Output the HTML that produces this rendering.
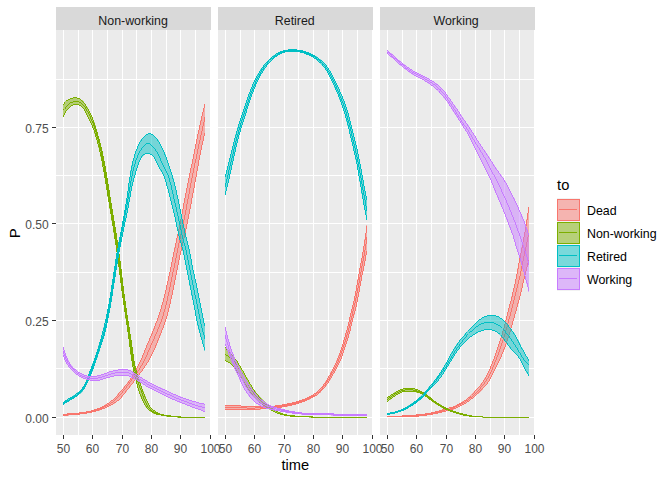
<!DOCTYPE html>
<html><head><meta charset="utf-8"><title>plot</title>
<style>
html,body{margin:0;padding:0;background:#fff;}
body{width:672px;height:480px;overflow:hidden;}
svg{display:block;}
text{font-family:"Liberation Sans",sans-serif;}
.tk{font-size:12px;fill:#4D4D4D;}
.st{font-size:12.4px;fill:#1A1A1A;}
.lg{font-size:12.4px;fill:#000;}
.ti{font-size:14.67px;fill:#000;}
</style></head><body>
<svg width="672" height="480" viewBox="0 0 672 480">
<rect x="0" y="0" width="672" height="480" fill="#FFFFFF"/>
<defs>
<clipPath id="cp0"><rect x="56.0" y="30.0" width="155.0" height="405.0"/></clipPath>
<clipPath id="cc0"><rect x="63" y="30.0" width="142" height="405.0"/></clipPath>
<clipPath id="cp1"><rect x="218.0" y="30.0" width="155.0" height="405.0"/></clipPath>
<clipPath id="cc1"><rect x="225" y="30.0" width="142" height="405.0"/></clipPath>
<clipPath id="cp2"><rect x="380.0" y="30.0" width="155.0" height="405.0"/></clipPath>
<clipPath id="cc2"><rect x="387" y="30.0" width="142" height="405.0"/></clipPath>
</defs>
<rect x="56.0" y="7.0" width="155.0" height="23.0" fill="#D9D9D9"/>
<rect x="56.0" y="30.0" width="155.0" height="405.0" fill="#EBEBEB"/>
<g clip-path="url(#cp0)" shape-rendering="crispEdges">
<rect x="56.0" y="368" width="155.0" height="1" fill="#fff"/>
<rect x="56.0" y="272" width="155.0" height="1" fill="#fff"/>
<rect x="56.0" y="175" width="155.0" height="1" fill="#fff"/>
<rect x="56.0" y="79" width="155.0" height="1" fill="#fff"/>
<rect x="56.0" y="417" width="155.0" height="1" fill="#fff"/>
<rect x="56.0" y="320" width="155.0" height="1" fill="#fff"/>
<rect x="56.0" y="223" width="155.0" height="1" fill="#fff"/>
<rect x="56.0" y="127" width="155.0" height="1" fill="#fff"/>
<rect x="78" y="30.0" width="1" height="405.0" fill="#fff"/>
<rect x="107" y="30.0" width="1" height="405.0" fill="#fff"/>
<rect x="136" y="30.0" width="1" height="405.0" fill="#fff"/>
<rect x="166" y="30.0" width="1" height="405.0" fill="#fff"/>
<rect x="195" y="30.0" width="1" height="405.0" fill="#fff"/>
<rect x="63" y="30.0" width="1" height="405.0" fill="#fff"/>
<rect x="92" y="30.0" width="1" height="405.0" fill="#fff"/>
<rect x="122" y="30.0" width="1" height="405.0" fill="#fff"/>
<rect x="151" y="30.0" width="1" height="405.0" fill="#fff"/>
<rect x="180" y="30.0" width="1" height="405.0" fill="#fff"/>
<rect x="210" y="30.0" width="1" height="405.0" fill="#fff"/>
<g clip-path="url(#cc0)">
<path d="M63.0,413.7 L63.5,413.7 L63.9,413.7 L64.4,413.6 L64.9,413.6 L65.4,413.6 L65.8,413.6 L66.3,413.6 L66.8,413.5 L67.3,413.5 L67.7,413.5 L68.2,413.5 L68.7,413.4 L69.2,413.4 L69.6,413.4 L70.1,413.3 L70.6,413.3 L71.1,413.3 L71.5,413.2 L72.0,413.2 L72.5,413.2 L73.0,413.1 L73.4,413.1 L73.9,413.1 L74.4,413.0 L74.9,413.0 L75.3,412.9 L75.8,412.9 L76.3,412.8 L76.8,412.8 L77.2,412.7 L77.7,412.7 L78.2,412.6 L78.7,412.6 L79.1,412.5 L79.6,412.5 L80.1,412.4 L80.6,412.4 L81.0,412.3 L81.5,412.2 L82.0,412.2 L82.5,412.1 L82.9,412.0 L83.4,412.0 L83.9,411.9 L84.4,411.8 L84.8,411.8 L85.3,411.7 L85.8,411.6 L86.3,411.5 L86.7,411.4 L87.2,411.3 L87.7,411.2 L88.2,411.1 L88.6,411.0 L89.1,410.9 L89.6,410.8 L90.1,410.7 L90.5,410.6 L91.0,410.5 L91.5,410.3 L92.0,410.2 L92.4,410.1 L92.9,409.9 L93.4,409.8 L93.9,409.6 L94.3,409.5 L94.8,409.4 L95.3,409.2 L95.8,409.0 L96.2,408.9 L96.7,408.7 L97.2,408.6 L97.7,408.4 L98.1,408.2 L98.6,408.0 L99.1,407.8 L99.6,407.6 L100.0,407.4 L100.5,407.2 L101.0,406.9 L101.5,406.7 L101.9,406.5 L102.4,406.2 L102.9,406.0 L103.4,405.7 L103.8,405.4 L104.3,405.2 L104.8,404.9 L105.3,404.6 L105.7,404.3 L106.2,404.0 L106.7,403.7 L107.2,403.4 L107.6,403.1 L108.1,402.8 L108.6,402.5 L109.1,402.2 L109.5,401.8 L110.0,401.5 L110.5,401.1 L111.0,400.8 L111.4,400.4 L111.9,400.0 L112.4,399.6 L112.9,399.2 L113.3,398.8 L113.8,398.3 L114.3,397.9 L114.8,397.4 L115.2,396.9 L115.7,396.4 L116.2,395.9 L116.7,395.4 L117.1,394.9 L117.6,394.3 L118.1,393.8 L118.6,393.2 L119.0,392.7 L119.5,392.1 L120.0,391.5 L120.5,391.0 L120.9,390.4 L121.4,389.9 L121.9,389.3 L122.4,388.7 L122.8,388.2 L123.3,387.6 L123.8,387.1 L124.3,386.5 L124.7,385.9 L125.2,385.4 L125.7,384.8 L126.2,384.2 L126.6,383.6 L127.1,382.9 L127.6,382.3 L128.1,381.6 L128.5,381.0 L129.0,380.3 L129.5,379.6 L130.0,378.9 L130.4,378.2 L130.9,377.5 L131.4,376.8 L131.9,376.1 L132.3,375.3 L132.8,374.6 L133.3,373.8 L133.8,373.0 L134.2,372.3 L134.7,371.5 L135.2,370.6 L135.7,369.8 L136.1,368.9 L136.6,368.1 L137.1,367.2 L137.6,366.2 L138.0,365.3 L138.5,364.3 L139.0,363.3 L139.5,362.3 L139.9,361.2 L140.4,360.1 L140.9,359.0 L141.4,357.9 L141.8,356.8 L142.3,355.6 L142.8,354.5 L143.3,353.3 L143.7,352.1 L144.2,350.9 L144.7,349.8 L145.2,348.6 L145.6,347.4 L146.1,346.3 L146.6,345.1 L147.1,344.0 L147.5,342.9 L148.0,341.8 L148.5,340.6 L149.0,339.5 L149.4,338.4 L149.9,337.3 L150.4,336.2 L150.9,335.0 L151.3,333.9 L151.8,332.7 L152.3,331.6 L152.8,330.4 L153.2,329.2 L153.7,328.0 L154.2,326.8 L154.7,325.6 L155.1,324.3 L155.6,323.0 L156.1,321.7 L156.6,320.4 L157.0,319.1 L157.5,317.7 L158.0,316.4 L158.5,315.0 L158.9,313.5 L159.4,312.1 L159.9,310.6 L160.4,309.0 L160.8,307.4 L161.3,305.8 L161.8,304.2 L162.3,302.4 L162.7,300.7 L163.2,298.9 L163.7,297.0 L164.2,295.2 L164.6,293.2 L165.1,291.3 L165.6,289.3 L166.1,287.2 L166.5,285.2 L167.0,283.1 L167.5,280.9 L168.0,278.8 L168.4,276.6 L168.9,274.3 L169.4,272.1 L169.9,269.8 L170.3,267.5 L170.8,265.2 L171.3,262.9 L171.8,260.6 L172.2,258.3 L172.7,256.0 L173.2,253.7 L173.7,251.4 L174.1,249.2 L174.6,246.9 L175.1,244.7 L175.6,242.5 L176.0,240.3 L176.5,238.1 L177.0,235.9 L177.5,233.7 L177.9,231.5 L178.4,229.2 L178.9,227.0 L179.4,224.6 L179.8,222.3 L180.3,219.9 L180.8,217.5 L181.3,215.1 L181.7,212.6 L182.2,210.1 L182.7,207.6 L183.2,205.1 L183.6,202.6 L184.1,200.1 L184.6,197.6 L185.1,195.2 L185.5,192.7 L186.0,190.3 L186.5,187.9 L187.0,185.5 L187.4,183.1 L187.9,180.8 L188.4,178.5 L188.9,176.2 L189.3,173.9 L189.8,171.7 L190.3,169.4 L190.8,167.2 L191.2,164.9 L191.7,162.7 L192.2,160.4 L192.7,158.1 L193.1,155.8 L193.6,153.5 L194.1,151.2 L194.6,148.8 L195.0,146.5 L195.5,144.1 L196.0,141.8 L196.5,139.4 L196.9,137.1 L197.4,134.8 L197.9,132.5 L198.4,130.2 L198.8,128.0 L199.3,125.8 L199.8,123.7 L200.3,121.5 L200.7,119.5 L201.2,117.4 L201.7,115.4 L202.2,113.4 L202.6,111.4 L203.1,109.5 L203.6,107.6 L204.1,105.7 L204.5,103.8 L205.0,101.9 L205.0,134.1 L204.5,136.1 L204.1,138.2 L203.6,140.3 L203.1,142.5 L202.6,144.7 L202.2,146.9 L201.7,149.2 L201.2,151.6 L200.7,154.0 L200.3,156.4 L199.8,158.9 L199.3,161.4 L198.8,164.0 L198.4,166.5 L197.9,169.1 L197.4,171.7 L196.9,174.3 L196.5,176.9 L196.0,179.5 L195.5,182.1 L195.0,184.7 L194.6,187.3 L194.1,189.8 L193.6,192.4 L193.1,194.9 L192.7,197.5 L192.2,200.0 L191.7,202.5 L191.2,205.0 L190.8,207.5 L190.3,210.0 L189.8,212.5 L189.3,214.9 L188.9,217.4 L188.4,219.8 L187.9,222.1 L187.4,224.4 L187.0,226.7 L186.5,229.0 L186.0,231.1 L185.5,233.3 L185.1,235.4 L184.6,237.5 L184.1,239.5 L183.6,241.5 L183.2,243.6 L182.7,245.6 L182.2,247.6 L181.7,249.7 L181.3,251.8 L180.8,254.0 L180.3,256.1 L179.8,258.4 L179.4,260.6 L178.9,262.9 L178.4,265.2 L177.9,267.6 L177.5,270.0 L177.0,272.4 L176.5,274.8 L176.0,277.2 L175.6,279.6 L175.1,282.0 L174.6,284.4 L174.1,286.8 L173.7,289.1 L173.2,291.5 L172.7,293.8 L172.2,296.0 L171.8,298.3 L171.3,300.4 L170.8,302.6 L170.3,304.7 L169.9,306.7 L169.4,308.6 L168.9,310.5 L168.4,312.4 L168.0,314.1 L167.5,315.8 L167.0,317.5 L166.5,319.1 L166.1,320.6 L165.6,322.0 L165.1,323.5 L164.6,324.8 L164.2,326.1 L163.7,327.4 L163.2,328.7 L162.7,329.9 L162.3,331.1 L161.8,332.3 L161.3,333.5 L160.8,334.7 L160.4,335.9 L159.9,337.1 L159.4,338.2 L158.9,339.4 L158.5,340.6 L158.0,341.8 L157.5,342.9 L157.0,344.1 L156.6,345.3 L156.1,346.4 L155.6,347.5 L155.1,348.6 L154.7,349.7 L154.2,350.7 L153.7,351.7 L153.2,352.8 L152.8,353.7 L152.3,354.7 L151.8,355.7 L151.3,356.6 L150.9,357.5 L150.4,358.4 L149.9,359.3 L149.4,360.1 L149.0,361.0 L148.5,361.8 L148.0,362.6 L147.5,363.4 L147.1,364.1 L146.6,364.9 L146.1,365.6 L145.6,366.3 L145.2,367.0 L144.7,367.7 L144.2,368.4 L143.7,369.1 L143.3,369.7 L142.8,370.4 L142.3,371.0 L141.8,371.6 L141.4,372.2 L140.9,372.9 L140.4,373.5 L139.9,374.1 L139.5,374.7 L139.0,375.3 L138.5,376.0 L138.0,376.6 L137.6,377.2 L137.1,377.9 L136.6,378.5 L136.1,379.2 L135.7,379.8 L135.2,380.4 L134.7,381.1 L134.2,381.7 L133.8,382.4 L133.3,383.0 L132.8,383.6 L132.3,384.3 L131.9,384.9 L131.4,385.5 L130.9,386.1 L130.4,386.7 L130.0,387.3 L129.5,387.9 L129.0,388.5 L128.5,389.1 L128.1,389.7 L127.6,390.2 L127.1,390.8 L126.6,391.4 L126.2,392.0 L125.7,392.6 L125.2,393.2 L124.7,393.8 L124.3,394.4 L123.8,395.0 L123.3,395.6 L122.8,396.2 L122.4,396.7 L121.9,397.3 L121.4,397.8 L120.9,398.3 L120.5,398.8 L120.0,399.3 L119.5,399.8 L119.0,400.2 L118.6,400.6 L118.1,401.0 L117.6,401.4 L117.1,401.8 L116.7,402.1 L116.2,402.4 L115.7,402.8 L115.2,403.1 L114.8,403.4 L114.3,403.7 L113.8,404.0 L113.3,404.3 L112.9,404.5 L112.4,404.8 L111.9,405.1 L111.4,405.3 L111.0,405.6 L110.5,405.8 L110.0,406.1 L109.5,406.3 L109.1,406.5 L108.6,406.8 L108.1,407.0 L107.6,407.2 L107.2,407.4 L106.7,407.6 L106.2,407.9 L105.7,408.1 L105.3,408.3 L104.8,408.5 L104.3,408.7 L103.8,408.9 L103.4,409.1 L102.9,409.3 L102.4,409.4 L101.9,409.6 L101.5,409.8 L101.0,410.0 L100.5,410.1 L100.0,410.3 L99.6,410.5 L99.1,410.6 L98.6,410.8 L98.1,410.9 L97.7,411.1 L97.2,411.2 L96.7,411.3 L96.2,411.5 L95.8,411.6 L95.3,411.7 L94.8,411.8 L94.3,412.0 L93.9,412.1 L93.4,412.2 L92.9,412.3 L92.4,412.4 L92.0,412.6 L91.5,412.7 L91.0,412.8 L90.5,412.9 L90.1,413.0 L89.6,413.1 L89.1,413.2 L88.6,413.3 L88.2,413.4 L87.7,413.4 L87.2,413.5 L86.7,413.6 L86.3,413.7 L85.8,413.8 L85.3,413.8 L84.8,413.9 L84.4,414.0 L83.9,414.0 L83.4,414.1 L82.9,414.2 L82.5,414.2 L82.0,414.3 L81.5,414.3 L81.0,414.4 L80.6,414.4 L80.1,414.5 L79.6,414.5 L79.1,414.6 L78.7,414.6 L78.2,414.7 L77.7,414.7 L77.2,414.8 L76.8,414.8 L76.3,414.9 L75.8,414.9 L75.3,414.9 L74.9,415.0 L74.4,415.0 L73.9,415.1 L73.4,415.1 L73.0,415.1 L72.5,415.2 L72.0,415.2 L71.5,415.3 L71.1,415.3 L70.6,415.3 L70.1,415.4 L69.6,415.4 L69.2,415.4 L68.7,415.5 L68.2,415.5 L67.7,415.5 L67.3,415.6 L66.8,415.6 L66.3,415.6 L65.8,415.7 L65.4,415.7 L64.9,415.7 L64.4,415.7 L63.9,415.8 L63.5,415.8 L63.0,415.8Z" fill="#F8766D" fill-opacity="0.5" stroke="none"/>
<path d="M79,412h13v1h-13zM97,408h8v1h-8zM108,404h2v1h-2zM111,404h2v1h-2zM67,413h20v1h-20zM107,403h2v1h-2zM86,411h10v1h-10zM94,409h8v1h-8zM63,414h17v1h-17zM63,415h5v1h-5zM102,406h4v1h-4zM107,406h2v1h-2zM111,400h2v1h-2zM117,400h2v1h-2zM104,405h4v1h-4zM109,405h2v1h-2zM91,410h8v1h-8zM100,407h4v1h-4zM105,407h2v1h-2zM128,382h2v1h-2zM130,379h2v1h-2zM111,402h2v1h-2zM114,402h2v1h-2zM201,116h1v5h-1zM201,131h1v4h-1zM201,145h1v5h-1zM185,193h1v5h-1zM185,210h1v5h-1zM185,229h1v4h-1zM149,338h1v3h-1zM149,348h1v2h-1zM149,358h1v2h-1zM187,183h1v5h-1zM187,199h1v5h-1zM187,219h1v5h-1zM197,134h1v5h-1zM197,149h1v5h-1zM197,166h1v5h-1zM161,305h1v4h-1zM161,319h1v3h-1zM161,330h1v3h-1zM188,178h1v5h-1zM188,194h1v5h-1zM188,214h1v5h-1zM179,224h1v5h-1zM179,239h1v4h-1zM179,255h1v5h-1zM189,173h1v5h-1zM189,188h1v6h-1zM189,209h1v5h-1zM176,238h1v5h-1zM176,253h1v5h-1zM176,270h1v5h-1zM106,404h1v1h-1zM138,364h1v2h-1zM138,370h1v1h-1zM138,375h1v1h-1zM175,243h1v5h-1zM175,258h1v5h-1zM175,275h1v5h-1zM202,112h1v4h-1zM202,126h1v5h-1zM202,141h1v4h-1zM191,164h1v4h-1zM191,178h1v5h-1zM191,198h1v6h-1zM192,159h1v5h-1zM192,173h1v5h-1zM192,193h1v5h-1zM180,219h1v5h-1zM180,234h1v5h-1zM180,251h1v4h-1zM165,290h1v4h-1zM165,305h1v4h-1zM165,319h1v3h-1zM118,393h1v2h-1zM118,396h1v1h-1zM142,355h1v3h-1zM142,363h1v2h-1zM142,369h1v2h-1zM154,326h1v3h-1zM154,336h1v3h-1zM154,348h1v2h-1zM196,139h1v5h-1zM196,154h1v5h-1zM196,171h1v6h-1zM166,285h1v5h-1zM166,301h1v4h-1zM166,316h1v3h-1zM184,198h1v5h-1zM184,215h1v5h-1zM184,233h1v5h-1zM113,399h1v1h-1zM113,401h1v1h-1zM113,403h1v1h-1zM158,315h1v3h-1zM158,327h1v2h-1zM158,338h1v2h-1zM133,374h1v1h-1zM133,377h1v1h-1zM133,381h1v2h-1zM193,154h1v5h-1zM193,168h1v5h-1zM193,188h1v5h-1zM183,203h1v6h-1zM183,220h1v5h-1zM183,238h1v4h-1zM170,267h1v5h-1zM170,282h1v5h-1zM170,299h1v5h-1zM171,262h1v5h-1zM171,277h1v5h-1zM171,295h1v4h-1zM157,318h1v3h-1zM157,329h1v3h-1zM157,340h1v3h-1zM160,309h1v3h-1zM160,322h1v2h-1zM160,333h1v2h-1zM122,389h1v1h-1zM122,391h1v2h-1zM122,395h1v1h-1zM174,248h1v4h-1zM174,263h1v5h-1zM174,280h1v5h-1zM153,329h1v2h-1zM153,339h1v2h-1zM153,350h1v2h-1zM162,302h1v3h-1zM162,316h1v3h-1zM162,328h1v2h-1zM178,229h1v5h-1zM178,243h1v5h-1zM178,260h1v5h-1zM121,390h1v1h-1zM121,393h1v1h-1zM121,396h1v2h-1zM141,358h1v2h-1zM141,365h1v1h-1zM141,371h1v1h-1zM144,350h1v3h-1zM144,359h1v2h-1zM144,366h1v2h-1zM110,401h1v1h-1zM110,403h1v1h-1zM169,272h1v4h-1zM169,287h1v5h-1zM169,304h1v4h-1zM173,252h1v5h-1zM173,268h1v4h-1zM173,285h1v5h-1zM200,121h1v4h-1zM200,135h1v5h-1zM200,150h1v5h-1zM177,234h1v4h-1zM177,248h1v5h-1zM177,265h1v5h-1zM129,380h1v1h-1zM129,383h1v1h-1zM129,386h1v2h-1zM182,209h1v5h-1zM182,225h1v4h-1zM182,242h1v4h-1zM168,276h1v5h-1zM168,292h1v4h-1zM168,308h1v4h-1zM125,385h1v1h-1zM125,388h1v1h-1zM125,391h1v2h-1zM117,395h1v1h-1zM117,397h1v1h-1zM140,360h1v2h-1zM140,366h1v2h-1zM140,372h1v1h-1zM120,391h1v1h-1zM120,394h1v1h-1zM120,398h1v1h-1zM204,104h1v4h-1zM204,117h1v5h-1zM204,133h1v3h-1zM190,168h1v5h-1zM190,183h1v5h-1zM190,204h1v5h-1zM152,331h1v3h-1zM152,341h1v2h-1zM152,352h1v2h-1zM132,375h1v2h-1zM132,378h1v1h-1zM132,383h1v1h-1zM156,321h1v2h-1zM156,332h1v2h-1zM156,343h1v2h-1zM145,348h1v2h-1zM145,357h1v2h-1zM145,365h1v1h-1zM195,144h1v5h-1zM195,159h1v4h-1zM195,177h1v5h-1zM172,257h1v5h-1zM172,272h1v5h-1zM172,290h1v5h-1zM124,386h1v2h-1zM124,389h1v1h-1zM124,393h1v1h-1zM199,125h1v5h-1zM199,140h1v4h-1zM199,155h1v5h-1zM116,396h1v1h-1zM116,398h1v1h-1zM116,401h1v1h-1zM203,108h1v4h-1zM203,122h1v4h-1zM203,136h1v5h-1zM128,381h1v1h-1zM128,384h1v1h-1zM128,388h1v1h-1zM148,341h1v2h-1zM148,350h1v2h-1zM148,360h1v2h-1zM186,188h1v5h-1zM186,204h1v6h-1zM186,224h1v5h-1zM151,334h1v2h-1zM151,343h1v2h-1zM151,354h1v2h-1zM194,149h1v5h-1zM194,163h1v5h-1zM194,182h1v6h-1zM181,214h1v5h-1zM181,229h1v5h-1zM181,246h1v5h-1zM135,370h1v2h-1zM135,374h1v1h-1zM135,378h1v2h-1zM147,343h1v2h-1zM147,352h1v3h-1zM147,362h1v1h-1zM198,130h1v4h-1zM198,144h1v5h-1zM198,160h1v6h-1zM139,362h1v2h-1zM139,368h1v2h-1zM139,373h1v2h-1zM164,294h1v4h-1zM164,309h1v3h-1zM164,322h1v3h-1zM159,312h1v3h-1zM159,324h1v3h-1zM159,335h1v3h-1zM127,383h1v1h-1zM127,385h1v1h-1zM127,389h1v1h-1zM163,298h1v4h-1zM163,312h1v4h-1zM163,325h1v3h-1zM155,323h1v3h-1zM155,334h1v2h-1zM155,345h1v3h-1zM123,388h1v1h-1zM123,390h1v1h-1zM123,394h1v1h-1zM143,353h1v2h-1zM143,361h1v2h-1zM143,368h1v1h-1zM167,281h1v4h-1zM167,296h1v5h-1zM167,312h1v4h-1zM131,377h1v1h-1zM131,380h1v1h-1zM131,384h1v1h-1zM115,397h1v1h-1zM115,399h1v1h-1zM126,384h1v1h-1zM126,386h1v2h-1zM126,390h1v1h-1zM134,372h1v2h-1zM134,375h1v2h-1zM134,380h1v1h-1zM146,345h1v3h-1zM146,355h1v2h-1zM146,363h1v2h-1zM119,392h1v1h-1zM119,395h1v1h-1zM119,399h1v1h-1zM114,398h1v1h-1zM114,400h1v1h-1zM150,336h1v2h-1zM150,345h1v3h-1zM150,356h1v2h-1zM137,366h1v2h-1zM137,371h1v2h-1zM137,376h1v1h-1zM130,378h1v1h-1zM130,381h1v1h-1zM130,385h1v1h-1zM109,402h1v1h-1zM136,368h1v2h-1zM136,373h1v1h-1zM136,377h1v1h-1z" fill="#F8766D"/>

<path d="M63.0,104.2 L63.5,103.6 L63.9,103.0 L64.4,102.4 L64.9,101.8 L65.4,101.3 L65.8,100.9 L66.3,100.5 L66.8,100.1 L67.3,99.8 L67.7,99.5 L68.2,99.2 L68.7,99.0 L69.2,98.8 L69.6,98.6 L70.1,98.4 L70.6,98.2 L71.1,98.1 L71.5,97.9 L72.0,97.7 L72.5,97.6 L73.0,97.5 L73.4,97.4 L73.9,97.3 L74.4,97.2 L74.9,97.2 L75.3,97.2 L75.8,97.2 L76.3,97.3 L76.8,97.4 L77.2,97.5 L77.7,97.7 L78.2,97.8 L78.7,98.0 L79.1,98.2 L79.6,98.5 L80.1,98.7 L80.6,99.0 L81.0,99.3 L81.5,99.6 L82.0,100.0 L82.5,100.4 L82.9,100.8 L83.4,101.3 L83.9,101.8 L84.4,102.4 L84.8,103.0 L85.3,103.7 L85.8,104.4 L86.3,105.2 L86.7,106.0 L87.2,106.9 L87.7,107.7 L88.2,108.6 L88.6,109.6 L89.1,110.5 L89.6,111.4 L90.1,112.4 L90.5,113.3 L91.0,114.3 L91.5,115.2 L92.0,116.2 L92.4,117.2 L92.9,118.2 L93.4,119.4 L93.9,120.6 L94.3,121.9 L94.8,123.3 L95.3,124.8 L95.8,126.3 L96.2,127.8 L96.7,129.3 L97.2,130.8 L97.7,132.5 L98.1,134.1 L98.6,135.9 L99.1,137.7 L99.6,139.5 L100.0,141.3 L100.5,143.1 L101.0,144.9 L101.5,146.8 L101.9,148.7 L102.4,150.7 L102.9,152.9 L103.4,155.1 L103.8,157.4 L104.3,159.7 L104.8,162.2 L105.3,164.7 L105.7,167.3 L106.2,170.0 L106.7,172.7 L107.2,175.5 L107.6,178.4 L108.1,181.4 L108.6,184.4 L109.1,187.4 L109.5,190.5 L110.0,193.6 L110.5,196.6 L111.0,199.6 L111.4,202.6 L111.9,205.6 L112.4,208.5 L112.9,211.4 L113.3,214.2 L113.8,217.1 L114.3,219.9 L114.8,222.8 L115.2,225.7 L115.7,228.6 L116.2,231.5 L116.7,234.5 L117.1,237.5 L117.6,240.5 L118.1,243.7 L118.6,246.9 L119.0,250.2 L119.5,253.6 L120.0,257.1 L120.5,260.8 L120.9,264.6 L121.4,268.4 L121.9,272.3 L122.4,276.3 L122.8,280.3 L123.3,284.2 L123.8,288.1 L124.3,291.9 L124.7,295.5 L125.2,299.0 L125.7,302.4 L126.2,305.7 L126.6,308.9 L127.1,312.0 L127.6,315.1 L128.1,318.1 L128.5,321.1 L129.0,324.0 L129.5,327.0 L130.0,330.1 L130.4,333.2 L130.9,336.3 L131.4,339.6 L131.9,342.9 L132.3,346.3 L132.8,349.6 L133.3,352.9 L133.8,356.1 L134.2,359.0 L134.7,361.7 L135.2,364.2 L135.7,366.4 L136.1,368.5 L136.6,370.5 L137.1,372.3 L137.6,374.0 L138.0,375.7 L138.5,377.3 L139.0,378.8 L139.5,380.3 L139.9,381.7 L140.4,383.1 L140.9,384.5 L141.4,385.8 L141.8,387.1 L142.3,388.3 L142.8,389.6 L143.3,390.8 L143.7,392.0 L144.2,393.2 L144.7,394.4 L145.2,395.6 L145.6,396.7 L146.1,397.9 L146.6,399.0 L147.1,400.0 L147.5,401.1 L148.0,402.1 L148.5,403.1 L149.0,404.1 L149.4,405.0 L149.9,405.9 L150.4,406.6 L150.9,407.3 L151.3,407.8 L151.8,408.3 L152.3,408.8 L152.8,409.2 L153.2,409.5 L153.7,409.9 L154.2,410.2 L154.7,410.5 L155.1,410.8 L155.6,411.1 L156.1,411.4 L156.6,411.6 L157.0,411.9 L157.5,412.2 L158.0,412.5 L158.5,412.7 L158.9,413.0 L159.4,413.2 L159.9,413.4 L160.4,413.6 L160.8,413.8 L161.3,413.9 L161.8,414.1 L162.3,414.2 L162.7,414.3 L163.2,414.4 L163.7,414.5 L164.2,414.6 L164.6,414.7 L165.1,414.7 L165.6,414.8 L166.1,414.9 L166.5,415.0 L167.0,415.0 L167.5,415.1 L168.0,415.2 L168.4,415.2 L168.9,415.3 L169.4,415.3 L169.9,415.4 L170.3,415.5 L170.8,415.5 L171.3,415.6 L171.8,415.6 L172.2,415.7 L172.7,415.7 L173.2,415.8 L173.7,415.8 L174.1,415.9 L174.6,415.9 L175.1,416.0 L175.6,416.0 L176.0,416.1 L176.5,416.1 L177.0,416.2 L177.5,416.2 L177.9,416.2 L178.4,416.3 L178.9,416.3 L179.4,416.4 L179.8,416.4 L180.3,416.5 L180.8,416.5 L181.3,416.5 L181.7,416.6 L182.2,416.6 L182.7,416.7 L183.2,416.7 L183.6,416.7 L184.1,416.7 L184.6,416.8 L185.1,416.8 L185.5,416.8 L186.0,416.9 L186.5,416.9 L187.0,416.9 L187.4,416.9 L187.9,416.9 L188.4,417.0 L188.9,417.0 L189.3,417.0 L189.8,417.0 L190.3,417.0 L190.8,417.0 L191.2,417.0 L191.7,417.0 L192.2,417.0 L192.7,417.0 L193.1,417.0 L193.6,417.0 L194.1,417.0 L194.6,417.0 L195.0,417.0 L195.5,417.0 L196.0,417.0 L196.5,417.0 L196.9,417.0 L197.4,417.0 L197.9,417.0 L198.4,417.0 L198.8,417.0 L199.3,417.0 L199.8,417.0 L200.3,417.0 L200.7,417.0 L201.2,417.0 L201.7,417.0 L202.2,417.0 L202.6,417.0 L203.1,417.0 L203.6,417.0 L204.1,417.0 L204.5,417.0 L205.0,417.0 L205.0,418.0 L204.5,418.0 L204.1,418.0 L203.6,418.0 L203.1,418.0 L202.6,418.0 L202.2,418.0 L201.7,418.0 L201.2,418.0 L200.7,418.0 L200.3,418.0 L199.8,418.0 L199.3,418.0 L198.8,418.0 L198.4,418.0 L197.9,418.0 L197.4,418.0 L196.9,418.0 L196.5,418.0 L196.0,418.0 L195.5,418.0 L195.0,418.0 L194.6,418.0 L194.1,418.0 L193.6,418.0 L193.1,418.0 L192.7,418.0 L192.2,418.0 L191.7,418.0 L191.2,418.0 L190.8,418.0 L190.3,418.0 L189.8,418.0 L189.3,418.0 L188.9,418.0 L188.4,418.0 L187.9,417.9 L187.4,417.9 L187.0,417.9 L186.5,417.9 L186.0,417.9 L185.5,417.8 L185.1,417.8 L184.6,417.8 L184.1,417.8 L183.6,417.7 L183.2,417.7 L182.7,417.7 L182.2,417.7 L181.7,417.7 L181.3,417.6 L180.8,417.6 L180.3,417.6 L179.8,417.6 L179.4,417.6 L178.9,417.5 L178.4,417.5 L177.9,417.5 L177.5,417.5 L177.0,417.4 L176.5,417.4 L176.0,417.4 L175.6,417.3 L175.1,417.3 L174.6,417.3 L174.1,417.2 L173.7,417.2 L173.2,417.2 L172.7,417.1 L172.2,417.1 L171.8,417.0 L171.3,417.0 L170.8,417.0 L170.3,416.9 L169.9,416.9 L169.4,416.8 L168.9,416.8 L168.4,416.7 L168.0,416.7 L167.5,416.6 L167.0,416.5 L166.5,416.5 L166.1,416.4 L165.6,416.3 L165.1,416.2 L164.6,416.2 L164.2,416.1 L163.7,416.0 L163.2,415.9 L162.7,415.8 L162.3,415.8 L161.8,415.7 L161.3,415.6 L160.8,415.5 L160.4,415.4 L159.9,415.4 L159.4,415.3 L158.9,415.2 L158.5,415.1 L158.0,415.1 L157.5,415.0 L157.0,414.9 L156.6,414.8 L156.1,414.6 L155.6,414.5 L155.1,414.3 L154.7,414.1 L154.2,413.9 L153.7,413.7 L153.2,413.4 L152.8,413.1 L152.3,412.8 L151.8,412.5 L151.3,412.2 L150.9,411.9 L150.4,411.5 L149.9,411.2 L149.4,410.8 L149.0,410.4 L148.5,409.9 L148.0,409.4 L147.5,409.0 L147.1,408.4 L146.6,407.9 L146.1,407.3 L145.6,406.7 L145.2,406.1 L144.7,405.4 L144.2,404.6 L143.7,403.8 L143.3,402.9 L142.8,401.9 L142.3,400.9 L141.8,399.9 L141.4,398.7 L140.9,397.6 L140.4,396.3 L139.9,395.0 L139.5,393.6 L139.0,392.3 L138.5,390.8 L138.0,389.3 L137.6,387.8 L137.1,386.2 L136.6,384.6 L136.1,382.9 L135.7,381.1 L135.2,379.3 L134.7,377.4 L134.2,375.4 L133.8,373.3 L133.3,371.1 L132.8,368.8 L132.3,366.3 L131.9,363.6 L131.4,360.6 L130.9,357.4 L130.4,354.0 L130.0,350.4 L129.5,346.7 L129.0,343.0 L128.5,339.3 L128.1,335.8 L127.6,332.4 L127.1,329.1 L126.6,325.9 L126.2,322.8 L125.7,319.7 L125.2,316.7 L124.7,313.6 L124.3,310.5 L123.8,307.3 L123.3,304.0 L122.8,300.7 L122.4,297.3 L121.9,293.7 L121.4,290.1 L120.9,286.4 L120.5,282.6 L120.0,278.8 L119.5,275.0 L119.0,271.2 L118.6,267.4 L118.1,263.7 L117.6,260.1 L117.1,256.6 L116.7,253.2 L116.2,249.8 L115.7,246.6 L115.2,243.5 L114.8,240.4 L114.3,237.3 L113.8,234.3 L113.3,231.4 L112.9,228.5 L112.4,225.6 L111.9,222.7 L111.4,219.9 L111.0,217.1 L110.5,214.2 L110.0,211.4 L109.5,208.6 L109.1,205.7 L108.6,202.9 L108.1,200.0 L107.6,197.1 L107.2,194.2 L106.7,191.3 L106.2,188.4 L105.7,185.5 L105.3,182.6 L104.8,179.8 L104.3,177.0 L103.8,174.3 L103.4,171.6 L102.9,168.9 L102.4,166.3 L101.9,163.8 L101.5,161.3 L101.0,158.9 L100.5,156.5 L100.0,154.2 L99.6,152.0 L99.1,150.0 L98.6,148.0 L98.1,146.1 L97.7,144.4 L97.2,142.7 L96.7,141.0 L96.2,139.4 L95.8,137.8 L95.3,136.1 L94.8,134.5 L94.3,132.9 L93.9,131.4 L93.4,130.0 L92.9,128.7 L92.4,127.5 L92.0,126.3 L91.5,125.2 L91.0,124.1 L90.5,123.0 L90.1,122.0 L89.6,121.0 L89.1,120.1 L88.6,119.2 L88.2,118.3 L87.7,117.4 L87.2,116.6 L86.7,115.7 L86.3,114.8 L85.8,113.8 L85.3,112.8 L84.8,111.9 L84.4,110.9 L83.9,110.0 L83.4,109.1 L82.9,108.4 L82.5,107.8 L82.0,107.3 L81.5,106.8 L81.0,106.4 L80.6,106.1 L80.1,105.9 L79.6,105.6 L79.1,105.5 L78.7,105.3 L78.2,105.2 L77.7,105.1 L77.2,105.0 L76.8,104.9 L76.3,104.9 L75.8,104.8 L75.3,104.8 L74.9,104.9 L74.4,105.0 L73.9,105.1 L73.4,105.3 L73.0,105.5 L72.5,105.7 L72.0,106.0 L71.5,106.3 L71.1,106.6 L70.6,106.9 L70.1,107.3 L69.6,107.7 L69.2,108.1 L68.7,108.5 L68.2,109.0 L67.7,109.6 L67.3,110.2 L66.8,110.9 L66.3,111.6 L65.8,112.3 L65.4,113.2 L64.9,114.1 L64.4,115.1 L63.9,116.1 L63.5,117.1 L63.0,118.2Z" fill="#7CAE00" fill-opacity="0.5" stroke="none"/>
<path d="M110,210h3v1h-3zM120,277h2v1h-2zM127,325h2v1h-2zM103,171h3v1h-3zM129,344h3v1h-3zM111,219h3v1h-3zM121,286h3v1h-3zM105,180h3v1h-3zM130,353h3v1h-3zM85,107h2v1h-2zM94,131h3v1h-3zM106,185h3v1h-3zM114,233h3v1h-3zM107,194h3v1h-3zM167,416h14v1h-14zM114,237h3v1h-3zM97,140h3v1h-3zM133,368h3v1h-3zM122,296h3v1h-3zM178,417h27v1h-27zM151,411h3v1h-3zM100,154h3v1h-3zM124,305h2v1h-2zM73,101h6v1h-6zM109,204h3v1h-3zM117,252h2v1h-2zM126,319h2v1h-2zM110,213h3v1h-3zM118,261h3v1h-3zM120,280h3v1h-3zM100,155h3v1h-3zM127,328h3v1h-3zM102,164h3v1h-3zM137,378h2v1h-2zM95,134h3v1h-3zM119,272h3v1h-3zM104,166h2v1h-2zM111,214h2v1h-2zM129,339h2v1h-2zM120,281h3v1h-3zM130,348h3v1h-3zM104,175h3v1h-3zM121,290h3v1h-3zM161,415h10v1h-10zM106,189h3v1h-3zM108,198h3v1h-3zM114,232h2v1h-2zM68,99h2v1h-2zM140,388h2v1h-2zM98,144h3v1h-3zM99,149h3v1h-3zM131,358h3v1h-3zM123,300h2v1h-2zM101,158h3v1h-3zM93,123h2v1h-2zM133,367h3v1h-3zM66,100h2v1h-2zM124,309h3v1h-3zM116,247h3v1h-3zM93,128h3v1h-3zM110,208h2v1h-2zM120,275h2v1h-2zM126,323h3v1h-3zM111,217h3v1h-3zM89,114h2v1h-2zM90,116h2v1h-2zM95,129h2v1h-2zM128,334h3v1h-3zM110,209h3v1h-3zM120,276h2v1h-2zM156,414h8v1h-8zM103,170h3v1h-3zM73,97h4v1h-4zM129,343h3v1h-3zM121,285h2v1h-2zM105,179h3v1h-3zM130,352h3v1h-3zM106,184h3v1h-3zM141,391h2v1h-2zM107,193h3v1h-3zM113,227h3v1h-3zM122,294h3v1h-3zM70,98h3v1h-3zM77,98h3v1h-3zM114,236h3v1h-3zM123,303h3v1h-3zM98,139h2v1h-2zM122,295h3v1h-3zM71,105h2v1h-2zM79,105h2v1h-2zM100,153h3v1h-3zM132,362h3v1h-3zM117,256h3v1h-3zM149,410h3v1h-3zM153,410h2v1h-2zM123,304h3v1h-3zM135,371h2v1h-2zM109,203h3v1h-3zM96,132h2v1h-2zM152,412h6v1h-6zM126,318h2v1h-2zM119,270h3v1h-3zM110,212h3v1h-3zM120,279h3v1h-3zM104,173h3v1h-3zM126,322h3v1h-3zM154,413h6v1h-6zM119,271h3v1h-3zM128,338h3v1h-3zM130,347h3v1h-3zM136,381h2v1h-2zM104,174h3v1h-3zM95,133h3v1h-3zM97,142h3v1h-3zM112,222h3v1h-3zM121,289h3v1h-3zM113,231h3v1h-3zM123,298h2v1h-2zM107,192h3v1h-3zM92,121h2v1h-2zM132,365h3v1h-3zM115,242h3v1h-3zM99,148h3v1h-3zM131,357h3v1h-3zM116,251h3v1h-3zM123,299h2v1h-2zM101,157h3v1h-3zM94,127h2v1h-2zM118,265h3v1h-3zM109,207h3v1h-3zM119,274h3v1h-3zM103,168h3v1h-3zM125,317h3v1h-3zM104,177h3v1h-3zM103,169h3v1h-3zM129,342h3v1h-3zM135,376h3v1h-3zM129,346h3v1h-3zM96,137h3v1h-3zM105,178h3v1h-3zM113,226h2v1h-2zM130,351h3v1h-3zM122,293h2v1h-2zM106,187h3v1h-3zM114,235h3v1h-3zM123,302h3v1h-3zM131,360h3v1h-3zM96,138h3v1h-3zM116,246h2v1h-2zM132,361h3v1h-3zM117,255h3v1h-3zM133,370h2v1h-2zM112,221h3v1h-3zM119,269h3v1h-3zM102,163h3v1h-3zM113,230h3v1h-3zM125,312h2v1h-2zM120,278h3v1h-3zM104,172h3v1h-3zM137,379h2v1h-2zM126,321h3v1h-3zM109,206h3v1h-3zM136,380h3v1h-3zM91,119h2v1h-2zM129,341h3v1h-3zM139,385h2v1h-2zM97,141h3v1h-3zM70,102h3v1h-3zM79,102h2v1h-2zM121,288h3v1h-3zM105,182h3v1h-3zM131,355h3v1h-3zM116,249h3v1h-3zM107,191h3v1h-3zM132,364h3v1h-3zM122,297h3v1h-3zM100,152h3v1h-3zM115,241h3v1h-3zM131,356h3v1h-3zM116,250h3v1h-3zM73,104h6v1h-6zM111,216h3v1h-3zM118,264h3v1h-3zM112,225h3v1h-3zM108,201h3v1h-3zM103,167h3v1h-3zM134,374h2v1h-2zM125,316h3v1h-3zM143,396h2v1h-2zM127,327h3v1h-3zM136,375h2v1h-2zM128,336h3v1h-3zM129,345h3v1h-3zM97,136h2v1h-2zM130,350h3v1h-3zM115,244h3v1h-3zM122,292h2v1h-2zM106,186h3v1h-3zM131,359h3v1h-3zM99,147h3v1h-3zM107,195h3v1h-3zM116,245h2v1h-2zM117,254h3v1h-3zM112,220h2v1h-2zM146,406h2v1h-2zM102,162h3v1h-3zM133,369h3v1h-3zM113,229h3v1h-3zM124,311h3v1h-3zM92,125h3v1h-3zM126,320h2v1h-2zM118,263h3v1h-3zM109,205h3v1h-3zM127,331h3v1h-3zM129,340h3v1h-3zM115,239h2v1h-2zM121,287h3v1h-3zM124,306h2v1h-2zM105,181h3v1h-3zM131,354h3v1h-3zM116,248h3v1h-3zM125,315h3v1h-3zM107,190h3v1h-3zM132,363h3v1h-3zM122,291h2v1h-2zM115,240h3v1h-3zM111,215h3v1h-3zM117,258h3v1h-3zM112,224h3v1h-3zM108,200h3v1h-3zM119,267h2v1h-2zM134,373h3v1h-3zM102,161h3v1h-3zM137,384h2v1h-2zM128,335h3v1h-3zM98,145h3v1h-3zM114,234h3v1h-3zM123,301h3v1h-3zM130,349h3v1h-3zM115,243h3v1h-3zM124,310h3v1h-3zM141,390h2v1h-2zM98,146h3v1h-3zM93,124h2v1h-2zM118,262h3v1h-3zM101,156h3v1h-3zM135,377h2v1h-2zM112,223h3v1h-3zM127,329h3v1h-3zM102,165h3v1h-3zM113,228h3v1h-3zM95,135h3v1h-3zM127,330h3v1h-3zM106,188h3v1h-3zM114,238h3v1h-3zM134,372h3v1h-3zM125,314h2v1h-2zM108,199h3v1h-3zM99,150h3v1h-3zM101,159h3v1h-3zM117,257h3v1h-3zM126,324h3v1h-3zM111,218h3v1h-3zM118,266h3v1h-3zM101,160h3v1h-3zM128,333h2v1h-2zM94,130h3v1h-3zM105,183h3v1h-3zM118,260h2v1h-2zM128,337h3v1h-3zM88,112h2v1h-2zM108,197h3v1h-3zM124,308h3v1h-3zM121,284h2v1h-2zM128,332h2v1h-2zM138,382h2v1h-2zM99,143h2v1h-2zM134,366h2v1h-2zM92,122h2v1h-2zM110,211h3v1h-3zM118,259h2v1h-2zM127,326h2v1h-2zM108,196h2v1h-2zM124,307h2v1h-2zM94,126h2v1h-2zM119,273h3v1h-3zM120,282h3v1h-3zM104,176h3v1h-3zM121,283h2v1h-2zM101,151h2v1h-2zM119,268h2v1h-2zM142,393h2v1h-2zM117,253h2v1h-2zM125,313h2v1h-2zM109,202h2v1h-2zM148,403h1v2h-1zM148,407h1v1h-1zM148,409h1v1h-1zM146,399h1v2h-1zM146,403h1v2h-1zM146,407h1v1h-1zM65,107h1v2h-1zM65,111h1v2h-1zM88,109h1v2h-1zM88,113h1v1h-1zM88,117h1v2h-1zM81,100h1v1h-1zM81,103h1v1h-1zM81,106h1v1h-1zM141,386h1v2h-1zM141,392h1v1h-1zM141,396h1v3h-1zM143,392h1v1h-1zM143,397h1v2h-1zM143,401h1v2h-1zM142,389h1v1h-1zM142,394h1v2h-1zM142,399h1v2h-1zM63,104h1v1h-1zM63,109h1v1h-1zM63,115h1v2h-1zM149,405h1v2h-1zM149,408h1v1h-1zM137,374h1v1h-1zM137,385h1v3h-1zM82,101h1v1h-1zM82,104h1v1h-1zM82,107h1v1h-1zM135,378h1v2h-1zM138,377h1v1h-1zM138,383h1v1h-1zM138,388h1v3h-1zM90,113h1v1h-1zM90,117h1v2h-1zM90,121h1v2h-1zM144,394h1v2h-1zM144,399h1v2h-1zM144,403h1v2h-1zM86,106h1v1h-1zM86,109h1v2h-1zM86,113h1v2h-1zM136,370h1v1h-1zM136,382h1v2h-1zM67,105h1v1h-1zM67,109h1v1h-1zM140,383h1v2h-1zM140,389h1v1h-1zM140,394h1v2h-1zM66,106h1v1h-1zM66,110h1v1h-1zM84,103h1v1h-1zM84,106h1v1h-1zM84,109h1v2h-1zM80,99h1v1h-1zM89,111h1v1h-1zM89,115h1v1h-1zM89,119h1v2h-1zM95,136h1v1h-1zM91,115h1v1h-1zM91,120h1v1h-1zM91,123h1v2h-1zM93,120h1v1h-1zM93,129h1v1h-1zM134,375h1v1h-1zM145,397h1v2h-1zM145,401h1v2h-1zM145,405h1v1h-1zM147,401h1v2h-1zM147,405h1v1h-1zM147,408h1v1h-1zM64,102h1v2h-1zM64,113h1v2h-1zM87,108h1v1h-1zM87,111h1v1h-1zM87,115h1v2h-1zM151,408h1v1h-1zM139,381h1v1h-1zM139,386h1v2h-1zM139,391h1v3h-1zM69,103h1v1h-1zM69,107h1v1h-1zM155,411h1v1h-1zM83,102h1v1h-1zM83,105h1v1h-1zM83,108h1v1h-1zM92,117h1v2h-1zM92,126h1v2h-1zM133,371h1v1h-1zM85,104h1v2h-1zM85,108h1v1h-1zM85,111h1v2h-1zM68,104h1v1h-1zM68,108h1v1h-1zM94,132h1v1h-1zM102,166h1v1h-1zM70,106h1v1h-1zM99,151h1v1h-1zM96,139h1v1h-1zM152,409h1v1h-1zM150,407h1v1h-1zM150,409h1v1h-1zM97,143h1v1h-1zM132,366h1v1h-1z" fill="#7CAE00"/>

<path d="M63.0,401.8 L63.5,401.5 L63.9,401.2 L64.4,400.9 L64.9,400.6 L65.4,400.3 L65.8,400.0 L66.3,399.8 L66.8,399.5 L67.3,399.2 L67.7,398.9 L68.2,398.6 L68.7,398.3 L69.2,398.0 L69.6,397.7 L70.1,397.5 L70.6,397.2 L71.1,396.9 L71.5,396.6 L72.0,396.3 L72.5,396.0 L73.0,395.8 L73.4,395.5 L73.9,395.1 L74.4,394.8 L74.9,394.5 L75.3,394.2 L75.8,393.8 L76.3,393.5 L76.8,393.1 L77.2,392.7 L77.7,392.3 L78.2,392.0 L78.7,391.5 L79.1,391.1 L79.6,390.7 L80.1,390.2 L80.6,389.7 L81.0,389.2 L81.5,388.6 L82.0,388.0 L82.5,387.4 L82.9,386.7 L83.4,385.9 L83.9,385.1 L84.4,384.3 L84.8,383.3 L85.3,382.2 L85.8,381.1 L86.3,379.9 L86.7,378.6 L87.2,377.4 L87.7,376.1 L88.2,374.8 L88.6,373.6 L89.1,372.4 L89.6,371.2 L90.1,369.9 L90.5,368.7 L91.0,367.5 L91.5,366.2 L92.0,364.9 L92.4,363.6 L92.9,362.3 L93.4,360.9 L93.9,359.6 L94.3,358.2 L94.8,356.8 L95.3,355.4 L95.8,354.0 L96.2,352.5 L96.7,351.1 L97.2,349.6 L97.7,348.1 L98.1,346.6 L98.6,345.1 L99.1,343.6 L99.6,342.0 L100.0,340.4 L100.5,338.8 L101.0,337.1 L101.5,335.4 L101.9,333.6 L102.4,331.8 L102.9,329.9 L103.4,328.0 L103.8,326.1 L104.3,324.1 L104.8,322.0 L105.3,319.9 L105.7,317.8 L106.2,315.6 L106.7,313.3 L107.2,310.9 L107.6,308.5 L108.1,305.9 L108.6,303.3 L109.1,300.6 L109.5,297.8 L110.0,294.9 L110.5,291.9 L111.0,288.9 L111.4,285.8 L111.9,282.7 L112.4,279.6 L112.9,276.4 L113.3,273.3 L113.8,270.2 L114.3,267.1 L114.8,264.0 L115.2,261.0 L115.7,258.1 L116.2,255.2 L116.7,252.4 L117.1,249.7 L117.6,247.0 L118.1,244.4 L118.6,241.8 L119.0,239.3 L119.5,236.8 L120.0,234.4 L120.5,231.9 L120.9,229.5 L121.4,227.1 L121.9,224.6 L122.4,222.1 L122.8,219.6 L123.3,217.0 L123.8,214.4 L124.3,211.7 L124.7,209.0 L125.2,206.1 L125.7,203.2 L126.2,200.1 L126.6,196.8 L127.1,193.5 L127.6,190.1 L128.1,186.6 L128.5,183.2 L129.0,179.8 L129.5,176.6 L130.0,173.6 L130.4,170.8 L130.9,168.3 L131.4,166.0 L131.9,163.9 L132.3,161.9 L132.8,160.1 L133.3,158.4 L133.8,156.8 L134.2,155.2 L134.7,153.7 L135.2,152.3 L135.7,150.9 L136.1,149.5 L136.6,148.3 L137.1,147.1 L137.6,146.0 L138.0,144.9 L138.5,143.9 L139.0,143.0 L139.5,142.1 L139.9,141.3 L140.4,140.5 L140.9,139.8 L141.4,139.2 L141.8,138.6 L142.3,138.0 L142.8,137.5 L143.3,137.0 L143.7,136.5 L144.2,136.0 L144.7,135.6 L145.2,135.2 L145.6,134.8 L146.1,134.4 L146.6,134.1 L147.1,133.8 L147.5,133.6 L148.0,133.5 L148.5,133.3 L149.0,133.3 L149.4,133.3 L149.9,133.3 L150.4,133.4 L150.9,133.6 L151.3,133.7 L151.8,133.9 L152.3,134.2 L152.8,134.5 L153.2,134.7 L153.7,135.1 L154.2,135.4 L154.7,135.8 L155.1,136.2 L155.6,136.6 L156.1,137.1 L156.6,137.7 L157.0,138.3 L157.5,139.0 L158.0,139.7 L158.5,140.4 L158.9,141.2 L159.4,142.0 L159.9,142.9 L160.4,143.7 L160.8,144.6 L161.3,145.5 L161.8,146.4 L162.3,147.3 L162.7,148.2 L163.2,149.2 L163.7,150.2 L164.2,151.3 L164.6,152.4 L165.1,153.5 L165.6,154.6 L166.1,155.8 L166.5,157.1 L167.0,158.4 L167.5,159.7 L168.0,161.1 L168.4,162.6 L168.9,164.1 L169.4,165.7 L169.9,167.2 L170.3,168.8 L170.8,170.3 L171.3,171.7 L171.8,173.1 L172.2,174.6 L172.7,176.0 L173.2,177.5 L173.7,179.1 L174.1,180.8 L174.6,182.6 L175.1,184.4 L175.6,186.4 L176.0,188.3 L176.5,190.4 L177.0,192.5 L177.5,194.6 L177.9,196.7 L178.4,198.9 L178.9,201.1 L179.4,203.3 L179.8,205.6 L180.3,207.9 L180.8,210.2 L181.3,212.5 L181.7,214.9 L182.2,217.3 L182.7,219.7 L183.2,222.0 L183.6,224.3 L184.1,226.5 L184.6,228.7 L185.1,230.8 L185.5,232.9 L186.0,234.9 L186.5,236.8 L187.0,238.8 L187.4,240.7 L187.9,242.6 L188.4,244.5 L188.9,246.5 L189.3,248.6 L189.8,250.8 L190.3,253.1 L190.8,255.4 L191.2,257.9 L191.7,260.4 L192.2,262.9 L192.7,265.4 L193.1,267.9 L193.6,270.2 L194.1,272.5 L194.6,274.7 L195.0,276.8 L195.5,279.0 L196.0,281.1 L196.5,283.2 L196.9,285.4 L197.4,287.6 L197.9,289.8 L198.4,292.1 L198.8,294.4 L199.3,296.7 L199.8,299.0 L200.3,301.4 L200.7,303.8 L201.2,306.1 L201.7,308.6 L202.2,311.0 L202.6,313.4 L203.1,315.9 L203.6,318.3 L204.1,320.8 L204.5,323.3 L205.0,325.8 L205.0,352.0 L204.5,350.5 L204.1,348.9 L203.6,347.3 L203.1,345.7 L202.6,344.1 L202.2,342.5 L201.7,340.9 L201.2,339.2 L200.7,337.6 L200.3,335.9 L199.8,334.3 L199.3,332.6 L198.8,330.9 L198.4,329.1 L197.9,327.2 L197.4,325.2 L196.9,323.1 L196.5,320.8 L196.0,318.5 L195.5,316.0 L195.0,313.5 L194.6,310.9 L194.1,308.4 L193.6,305.9 L193.1,303.4 L192.7,301.0 L192.2,298.6 L191.7,296.3 L191.2,294.0 L190.8,291.7 L190.3,289.3 L189.8,287.0 L189.3,284.6 L188.9,282.2 L188.4,279.8 L187.9,277.3 L187.4,274.9 L187.0,272.4 L186.5,269.9 L186.0,267.5 L185.5,265.0 L185.1,262.6 L184.6,260.1 L184.1,257.8 L183.6,255.5 L183.2,253.3 L182.7,251.3 L182.2,249.4 L181.7,247.6 L181.3,245.9 L180.8,244.2 L180.3,242.6 L179.8,241.0 L179.4,239.4 L178.9,237.6 L178.4,235.6 L177.9,233.5 L177.5,231.3 L177.0,229.0 L176.5,226.7 L176.0,224.4 L175.6,222.1 L175.1,219.9 L174.6,217.8 L174.1,215.8 L173.7,213.8 L173.2,211.8 L172.7,209.9 L172.2,208.0 L171.8,206.1 L171.3,204.2 L170.8,202.3 L170.3,200.4 L169.9,198.5 L169.4,196.6 L168.9,194.8 L168.4,192.9 L168.0,191.1 L167.5,189.4 L167.0,187.6 L166.5,185.9 L166.1,184.3 L165.6,182.7 L165.1,181.1 L164.6,179.6 L164.2,178.2 L163.7,176.9 L163.2,175.7 L162.7,174.6 L162.3,173.6 L161.8,172.7 L161.3,171.9 L160.8,171.1 L160.4,170.3 L159.9,169.5 L159.4,168.7 L158.9,167.9 L158.5,167.0 L158.0,166.2 L157.5,165.3 L157.0,164.4 L156.6,163.4 L156.1,162.4 L155.6,161.4 L155.1,160.4 L154.7,159.4 L154.2,158.5 L153.7,157.7 L153.2,157.0 L152.8,156.4 L152.3,156.0 L151.8,155.5 L151.3,155.2 L150.9,154.9 L150.4,154.6 L149.9,154.3 L149.4,154.1 L149.0,153.9 L148.5,153.8 L148.0,153.7 L147.5,153.7 L147.1,153.7 L146.6,153.8 L146.1,153.9 L145.6,154.1 L145.2,154.3 L144.7,154.6 L144.2,155.0 L143.7,155.4 L143.3,155.8 L142.8,156.3 L142.3,156.9 L141.8,157.5 L141.4,158.3 L140.9,159.2 L140.4,160.2 L139.9,161.3 L139.5,162.5 L139.0,163.7 L138.5,165.1 L138.0,166.5 L137.6,168.0 L137.1,169.5 L136.6,171.0 L136.1,172.5 L135.7,174.1 L135.2,175.7 L134.7,177.2 L134.2,178.9 L133.8,180.6 L133.3,182.5 L132.8,184.5 L132.3,186.7 L131.9,189.1 L131.4,191.7 L130.9,194.4 L130.4,197.1 L130.0,199.8 L129.5,202.5 L129.0,205.1 L128.5,207.6 L128.1,210.0 L127.6,212.4 L127.1,214.8 L126.6,217.1 L126.2,219.4 L125.7,221.6 L125.2,223.9 L124.7,226.1 L124.3,228.3 L123.8,230.6 L123.3,232.8 L122.8,235.1 L122.4,237.4 L121.9,239.8 L121.4,242.1 L120.9,244.5 L120.5,247.0 L120.0,249.5 L119.5,252.1 L119.0,254.8 L118.6,257.5 L118.1,260.3 L117.6,263.2 L117.1,266.1 L116.7,269.1 L116.2,272.2 L115.7,275.2 L115.2,278.3 L114.8,281.4 L114.3,284.4 L113.8,287.5 L113.3,290.5 L112.9,293.5 L112.4,296.5 L111.9,299.4 L111.4,302.2 L111.0,305.0 L110.5,307.7 L110.0,310.3 L109.5,312.9 L109.1,315.4 L108.6,317.9 L108.1,320.3 L107.6,322.7 L107.2,325.0 L106.7,327.2 L106.2,329.3 L105.7,331.3 L105.3,333.2 L104.8,335.0 L104.3,336.7 L103.8,338.3 L103.4,339.8 L102.9,341.2 L102.4,342.7 L101.9,344.1 L101.5,345.5 L101.0,346.9 L100.5,348.4 L100.0,349.8 L99.6,351.3 L99.1,352.7 L98.6,354.1 L98.1,355.6 L97.7,357.0 L97.2,358.4 L96.7,359.8 L96.2,361.2 L95.8,362.6 L95.3,363.9 L94.8,365.3 L94.3,366.6 L93.9,368.0 L93.4,369.3 L92.9,370.5 L92.4,371.8 L92.0,373.0 L91.5,374.1 L91.0,375.3 L90.5,376.4 L90.1,377.4 L89.6,378.5 L89.1,379.5 L88.6,380.6 L88.2,381.6 L87.7,382.6 L87.2,383.6 L86.7,384.7 L86.3,385.6 L85.8,386.6 L85.3,387.5 L84.8,388.3 L84.4,389.1 L83.9,389.8 L83.4,390.4 L82.9,391.0 L82.5,391.6 L82.0,392.1 L81.5,392.6 L81.0,393.1 L80.6,393.5 L80.1,394.0 L79.6,394.4 L79.1,394.8 L78.7,395.1 L78.2,395.5 L77.7,395.9 L77.2,396.2 L76.8,396.5 L76.3,396.9 L75.8,397.2 L75.3,397.5 L74.9,397.8 L74.4,398.1 L73.9,398.4 L73.4,398.7 L73.0,399.0 L72.5,399.3 L72.0,399.6 L71.5,399.8 L71.1,400.1 L70.6,400.4 L70.1,400.7 L69.6,400.9 L69.2,401.2 L68.7,401.5 L68.2,401.8 L67.7,402.1 L67.3,402.4 L66.8,402.7 L66.3,402.9 L65.8,403.2 L65.4,403.5 L64.9,403.8 L64.4,404.1 L63.9,404.4 L63.5,404.7 L63.0,405.0Z" fill="#00BFC4" fill-opacity="0.5" stroke="none"/>
<path d="M117,252h2v1h-2zM113,273h3v1h-3zM123,219h3v1h-3zM85,382h3v1h-3zM98,346h3v1h-3zM100,339h3v1h-3zM109,301h3v1h-3zM128,190h2v1h-2zM114,267h3v1h-3zM104,327h3v1h-3zM111,289h2v1h-2zM118,243h3v1h-3zM106,317h3v1h-3zM127,197h3v1h-3zM106,315h3v1h-3zM103,328h3v1h-3zM110,296h2v1h-2zM143,154h2v1h-2zM150,154h2v1h-2zM81,389h3v1h-3zM109,298h3v1h-3zM125,208h3v1h-3zM112,284h2v1h-2zM87,377h3v1h-3zM111,286h3v1h-3zM70,397h5v1h-5zM109,302h2v1h-2zM126,202h3v1h-3zM105,320h3v1h-3zM87,378h3v1h-3zM125,206h2v1h-2zM129,191h2v1h-2zM114,268h3v1h-3zM91,366h3v1h-3zM112,280h3v1h-3zM115,261h3v1h-3zM90,370h3v1h-3zM103,330h3v1h-3zM107,310h3v1h-3zM122,224h3v1h-3zM123,220h3v1h-3zM118,242h3v1h-3zM94,358h3v1h-3zM106,318h2v1h-2zM84,385h2v1h-2zM112,281h3v1h-3zM94,359h3v1h-3zM100,340h3v1h-3zM125,209h3v1h-3zM126,201h2v1h-2zM129,181h2v1h-2zM98,347h3v1h-3zM79,391h3v1h-3zM116,256h3v1h-3zM103,335h2v1h-2zM116,258h2v1h-2zM108,305h3v1h-3zM146,134h2v1h-2zM151,134h2v1h-2zM113,276h3v1h-3zM96,354h2v1h-2zM122,221h2v1h-2zM115,264h2v1h-2zM64,401h5v1h-5zM106,314h3v1h-3zM99,342h3v1h-3zM124,214h3v1h-3zM115,265h2v1h-2zM69,399h3v1h-3zM127,194h2v1h-2zM117,251h3v1h-3zM102,334h3v1h-3zM117,249h3v1h-3zM92,365h3v1h-3zM119,239h3v1h-3zM109,303h2v1h-2zM109,299h3v1h-3zM127,193h2v1h-2zM105,322h3v1h-3zM124,211h2v1h-2zM111,287h3v1h-3zM146,143h4v1h-4zM86,380h3v1h-3zM84,384h3v1h-3zM110,293h3v1h-3zM115,263h3v1h-3zM130,176h2v1h-2zM89,372h3v1h-3zM128,187h2v1h-2zM103,329h3v1h-3zM94,360h2v1h-2zM89,373h3v1h-3zM125,205h2v1h-2zM120,234h3v1h-3zM127,204h2v1h-2zM82,387h3v1h-3zM93,361h3v1h-3zM97,349h3v1h-3zM86,379h3v1h-3zM113,275h3v1h-3zM99,343h3v1h-3zM111,288h3v1h-3zM119,237h3v1h-3zM96,353h3v1h-3zM120,233h3v1h-3zM76,393h4v1h-4zM107,309h3v1h-3zM100,341h3v1h-3zM118,246h3v1h-3zM115,259h3v1h-3zM91,368h3v1h-3zM101,338h3v1h-3zM121,229h3v1h-3zM107,312h3v1h-3zM95,356h3v1h-3zM121,227h3v1h-3zM109,300h3v1h-3zM114,270h2v1h-2zM112,283h2v1h-2zM98,348h2v1h-2zM115,260h3v1h-3zM128,189h2v1h-2zM116,253h3v1h-3zM126,199h2v1h-2zM129,192h2v1h-2zM113,278h2v1h-2zM101,336h3v1h-3zM119,241h3v1h-3zM118,244h3v1h-3zM116,254h3v1h-3zM114,266h3v1h-3zM104,324h3v1h-3zM101,337h3v1h-3zM124,212h2v1h-2zM83,386h3v1h-3zM74,395h4v1h-4zM110,295h3v1h-3zM113,272h3v1h-3zM88,374h3v1h-3zM104,331h2v1h-2zM88,375h3v1h-3zM105,321h3v1h-3zM116,257h3v1h-3zM105,319h3v1h-3zM102,332h3v1h-3zM91,367h3v1h-3zM125,207h2v1h-2zM111,290h2v1h-2zM95,355h3v1h-3zM108,306h3v1h-3zM126,200h2v1h-2zM123,218h3v1h-3zM110,294h3v1h-3zM129,182h2v1h-2zM112,282h3v1h-3zM93,362h3v1h-3zM111,285h3v1h-3zM130,186h2v1h-2zM97,350h3v1h-3zM121,230h3v1h-3zM148,133h3v1h-3zM118,245h3v1h-3zM108,307h3v1h-3zM97,351h2v1h-2zM113,277h2v1h-2zM117,248h3v1h-3zM99,345h2v1h-2zM127,196h2v1h-2zM122,225h3v1h-3zM124,213h3v1h-3zM110,297h2v1h-2zM68,398h6v1h-6zM80,390h3v1h-3zM116,255h3v1h-3zM119,238h3v1h-3zM110,292h3v1h-3zM114,269h3v1h-3zM108,304h3v1h-3zM117,250h3v1h-3zM111,291h2v1h-2zM124,210h2v1h-2zM123,216h2v1h-2zM122,223h3v1h-3zM126,203h3v1h-3zM104,326h3v1h-3zM63,403h2v1h-2zM123,217h2v1h-2zM121,228h3v1h-3zM128,198h2v1h-2zM107,311h3v1h-3zM120,235h3v1h-3zM82,388h3v1h-3zM86,381h2v1h-2zM127,195h2v1h-2zM90,369h3v1h-3zM145,153h5v1h-5zM115,262h3v1h-3zM72,396h5v1h-5zM113,274h3v1h-3zM88,376h2v1h-2zM102,333h3v1h-3zM85,383h2v1h-2zM108,308h2v1h-2zM89,371h3v1h-3zM104,325h3v1h-3zM106,316h3v1h-3zM92,364h3v1h-3zM128,188h2v1h-2zM96,352h3v1h-3zM118,247h2v1h-2zM112,279h3v1h-3zM65,400h5v1h-5zM78,392h3v1h-3zM119,240h3v1h-3zM122,222h3v1h-3zM120,232h3v1h-3zM77,394h2v1h-2zM63,402h4v1h-4zM107,313h2v1h-2zM95,357h2v1h-2zM114,271h2v1h-2zM99,344h3v1h-3zM93,363h2v1h-2zM183,224h1v4h-1zM183,239h1v4h-1zM183,250h1v5h-1zM203,318h1v5h-1zM203,332h1v3h-1zM203,344h1v3h-1zM159,142h1v2h-1zM159,156h1v2h-1zM159,167h1v2h-1zM176,190h1v5h-1zM176,207h1v5h-1zM176,222h1v5h-1zM136,149h1v2h-1zM136,158h1v2h-1zM136,168h1v3h-1zM167,160h1v3h-1zM167,173h1v2h-1zM167,186h1v3h-1zM170,169h1v3h-1zM170,182h1v3h-1zM170,197h1v4h-1zM179,204h1v5h-1zM179,221h1v4h-1zM179,236h1v4h-1zM196,283h1v5h-1zM196,299h1v5h-1zM196,316h1v5h-1zM180,209h1v5h-1zM180,225h1v5h-1zM180,240h1v3h-1zM193,270h1v4h-1zM193,285h1v5h-1zM193,300h1v5h-1zM189,249h1v5h-1zM189,265h1v5h-1zM189,280h1v5h-1zM172,175h1v4h-1zM172,190h1v4h-1zM172,205h1v4h-1zM197,288h1v5h-1zM197,304h1v5h-1zM197,321h1v4h-1zM173,179h1v3h-1zM173,194h1v5h-1zM173,209h1v4h-1zM199,298h1v5h-1zM199,314h1v5h-1zM199,329h1v4h-1zM155,137h1v1h-1zM155,149h1v2h-1zM155,159h1v2h-1zM166,157h1v3h-1zM166,171h1v2h-1zM166,182h1v4h-1zM192,265h1v5h-1zM192,280h1v5h-1zM192,295h1v5h-1zM158,141h1v1h-1zM158,154h1v2h-1zM158,165h1v2h-1zM135,151h1v3h-1zM135,160h1v4h-1zM135,171h1v4h-1zM75,394h1v1h-1zM187,241h1v4h-1zM187,255h1v5h-1zM187,270h1v5h-1zM122,226h1v1h-1zM122,236h1v1h-1zM140,141h1v1h-1zM140,150h1v1h-1zM140,158h1v2h-1zM126,198h1v1h-1zM126,215h1v3h-1zM186,237h1v4h-1zM186,250h1v5h-1zM186,265h1v5h-1zM169,166h1v3h-1zM169,178h1v4h-1zM169,193h1v4h-1zM132,161h1v5h-1zM132,171h1v5h-1zM132,182h1v4h-1zM165,155h1v2h-1zM165,169h1v2h-1zM165,179h1v3h-1zM131,166h1v5h-1zM131,177h1v4h-1zM131,187h1v4h-1zM190,254h1v5h-1zM190,270h1v5h-1zM190,285h1v5h-1zM175,186h1v4h-1zM175,203h1v4h-1zM175,217h1v5h-1zM200,303h1v5h-1zM200,319h1v5h-1zM200,333h1v4h-1zM202,313h1v5h-1zM202,328h1v4h-1zM202,340h1v4h-1zM185,233h1v4h-1zM185,246h1v4h-1zM185,260h1v5h-1zM168,163h1v3h-1zM168,175h1v3h-1zM168,189h1v4h-1zM151,145h1v1h-1zM182,219h1v5h-1zM182,235h1v4h-1zM182,247h1v3h-1zM143,137h1v1h-1zM143,146h1v1h-1zM130,171h1v5h-1zM130,183h1v3h-1zM130,193h1v4h-1zM178,199h1v5h-1zM178,216h1v5h-1zM178,231h1v5h-1zM195,279h1v4h-1zM195,295h1v4h-1zM195,310h1v6h-1zM198,293h1v5h-1zM198,309h1v5h-1zM198,325h1v4h-1zM134,154h1v4h-1zM134,164h1v3h-1zM134,175h1v3h-1zM162,148h1v2h-1zM162,163h1v2h-1zM162,172h1v2h-1zM139,142h1v2h-1zM139,151h1v2h-1zM139,160h1v2h-1zM188,245h1v4h-1zM188,260h1v5h-1zM188,275h1v5h-1zM191,259h1v6h-1zM191,275h1v5h-1zM191,290h1v5h-1zM164,152h1v3h-1zM164,167h1v2h-1zM164,176h1v3h-1zM125,204h1v1h-1zM125,221h1v1h-1zM150,144h1v1h-1zM161,146h1v2h-1zM161,161h1v2h-1zM161,170h1v2h-1zM171,172h1v3h-1zM171,185h1v5h-1zM171,201h1v4h-1zM184,228h1v5h-1zM184,243h1v3h-1zM184,255h1v5h-1zM181,214h1v5h-1zM181,230h1v5h-1zM181,243h1v4h-1zM201,308h1v5h-1zM201,324h1v4h-1zM201,337h1v3h-1zM177,195h1v4h-1zM177,212h1v4h-1zM177,227h1v4h-1zM194,274h1v5h-1zM194,290h1v5h-1zM194,305h1v5h-1zM153,135h1v1h-1zM153,147h1v1h-1zM153,156h1v1h-1zM154,136h1v1h-1zM154,148h1v1h-1zM154,157h1v2h-1zM129,177h1v4h-1zM129,199h1v3h-1zM133,158h1v3h-1zM133,167h1v4h-1zM133,178h1v4h-1zM157,139h1v2h-1zM157,152h1v2h-1zM157,163h1v2h-1zM160,144h1v2h-1zM160,158h1v3h-1zM160,169h1v1h-1zM102,331h1v1h-1zM120,236h1v1h-1zM138,144h1v2h-1zM138,153h1v2h-1zM138,162h1v3h-1zM204,323h1v3h-1zM204,335h1v4h-1zM204,347h1v3h-1zM163,150h1v2h-1zM163,165h1v2h-1zM163,174h1v2h-1zM141,139h1v2h-1zM141,148h1v2h-1zM141,156h1v2h-1zM145,135h1v1h-1zM145,144h1v1h-1zM106,323h1v1h-1zM156,138h1v1h-1zM156,151h1v1h-1zM156,161h1v2h-1zM137,146h1v3h-1zM137,155h1v3h-1zM137,165h1v3h-1zM174,182h1v4h-1zM174,199h1v4h-1zM174,213h1v4h-1zM124,215h1v1h-1zM124,226h1v1h-1zM127,191h1v2h-1zM127,210h1v3h-1zM128,183h1v4h-1zM128,205h1v3h-1zM142,138h1v1h-1zM142,147h1v1h-1zM142,155h1v1h-1zM152,146h1v1h-1zM152,155h1v1h-1zM123,231h1v1h-1zM144,136h1v1h-1zM144,145h1v1h-1zM63,404h1v1h-1zM104,323h1v1h-1zM121,231h1v1h-1zM67,399h1v1h-1zM101,335h1v1h-1z" fill="#00BFC4"/>

<path d="M63.0,345.0 L63.5,346.7 L63.9,348.3 L64.4,349.9 L64.9,351.4 L65.4,352.8 L65.8,354.1 L66.3,355.4 L66.8,356.6 L67.3,357.8 L67.7,358.9 L68.2,359.9 L68.7,360.8 L69.2,361.7 L69.6,362.6 L70.1,363.3 L70.6,364.1 L71.1,364.8 L71.5,365.4 L72.0,366.0 L72.5,366.5 L73.0,367.0 L73.4,367.5 L73.9,368.0 L74.4,368.4 L74.9,368.8 L75.3,369.2 L75.8,369.6 L76.3,370.0 L76.8,370.3 L77.2,370.7 L77.7,371.0 L78.2,371.4 L78.7,371.7 L79.1,372.0 L79.6,372.3 L80.1,372.6 L80.6,372.8 L81.0,373.1 L81.5,373.4 L82.0,373.6 L82.5,373.8 L82.9,374.1 L83.4,374.3 L83.9,374.5 L84.4,374.7 L84.8,374.9 L85.3,375.1 L85.8,375.2 L86.3,375.4 L86.7,375.5 L87.2,375.6 L87.7,375.6 L88.2,375.7 L88.6,375.7 L89.1,375.8 L89.6,375.8 L90.1,375.9 L90.5,375.9 L91.0,375.9 L91.5,375.9 L92.0,376.0 L92.4,376.0 L92.9,376.0 L93.4,376.0 L93.9,376.0 L94.3,375.9 L94.8,375.9 L95.3,375.9 L95.8,375.8 L96.2,375.7 L96.7,375.6 L97.2,375.6 L97.7,375.5 L98.1,375.4 L98.6,375.3 L99.1,375.1 L99.6,375.0 L100.0,374.9 L100.5,374.8 L101.0,374.6 L101.5,374.5 L101.9,374.3 L102.4,374.1 L102.9,374.0 L103.4,373.8 L103.8,373.6 L104.3,373.4 L104.8,373.2 L105.3,373.0 L105.7,372.9 L106.2,372.7 L106.7,372.5 L107.2,372.3 L107.6,372.1 L108.1,372.0 L108.6,371.8 L109.1,371.6 L109.5,371.5 L110.0,371.3 L110.5,371.1 L111.0,371.0 L111.4,370.8 L111.9,370.7 L112.4,370.6 L112.9,370.5 L113.3,370.3 L113.8,370.2 L114.3,370.1 L114.8,370.0 L115.2,369.9 L115.7,369.8 L116.2,369.7 L116.7,369.6 L117.1,369.6 L117.6,369.5 L118.1,369.5 L118.6,369.4 L119.0,369.4 L119.5,369.3 L120.0,369.3 L120.5,369.3 L120.9,369.3 L121.4,369.2 L121.9,369.2 L122.4,369.2 L122.8,369.2 L123.3,369.2 L123.8,369.1 L124.3,369.1 L124.7,369.1 L125.2,369.1 L125.7,369.1 L126.2,369.2 L126.6,369.2 L127.1,369.3 L127.6,369.4 L128.1,369.5 L128.5,369.6 L129.0,369.8 L129.5,370.0 L130.0,370.2 L130.4,370.4 L130.9,370.6 L131.4,370.8 L131.9,371.1 L132.3,371.3 L132.8,371.6 L133.3,371.9 L133.8,372.2 L134.2,372.6 L134.7,372.9 L135.2,373.2 L135.7,373.5 L136.1,373.8 L136.6,374.1 L137.1,374.4 L137.6,374.7 L138.0,375.0 L138.5,375.4 L139.0,375.7 L139.5,376.0 L139.9,376.3 L140.4,376.6 L140.9,376.9 L141.4,377.2 L141.8,377.5 L142.3,377.8 L142.8,378.1 L143.3,378.4 L143.7,378.7 L144.2,379.0 L144.7,379.3 L145.2,379.6 L145.6,379.9 L146.1,380.2 L146.6,380.4 L147.1,380.7 L147.5,381.0 L148.0,381.2 L148.5,381.5 L149.0,381.8 L149.4,382.0 L149.9,382.3 L150.4,382.5 L150.9,382.8 L151.3,383.0 L151.8,383.3 L152.3,383.5 L152.8,383.8 L153.2,384.0 L153.7,384.2 L154.2,384.5 L154.7,384.7 L155.1,384.9 L155.6,385.2 L156.1,385.4 L156.6,385.6 L157.0,385.8 L157.5,386.1 L158.0,386.3 L158.5,386.5 L158.9,386.8 L159.4,387.0 L159.9,387.2 L160.4,387.4 L160.8,387.7 L161.3,387.9 L161.8,388.1 L162.3,388.3 L162.7,388.6 L163.2,388.8 L163.7,389.0 L164.2,389.2 L164.6,389.5 L165.1,389.7 L165.6,389.9 L166.1,390.1 L166.5,390.4 L167.0,390.6 L167.5,390.8 L168.0,391.0 L168.4,391.2 L168.9,391.5 L169.4,391.7 L169.9,391.9 L170.3,392.1 L170.8,392.3 L171.3,392.5 L171.8,392.7 L172.2,393.0 L172.7,393.2 L173.2,393.4 L173.7,393.6 L174.1,393.8 L174.6,394.0 L175.1,394.2 L175.6,394.5 L176.0,394.7 L176.5,394.9 L177.0,395.1 L177.5,395.3 L177.9,395.5 L178.4,395.7 L178.9,395.9 L179.4,396.1 L179.8,396.3 L180.3,396.4 L180.8,396.6 L181.3,396.8 L181.7,397.0 L182.2,397.1 L182.7,397.3 L183.2,397.5 L183.6,397.6 L184.1,397.8 L184.6,398.0 L185.1,398.1 L185.5,398.3 L186.0,398.5 L186.5,398.6 L187.0,398.8 L187.4,399.0 L187.9,399.1 L188.4,399.3 L188.9,399.4 L189.3,399.6 L189.8,399.7 L190.3,399.9 L190.8,400.0 L191.2,400.2 L191.7,400.3 L192.2,400.5 L192.7,400.6 L193.1,400.8 L193.6,400.9 L194.1,401.0 L194.6,401.2 L195.0,401.3 L195.5,401.5 L196.0,401.6 L196.5,401.7 L196.9,401.9 L197.4,402.0 L197.9,402.1 L198.4,402.2 L198.8,402.3 L199.3,402.5 L199.8,402.6 L200.3,402.7 L200.7,402.8 L201.2,402.9 L201.7,403.0 L202.2,403.1 L202.6,403.2 L203.1,403.3 L203.6,403.4 L204.1,403.5 L204.5,403.6 L205.0,403.7 L205.0,412.1 L204.5,411.9 L204.1,411.8 L203.6,411.6 L203.1,411.5 L202.6,411.3 L202.2,411.1 L201.7,411.0 L201.2,410.8 L200.7,410.6 L200.3,410.4 L199.8,410.3 L199.3,410.1 L198.8,409.9 L198.4,409.8 L197.9,409.6 L197.4,409.4 L196.9,409.2 L196.5,409.1 L196.0,408.9 L195.5,408.7 L195.0,408.5 L194.6,408.4 L194.1,408.2 L193.6,408.0 L193.1,407.8 L192.7,407.6 L192.2,407.5 L191.7,407.3 L191.2,407.1 L190.8,406.9 L190.3,406.7 L189.8,406.6 L189.3,406.4 L188.9,406.2 L188.4,406.0 L187.9,405.8 L187.4,405.7 L187.0,405.5 L186.5,405.3 L186.0,405.1 L185.5,404.9 L185.1,404.7 L184.6,404.5 L184.1,404.4 L183.6,404.2 L183.2,404.0 L182.7,403.8 L182.2,403.6 L181.7,403.4 L181.3,403.2 L180.8,403.0 L180.3,402.8 L179.8,402.7 L179.4,402.5 L178.9,402.3 L178.4,402.1 L177.9,401.9 L177.5,401.7 L177.0,401.5 L176.5,401.3 L176.0,401.1 L175.6,400.9 L175.1,400.7 L174.6,400.5 L174.1,400.3 L173.7,400.1 L173.2,399.9 L172.7,399.7 L172.2,399.5 L171.8,399.2 L171.3,399.0 L170.8,398.8 L170.3,398.6 L169.9,398.4 L169.4,398.1 L168.9,397.9 L168.4,397.7 L168.0,397.4 L167.5,397.2 L167.0,397.0 L166.5,396.7 L166.1,396.5 L165.6,396.3 L165.1,396.0 L164.6,395.8 L164.2,395.6 L163.7,395.3 L163.2,395.1 L162.7,394.9 L162.3,394.6 L161.8,394.4 L161.3,394.2 L160.8,393.9 L160.4,393.7 L159.9,393.5 L159.4,393.2 L158.9,393.0 L158.5,392.8 L158.0,392.5 L157.5,392.3 L157.0,392.1 L156.6,391.9 L156.1,391.6 L155.6,391.4 L155.1,391.2 L154.7,390.9 L154.2,390.7 L153.7,390.5 L153.2,390.2 L152.8,390.0 L152.3,389.8 L151.8,389.5 L151.3,389.3 L150.9,389.0 L150.4,388.8 L149.9,388.5 L149.4,388.3 L149.0,388.0 L148.5,387.8 L148.0,387.5 L147.5,387.2 L147.1,386.9 L146.6,386.6 L146.1,386.4 L145.6,386.1 L145.2,385.8 L144.7,385.4 L144.2,385.1 L143.7,384.8 L143.3,384.5 L142.8,384.2 L142.3,383.9 L141.8,383.6 L141.4,383.2 L140.9,382.9 L140.4,382.6 L139.9,382.3 L139.5,382.0 L139.0,381.7 L138.5,381.5 L138.0,381.2 L137.6,380.9 L137.1,380.6 L136.6,380.4 L136.1,380.1 L135.7,379.8 L135.2,379.6 L134.7,379.3 L134.2,379.1 L133.8,378.8 L133.3,378.6 L132.8,378.4 L132.3,378.1 L131.9,377.9 L131.4,377.7 L130.9,377.5 L130.4,377.2 L130.0,377.0 L129.5,376.8 L129.0,376.5 L128.5,376.3 L128.1,376.1 L127.6,376.0 L127.1,375.8 L126.6,375.7 L126.2,375.7 L125.7,375.6 L125.2,375.6 L124.7,375.6 L124.3,375.6 L123.8,375.6 L123.3,375.6 L122.8,375.6 L122.4,375.6 L121.9,375.6 L121.4,375.6 L120.9,375.6 L120.5,375.6 L120.0,375.6 L119.5,375.6 L119.0,375.6 L118.6,375.6 L118.1,375.7 L117.6,375.7 L117.1,375.7 L116.7,375.8 L116.2,375.9 L115.7,376.0 L115.2,376.1 L114.8,376.2 L114.3,376.4 L113.8,376.5 L113.3,376.6 L112.9,376.7 L112.4,376.9 L111.9,377.0 L111.4,377.1 L111.0,377.2 L110.5,377.3 L110.0,377.4 L109.5,377.6 L109.1,377.7 L108.6,377.8 L108.1,377.9 L107.6,378.0 L107.2,378.2 L106.7,378.3 L106.2,378.5 L105.7,378.6 L105.3,378.8 L104.8,378.9 L104.3,379.1 L103.8,379.3 L103.4,379.5 L102.9,379.7 L102.4,379.9 L101.9,380.0 L101.5,380.2 L101.0,380.3 L100.5,380.4 L100.0,380.5 L99.6,380.6 L99.1,380.7 L98.6,380.7 L98.1,380.8 L97.7,380.8 L97.2,380.8 L96.7,380.9 L96.2,380.9 L95.8,380.9 L95.3,380.9 L94.8,381.0 L94.3,381.0 L93.9,381.0 L93.4,381.0 L92.9,381.0 L92.4,380.9 L92.0,380.9 L91.5,380.8 L91.0,380.8 L90.5,380.7 L90.1,380.6 L89.6,380.5 L89.1,380.4 L88.6,380.3 L88.2,380.2 L87.7,380.1 L87.2,380.0 L86.7,379.8 L86.3,379.7 L85.8,379.6 L85.3,379.4 L84.8,379.2 L84.4,379.0 L83.9,378.8 L83.4,378.6 L82.9,378.4 L82.5,378.2 L82.0,378.0 L81.5,377.7 L81.0,377.5 L80.6,377.3 L80.1,377.0 L79.6,376.7 L79.1,376.5 L78.7,376.2 L78.2,375.9 L77.7,375.6 L77.2,375.3 L76.8,374.9 L76.3,374.6 L75.8,374.3 L75.3,373.9 L74.9,373.5 L74.4,373.2 L73.9,372.8 L73.4,372.3 L73.0,371.9 L72.5,371.5 L72.0,371.0 L71.5,370.5 L71.1,370.0 L70.6,369.4 L70.1,368.9 L69.6,368.3 L69.2,367.7 L68.7,367.1 L68.2,366.4 L67.7,365.7 L67.3,365.0 L66.8,364.2 L66.3,363.4 L65.8,362.6 L65.4,361.6 L64.9,360.7 L64.4,359.6 L63.9,358.5 L63.5,357.3 L63.0,356.2Z" fill="#C77CFF" fill-opacity="0.5" stroke="none"/>
<path d="M81,377h2v1h-2zM85,377h4v1h-4zM98,377h4v1h-4zM106,377h4v1h-4zM131,377h2v1h-2zM136,377h2v1h-2zM140,377h2v1h-2zM109,371h4v1h-4zM77,373h2v1h-2zM80,373h2v1h-2zM104,373h3v1h-3zM111,373h4v1h-4zM129,373h2v1h-2zM71,367h2v1h-2zM170,398h2v1h-2zM176,398h3v1h-3zM183,398h3v1h-3zM86,379h4v1h-4zM100,379h3v1h-3zM135,379h2v1h-2zM139,379h2v1h-2zM143,379h2v1h-2zM79,376h2v1h-2zM82,376h3v1h-3zM87,376h10v1h-10zM102,376h3v1h-3zM110,376h4v1h-4zM129,376h2v1h-2zM80,375h2v1h-2zM84,375h3v1h-3zM97,375h4v1h-4zM105,375h3v1h-3zM114,375h15v1h-15zM133,375h2v1h-2zM137,375h2v1h-2zM162,394h2v1h-2zM167,394h3v1h-3zM173,394h3v1h-3zM73,369h3v1h-3zM118,369h10v1h-10zM66,359h2v1h-2zM83,378h3v1h-3zM89,378h9v1h-9zM103,378h3v1h-3zM133,378h2v1h-2zM78,372h2v1h-2zM107,372h2v1h-2zM115,372h14v1h-14zM132,372h2v1h-2zM182,403h3v1h-3zM189,403h3v1h-3zM199,403h5v1h-5zM90,380h10v1h-10zM137,380h2v1h-2zM141,380h2v1h-2zM145,380h2v1h-2zM76,374h2v1h-2zM82,374h2v1h-2zM101,374h3v1h-3zM108,374h3v1h-3zM131,374h2v1h-2zM135,374h2v1h-2zM172,399h3v1h-3zM179,399h2v1h-2zM186,399h3v1h-3zM195,408h3v1h-3zM190,406h2v1h-2zM198,406h4v1h-4zM185,404h2v1h-2zM192,404h3v1h-3zM146,386h2v1h-2zM151,386h2v1h-2zM156,386h2v1h-2zM140,382h2v1h-2zM144,382h2v1h-2zM148,382h2v1h-2zM156,391h2v1h-2zM161,391h2v1h-2zM167,391h2v1h-2zM192,407h3v1h-3zM202,407h3v1h-3zM66,362h2v1h-2zM177,401h3v1h-3zM184,401h3v1h-3zM192,401h4v1h-4zM64,358h2v1h-2zM68,363h2v1h-2zM72,368h2v1h-2zM150,388h2v1h-2zM155,388h2v1h-2zM160,388h2v1h-2zM69,364h2v1h-2zM187,405h3v1h-3zM195,405h3v1h-3zM164,395h2v1h-2zM170,395h2v1h-2zM176,395h2v1h-2zM152,389h2v1h-2zM157,389h2v1h-2zM162,389h3v1h-3zM201,410h2v1h-2zM65,360h3v1h-3zM68,365h3v1h-3zM175,400h2v1h-2zM181,400h3v1h-3zM189,400h3v1h-3zM158,392h2v1h-2zM163,392h2v1h-2zM169,392h2v1h-2zM203,411h2v1h-2zM168,397h2v1h-2zM174,397h2v1h-2zM180,397h3v1h-3zM160,393h2v1h-2zM165,393h2v1h-2zM171,393h2v1h-2zM148,387h2v1h-2zM153,387h2v1h-2zM158,387h2v1h-2zM150,383h2v1h-2zM180,402h2v1h-2zM187,402h2v1h-2zM196,402h3v1h-3zM154,390h2v1h-2zM159,390h2v1h-2zM165,390h2v1h-2zM143,384h2v1h-2zM147,384h2v1h-2zM152,384h2v1h-2zM63,355h3v1h-3zM198,409h3v1h-3zM166,396h2v1h-2zM172,396h2v1h-2zM178,396h2v1h-2zM64,357h3v1h-3zM113,370h5v1h-5zM128,370h3v1h-3zM63,351h2v1h-2zM67,361h2v1h-2zM70,366h2v1h-2zM64,354h2v1h-2zM149,385h2v1h-2zM154,385h2v1h-2zM65,356h2v1h-2zM63,352h2v1h-2zM67,358h1v1h-1zM67,364h1v1h-1zM147,381h1v1h-1zM77,371h1v1h-1zM69,362h1v1h-1zM69,367h1v1h-1zM135,376h1v1h-1zM75,371h1v1h-1zM75,373h1v1h-1zM138,378h1v1h-1zM63,347h1v3h-1zM63,353h1v1h-1zM63,356h1v1h-1zM74,370h1v1h-1zM74,372h1v1h-1zM76,370h1v1h-1zM76,372h1v1h-1zM79,374h1v1h-1zM139,376h1v1h-1zM139,381h1v1h-1zM142,378h1v1h-1zM142,383h1v1h-1zM70,368h1v1h-1zM78,375h1v1h-1zM65,353h1v1h-1zM65,361h1v1h-1zM131,371h1v1h-1zM71,369h1v1h-1zM72,370h1v1h-1zM145,385h1v1h-1zM204,404h1v1h-1zM134,373h1v1h-1zM143,381h1v1h-1zM66,363h1v1h-1zM68,366h1v1h-1zM64,350h1v1h-1zM64,359h1v1h-1zM73,371h1v1h-1zM146,383h1v1h-1z" fill="#C77CFF"/>

</g>
</g>
<text class="st" x="133.10" y="24.6" text-anchor="middle">Non-working</text>
<rect x="63" y="435.0" width="1" height="4" fill="#333"/>
<text class="tk" x="63.50" y="453.2" text-anchor="middle">50</text>
<rect x="92" y="435.0" width="1" height="4" fill="#333"/>
<text class="tk" x="92.50" y="453.2" text-anchor="middle">60</text>
<rect x="122" y="435.0" width="1" height="4" fill="#333"/>
<text class="tk" x="122.50" y="453.2" text-anchor="middle">70</text>
<rect x="151" y="435.0" width="1" height="4" fill="#333"/>
<text class="tk" x="151.50" y="453.2" text-anchor="middle">80</text>
<rect x="180" y="435.0" width="1" height="4" fill="#333"/>
<text class="tk" x="180.50" y="453.2" text-anchor="middle">90</text>
<rect x="210" y="435.0" width="1" height="4" fill="#333"/>
<text class="tk" x="210.50" y="453.2" text-anchor="middle">100</text>
<rect x="218.0" y="7.0" width="155.0" height="23.0" fill="#D9D9D9"/>
<rect x="218.0" y="30.0" width="155.0" height="405.0" fill="#EBEBEB"/>
<g clip-path="url(#cp1)" shape-rendering="crispEdges">
<rect x="218.0" y="368" width="155.0" height="1" fill="#fff"/>
<rect x="218.0" y="272" width="155.0" height="1" fill="#fff"/>
<rect x="218.0" y="175" width="155.0" height="1" fill="#fff"/>
<rect x="218.0" y="79" width="155.0" height="1" fill="#fff"/>
<rect x="218.0" y="417" width="155.0" height="1" fill="#fff"/>
<rect x="218.0" y="320" width="155.0" height="1" fill="#fff"/>
<rect x="218.0" y="223" width="155.0" height="1" fill="#fff"/>
<rect x="218.0" y="127" width="155.0" height="1" fill="#fff"/>
<rect x="240" y="30.0" width="1" height="405.0" fill="#fff"/>
<rect x="269" y="30.0" width="1" height="405.0" fill="#fff"/>
<rect x="298" y="30.0" width="1" height="405.0" fill="#fff"/>
<rect x="328" y="30.0" width="1" height="405.0" fill="#fff"/>
<rect x="357" y="30.0" width="1" height="405.0" fill="#fff"/>
<rect x="225" y="30.0" width="1" height="405.0" fill="#fff"/>
<rect x="254" y="30.0" width="1" height="405.0" fill="#fff"/>
<rect x="284" y="30.0" width="1" height="405.0" fill="#fff"/>
<rect x="313" y="30.0" width="1" height="405.0" fill="#fff"/>
<rect x="342" y="30.0" width="1" height="405.0" fill="#fff"/>
<rect x="372" y="30.0" width="1" height="405.0" fill="#fff"/>
<g clip-path="url(#cc1)">
<path d="M225.0,405.0 L225.5,405.0 L225.9,405.0 L226.4,405.0 L226.9,405.0 L227.4,405.1 L227.8,405.1 L228.3,405.1 L228.8,405.1 L229.3,405.1 L229.7,405.1 L230.2,405.1 L230.7,405.2 L231.2,405.2 L231.6,405.2 L232.1,405.2 L232.6,405.2 L233.1,405.2 L233.5,405.2 L234.0,405.3 L234.5,405.3 L235.0,405.3 L235.4,405.3 L235.9,405.3 L236.4,405.3 L236.9,405.4 L237.3,405.4 L237.8,405.4 L238.3,405.4 L238.8,405.4 L239.2,405.4 L239.7,405.5 L240.2,405.5 L240.7,405.5 L241.1,405.5 L241.6,405.6 L242.1,405.6 L242.6,405.6 L243.0,405.6 L243.5,405.7 L244.0,405.7 L244.5,405.7 L244.9,405.7 L245.4,405.8 L245.9,405.8 L246.4,405.8 L246.8,405.8 L247.3,405.9 L247.8,405.9 L248.3,405.9 L248.7,405.9 L249.2,406.0 L249.7,406.0 L250.2,406.0 L250.6,406.0 L251.1,406.0 L251.6,406.0 L252.1,406.1 L252.5,406.1 L253.0,406.1 L253.5,406.1 L254.0,406.1 L254.4,406.1 L254.9,406.1 L255.4,406.1 L255.9,406.0 L256.3,406.0 L256.8,406.0 L257.3,406.0 L257.8,406.0 L258.2,405.9 L258.7,405.9 L259.2,405.9 L259.7,405.9 L260.1,405.8 L260.6,405.8 L261.1,405.8 L261.6,405.8 L262.0,405.8 L262.5,405.7 L263.0,405.7 L263.5,405.7 L263.9,405.7 L264.4,405.7 L264.9,405.6 L265.4,405.6 L265.8,405.6 L266.3,405.6 L266.8,405.6 L267.3,405.6 L267.7,405.6 L268.2,405.6 L268.7,405.6 L269.2,405.6 L269.6,405.6 L270.1,405.6 L270.6,405.6 L271.1,405.7 L271.5,405.7 L272.0,405.7 L272.5,405.7 L273.0,405.7 L273.4,405.6 L273.9,405.6 L274.4,405.6 L274.9,405.5 L275.3,405.5 L275.8,405.4 L276.3,405.3 L276.8,405.3 L277.2,405.2 L277.7,405.1 L278.2,405.0 L278.7,405.0 L279.1,404.9 L279.6,404.8 L280.1,404.7 L280.6,404.7 L281.0,404.6 L281.5,404.5 L282.0,404.4 L282.5,404.4 L282.9,404.3 L283.4,404.2 L283.9,404.1 L284.4,404.1 L284.8,404.0 L285.3,403.9 L285.8,403.8 L286.3,403.7 L286.7,403.6 L287.2,403.5 L287.7,403.4 L288.2,403.4 L288.6,403.3 L289.1,403.2 L289.6,403.1 L290.1,402.9 L290.5,402.8 L291.0,402.7 L291.5,402.6 L292.0,402.5 L292.4,402.4 L292.9,402.3 L293.4,402.1 L293.9,402.0 L294.3,401.9 L294.8,401.7 L295.3,401.6 L295.8,401.5 L296.2,401.3 L296.7,401.2 L297.2,401.1 L297.7,400.9 L298.1,400.8 L298.6,400.6 L299.1,400.5 L299.6,400.4 L300.0,400.2 L300.5,400.1 L301.0,399.9 L301.5,399.7 L301.9,399.6 L302.4,399.4 L302.9,399.2 L303.4,399.0 L303.8,398.9 L304.3,398.7 L304.8,398.5 L305.3,398.3 L305.7,398.1 L306.2,397.8 L306.7,397.6 L307.2,397.4 L307.6,397.2 L308.1,396.9 L308.6,396.7 L309.1,396.4 L309.5,396.2 L310.0,395.9 L310.5,395.7 L311.0,395.4 L311.4,395.1 L311.9,394.9 L312.4,394.6 L312.9,394.3 L313.3,394.0 L313.8,393.7 L314.3,393.4 L314.8,393.1 L315.2,392.8 L315.7,392.5 L316.2,392.1 L316.7,391.8 L317.1,391.4 L317.6,391.0 L318.1,390.5 L318.6,390.1 L319.0,389.6 L319.5,389.1 L320.0,388.6 L320.5,388.1 L320.9,387.5 L321.4,387.0 L321.9,386.4 L322.4,385.8 L322.8,385.2 L323.3,384.6 L323.8,383.9 L324.3,383.3 L324.7,382.6 L325.2,381.9 L325.7,381.1 L326.2,380.4 L326.6,379.6 L327.1,378.8 L327.6,378.0 L328.1,377.1 L328.5,376.3 L329.0,375.4 L329.5,374.5 L330.0,373.6 L330.4,372.7 L330.9,371.8 L331.4,370.9 L331.9,370.0 L332.3,369.1 L332.8,368.2 L333.3,367.3 L333.8,366.4 L334.2,365.4 L334.7,364.4 L335.2,363.4 L335.7,362.4 L336.1,361.3 L336.6,360.2 L337.1,359.1 L337.6,357.9 L338.0,356.7 L338.5,355.5 L339.0,354.2 L339.5,352.9 L339.9,351.5 L340.4,350.2 L340.9,348.7 L341.4,347.3 L341.8,345.7 L342.3,344.2 L342.8,342.6 L343.3,341.0 L343.7,339.3 L344.2,337.7 L344.7,336.1 L345.2,334.5 L345.6,332.8 L346.1,331.2 L346.6,329.5 L347.1,327.7 L347.5,325.9 L348.0,324.0 L348.5,321.9 L349.0,319.8 L349.4,317.6 L349.9,315.5 L350.4,313.4 L350.9,311.3 L351.3,309.4 L351.8,307.6 L352.3,305.7 L352.8,303.9 L353.2,301.9 L353.7,299.8 L354.2,297.6 L354.7,295.2 L355.1,292.7 L355.6,290.2 L356.1,287.5 L356.6,284.8 L357.0,282.1 L357.5,279.4 L358.0,276.7 L358.5,274.0 L358.9,271.3 L359.4,268.7 L359.9,266.1 L360.4,263.6 L360.8,261.1 L361.3,258.6 L361.8,256.1 L362.3,253.5 L362.7,250.8 L363.2,247.9 L363.7,245.0 L364.2,241.9 L364.6,238.7 L365.1,235.4 L365.6,232.0 L366.1,228.6 L366.5,225.2 L367.0,222.0 L367.0,251.9 L366.5,254.9 L366.1,257.6 L365.6,260.2 L365.1,262.7 L364.6,265.2 L364.2,267.5 L363.7,269.8 L363.2,272.0 L362.7,274.3 L362.3,276.7 L361.8,279.1 L361.3,281.6 L360.8,284.1 L360.4,286.8 L359.9,289.4 L359.4,292.0 L358.9,294.6 L358.5,297.1 L358.0,299.6 L357.5,301.9 L357.0,304.1 L356.6,306.3 L356.1,308.4 L355.6,310.3 L355.1,312.1 L354.7,313.9 L354.2,315.6 L353.7,317.3 L353.2,319.1 L352.8,321.0 L352.3,322.9 L351.8,325.0 L351.3,327.1 L350.9,329.1 L350.4,331.1 L349.9,333.0 L349.4,334.8 L349.0,336.4 L348.5,337.9 L348.0,339.4 L347.5,340.9 L347.1,342.4 L346.6,343.9 L346.1,345.4 L345.6,346.9 L345.2,348.4 L344.7,349.9 L344.2,351.4 L343.7,352.8 L343.3,354.2 L342.8,355.5 L342.3,356.7 L341.8,357.9 L341.4,359.1 L340.9,360.2 L340.4,361.3 L339.9,362.4 L339.5,363.4 L339.0,364.4 L338.5,365.4 L338.0,366.3 L337.6,367.2 L337.1,368.1 L336.6,369.0 L336.1,369.9 L335.7,370.7 L335.2,371.5 L334.7,372.4 L334.2,373.2 L333.8,374.0 L333.3,374.8 L332.8,375.6 L332.3,376.5 L331.9,377.3 L331.4,378.1 L330.9,378.9 L330.4,379.7 L330.0,380.5 L329.5,381.2 L329.0,382.0 L328.5,382.7 L328.1,383.4 L327.6,384.0 L327.1,384.7 L326.6,385.4 L326.2,386.0 L325.7,386.6 L325.2,387.2 L324.7,387.8 L324.3,388.4 L323.8,388.9 L323.3,389.5 L322.8,390.0 L322.4,390.6 L321.9,391.1 L321.4,391.5 L320.9,392.0 L320.5,392.5 L320.0,392.9 L319.5,393.4 L319.0,393.8 L318.6,394.1 L318.1,394.5 L317.6,394.9 L317.1,395.2 L316.7,395.5 L316.2,395.8 L315.7,396.1 L315.2,396.4 L314.8,396.7 L314.3,397.0 L313.8,397.2 L313.3,397.5 L312.9,397.8 L312.4,398.0 L311.9,398.3 L311.4,398.5 L311.0,398.8 L310.5,399.0 L310.0,399.3 L309.5,399.5 L309.1,399.8 L308.6,400.0 L308.1,400.2 L307.6,400.4 L307.2,400.7 L306.7,400.9 L306.2,401.1 L305.7,401.3 L305.3,401.5 L304.8,401.6 L304.3,401.8 L303.8,402.0 L303.4,402.2 L302.9,402.3 L302.4,402.5 L301.9,402.6 L301.5,402.8 L301.0,403.0 L300.5,403.1 L300.0,403.2 L299.6,403.4 L299.1,403.5 L298.6,403.7 L298.1,403.8 L297.7,404.0 L297.2,404.1 L296.7,404.2 L296.2,404.4 L295.8,404.5 L295.3,404.6 L294.8,404.8 L294.3,404.9 L293.9,405.0 L293.4,405.2 L292.9,405.3 L292.4,405.4 L292.0,405.5 L291.5,405.6 L291.0,405.7 L290.5,405.9 L290.1,406.0 L289.6,406.1 L289.1,406.2 L288.6,406.3 L288.2,406.4 L287.7,406.5 L287.2,406.5 L286.7,406.6 L286.3,406.7 L285.8,406.8 L285.3,406.9 L284.8,407.0 L284.4,407.1 L283.9,407.1 L283.4,407.2 L282.9,407.3 L282.5,407.4 L282.0,407.4 L281.5,407.5 L281.0,407.6 L280.6,407.7 L280.1,407.8 L279.6,407.8 L279.1,407.9 L278.7,408.0 L278.2,408.1 L277.7,408.2 L277.2,408.2 L276.8,408.3 L276.3,408.4 L275.8,408.4 L275.3,408.5 L274.9,408.6 L274.4,408.6 L273.9,408.7 L273.4,408.7 L273.0,408.7 L272.5,408.8 L272.0,408.8 L271.5,408.8 L271.1,408.8 L270.6,408.8 L270.1,408.9 L269.6,408.9 L269.2,408.9 L268.7,408.9 L268.2,408.9 L267.7,408.9 L267.3,409.0 L266.8,409.0 L266.3,409.0 L265.8,409.0 L265.4,409.1 L264.9,409.1 L264.4,409.1 L263.9,409.2 L263.5,409.2 L263.0,409.3 L262.5,409.3 L262.0,409.4 L261.6,409.4 L261.1,409.4 L260.6,409.5 L260.1,409.5 L259.7,409.6 L259.2,409.6 L258.7,409.7 L258.2,409.7 L257.8,409.8 L257.3,409.8 L256.8,409.8 L256.3,409.9 L255.9,409.9 L255.4,410.0 L254.9,410.0 L254.4,410.0 L254.0,410.0 L253.5,410.1 L253.0,410.1 L252.5,410.1 L252.1,410.1 L251.6,410.1 L251.1,410.1 L250.6,410.1 L250.2,410.1 L249.7,410.1 L249.2,410.1 L248.7,410.1 L248.3,410.1 L247.8,410.1 L247.3,410.1 L246.8,410.1 L246.4,410.1 L245.9,410.1 L245.4,410.1 L244.9,410.1 L244.5,410.1 L244.0,410.1 L243.5,410.1 L243.0,410.1 L242.6,410.1 L242.1,410.1 L241.6,410.1 L241.1,410.1 L240.7,410.1 L240.2,410.1 L239.7,410.1 L239.2,410.1 L238.8,410.1 L238.3,410.1 L237.8,410.1 L237.3,410.0 L236.9,410.0 L236.4,410.0 L235.9,410.0 L235.4,410.0 L235.0,410.0 L234.5,410.0 L234.0,410.0 L233.5,410.0 L233.1,410.0 L232.6,410.0 L232.1,410.0 L231.6,410.0 L231.2,410.0 L230.7,410.0 L230.2,410.0 L229.7,410.0 L229.3,410.0 L228.8,410.0 L228.3,410.0 L227.8,410.0 L227.4,410.0 L226.9,410.0 L226.4,410.0 L225.9,410.0 L225.5,410.0 L225.0,410.0Z" fill="#F8766D" fill-opacity="0.5" stroke="none"/>
<path d="M360,275h2v1h-2zM357,284h2v1h-2zM325,384h2v1h-2zM347,328h2v1h-2zM360,267h2v1h-2zM335,367h2v1h-2zM360,276h2v1h-2zM352,307h2v1h-2zM365,237h2v1h-2zM287,403h12v1h-12zM326,381h3v1h-3zM241,406h46v1h-46zM339,355h2v1h-2zM364,255h2v1h-2zM365,238h2v1h-2zM299,400h8v1h-8zM225,407h22v1h-22zM255,407h27v1h-27zM247,408h8v1h-8zM260,408h15v1h-15zM309,396h6v1h-6zM296,401h9v1h-9zM350,323h2v1h-2zM322,388h2v1h-2zM361,262h2v1h-2zM350,316h2v1h-2zM314,393h3v1h-3zM225,409h35v1h-35zM348,325h2v1h-2zM361,271h2v1h-2zM305,398h6v1h-6zM330,373h2v1h-2zM225,405h16v1h-16zM275,405h17v1h-17zM358,286h2v1h-2zM282,404h14v1h-14zM355,295h2v1h-2zM326,380h2v1h-2zM353,304h2v1h-2zM346,332h2v1h-2zM337,363h2v1h-2zM357,283h2v1h-2zM364,244h2v1h-2zM351,311h2v1h-2zM360,266h2v1h-2zM334,366h2v1h-2zM292,402h10v1h-10zM354,299h2v1h-2zM364,245h2v1h-2zM343,343h2v1h-2zM352,308h2v1h-2zM339,354h2v1h-2zM340,352h2v1h-2zM358,278h2v1h-2zM358,287h2v1h-2zM321,387h2v1h-2zM356,290h2v1h-2zM311,395h6v1h-6zM349,327h2v1h-2zM348,324h2v1h-2zM307,397h6v1h-6zM355,294h2v1h-2zM359,273h2v1h-2zM359,282h2v1h-2zM336,365h2v1h-2zM351,319h2v1h-2zM354,298h2v1h-2zM333,368h2v1h-2zM342,346h2v1h-2zM358,277h2v1h-2zM322,386h2v1h-2zM334,369h2v1h-2zM349,326h2v1h-2zM338,357h2v1h-2zM350,322h2v1h-2zM316,392h4v1h-4zM329,375h2v1h-2zM341,349h2v1h-2zM355,293h2v1h-2zM355,302h2v1h-2zM330,376h2v1h-2zM359,272h2v1h-2zM342,350h2v1h-2zM359,281h2v1h-2zM346,338h2v1h-2zM325,382h2v1h-2zM362,256h2v1h-2zM327,379h3v1h-3zM341,353h2v1h-2zM342,345h2v1h-2zM345,341h2v1h-2zM321,389h2v1h-2zM302,399h7v1h-7zM349,321h2v1h-2zM363,251h2v1h-2zM337,360h2v1h-2zM319,391h2v1h-2zM340,356h2v1h-2zM341,348h2v1h-2zM357,292h2v1h-2zM333,371h2v1h-2zM345,336h2v1h-2zM349,320h2v1h-2zM340,351h2v1h-2zM329,378h2v1h-2zM354,300h2v1h-2zM332,370h2v1h-2zM358,279h2v1h-2zM344,344h2v1h-2zM363,250h2v1h-2zM323,385h3v1h-3zM337,359h2v1h-2zM353,303h2v1h-2zM343,347h2v1h-2zM328,377h2v1h-2zM330,374h3v1h-3zM344,339h2v1h-2zM336,362h2v1h-2zM352,315h2v1h-2zM324,383h2v1h-2zM362,257h2v1h-2zM348,331h2v1h-2zM361,261h2v1h-2zM331,372h2v1h-2zM320,390h2v1h-2zM345,335h2v1h-2zM352,314h2v1h-2zM343,342h2v1h-2zM356,289h2v1h-2zM365,239h2v1h-2zM338,361h2v1h-2zM351,318h2v1h-2zM335,364h2v1h-2zM356,288h2v1h-2zM356,297h2v1h-2zM347,334h2v1h-2zM347,329h2v1h-2zM351,312h2v1h-2zM351,309h1v2h-1zM351,317h1v1h-1zM351,324h1v2h-1zM360,263h1v3h-1zM360,274h1v1h-1zM360,283h1v3h-1zM323,384h1v1h-1zM346,330h1v2h-1zM346,337h1v1h-1zM346,342h1v2h-1zM358,274h1v3h-1zM358,285h1v1h-1zM358,293h1v4h-1zM361,258h1v3h-1zM361,268h1v3h-1zM361,277h1v4h-1zM366,226h1v7h-1zM366,240h1v4h-1zM366,251h1v4h-1zM364,240h1v4h-1zM364,252h1v3h-1zM364,261h1v5h-1zM333,367h1v1h-1zM333,373h1v1h-1zM365,233h1v4h-1zM365,246h1v4h-1zM365,256h1v5h-1zM363,246h1v4h-1zM363,258h1v3h-1zM363,266h1v5h-1zM350,313h1v3h-1zM350,328h1v3h-1zM355,291h1v2h-1zM355,301h1v1h-1zM355,307h1v4h-1zM337,358h1v1h-1zM337,366h1v1h-1zM342,344h1v1h-1zM342,354h1v2h-1zM349,317h1v3h-1zM349,332h1v2h-1zM313,394h1v1h-1zM318,390h1v1h-1zM318,393h1v1h-1zM336,361h1v1h-1zM336,368h1v1h-1zM359,268h1v4h-1zM359,280h1v1h-1zM359,288h1v4h-1zM325,386h1v1h-1zM327,378h1v1h-1zM327,383h1v1h-1zM345,333h1v2h-1zM345,340h1v1h-1zM345,345h1v2h-1zM357,280h1v3h-1zM357,291h1v1h-1zM357,298h1v4h-1zM354,296h1v2h-1zM354,305h1v2h-1zM354,311h1v3h-1zM317,391h1v1h-1zM317,394h1v1h-1zM348,322h1v2h-1zM348,330h1v1h-1zM348,335h1v3h-1zM331,371h1v1h-1zM331,377h1v1h-1zM324,387h1v1h-1zM341,347h1v1h-1zM341,357h1v2h-1zM344,337h1v2h-1zM344,348h1v2h-1zM332,369h1v1h-1zM332,375h1v1h-1zM347,326h1v2h-1zM347,333h1v1h-1zM347,339h1v2h-1zM362,252h1v4h-1zM362,263h1v3h-1zM362,272h1v3h-1zM356,285h1v3h-1zM356,296h1v1h-1zM356,303h1v4h-1zM343,340h1v2h-1zM343,351h1v2h-1zM340,350h1v1h-1zM340,359h1v2h-1zM353,301h1v2h-1zM353,309h1v2h-1zM353,316h1v2h-1zM328,376h1v1h-1zM328,382h1v1h-1zM338,356h1v1h-1zM338,364h1v1h-1zM352,305h1v2h-1zM352,313h1v1h-1zM352,320h1v2h-1zM334,365h1v1h-1zM334,372h1v1h-1zM335,363h1v1h-1zM335,370h1v1h-1zM329,380h1v1h-1zM320,388h1v1h-1zM339,353h1v1h-1zM339,358h1v1h-1zM339,362h1v1h-1zM319,389h1v1h-1zM315,394h1v1h-1z" fill="#F8766D"/>

<path d="M225.0,346.7 L225.5,347.2 L225.9,347.7 L226.4,348.2 L226.9,348.7 L227.4,349.2 L227.8,349.7 L228.3,350.2 L228.8,350.7 L229.3,351.3 L229.7,351.8 L230.2,352.3 L230.7,352.9 L231.2,353.4 L231.6,354.0 L232.1,354.5 L232.6,355.1 L233.1,355.6 L233.5,356.2 L234.0,356.7 L234.5,357.3 L235.0,357.8 L235.4,358.4 L235.9,359.0 L236.4,359.6 L236.9,360.3 L237.3,360.9 L237.8,361.7 L238.3,362.4 L238.8,363.2 L239.2,364.1 L239.7,364.9 L240.2,365.7 L240.7,366.5 L241.1,367.3 L241.6,368.1 L242.1,368.9 L242.6,369.7 L243.0,370.5 L243.5,371.4 L244.0,372.2 L244.5,373.0 L244.9,373.8 L245.4,374.7 L245.9,375.5 L246.4,376.4 L246.8,377.2 L247.3,378.1 L247.8,379.0 L248.3,379.8 L248.7,380.7 L249.2,381.5 L249.7,382.3 L250.2,383.1 L250.6,383.9 L251.1,384.7 L251.6,385.5 L252.1,386.2 L252.5,387.0 L253.0,387.7 L253.5,388.5 L254.0,389.2 L254.4,389.9 L254.9,390.6 L255.4,391.2 L255.9,391.9 L256.3,392.5 L256.8,393.1 L257.3,393.7 L257.8,394.3 L258.2,394.9 L258.7,395.4 L259.2,396.0 L259.7,396.5 L260.1,397.0 L260.6,397.5 L261.1,398.0 L261.6,398.5 L262.0,399.0 L262.5,399.5 L263.0,400.0 L263.5,400.5 L263.9,400.9 L264.4,401.4 L264.9,401.9 L265.4,402.3 L265.8,402.8 L266.3,403.2 L266.8,403.7 L267.3,404.1 L267.7,404.5 L268.2,404.9 L268.7,405.3 L269.2,405.8 L269.6,406.2 L270.1,406.6 L270.6,406.9 L271.1,407.3 L271.5,407.7 L272.0,408.0 L272.5,408.4 L273.0,408.7 L273.4,409.0 L273.9,409.3 L274.4,409.6 L274.9,409.8 L275.3,410.1 L275.8,410.4 L276.3,410.6 L276.8,410.8 L277.2,411.1 L277.7,411.3 L278.2,411.5 L278.7,411.7 L279.1,411.9 L279.6,412.1 L280.1,412.3 L280.6,412.5 L281.0,412.7 L281.5,412.9 L282.0,413.0 L282.5,413.2 L282.9,413.3 L283.4,413.5 L283.9,413.7 L284.4,413.8 L284.8,413.9 L285.3,414.1 L285.8,414.2 L286.3,414.3 L286.7,414.4 L287.2,414.6 L287.7,414.7 L288.2,414.8 L288.6,414.9 L289.1,415.0 L289.6,415.1 L290.1,415.2 L290.5,415.3 L291.0,415.4 L291.5,415.5 L292.0,415.5 L292.4,415.6 L292.9,415.7 L293.4,415.8 L293.9,415.8 L294.3,415.9 L294.8,415.9 L295.3,416.0 L295.8,416.0 L296.2,416.0 L296.7,416.1 L297.2,416.1 L297.7,416.1 L298.1,416.2 L298.6,416.2 L299.1,416.2 L299.6,416.2 L300.0,416.2 L300.5,416.3 L301.0,416.3 L301.5,416.3 L301.9,416.3 L302.4,416.3 L302.9,416.3 L303.4,416.3 L303.8,416.4 L304.3,416.4 L304.8,416.4 L305.3,416.4 L305.7,416.4 L306.2,416.4 L306.7,416.4 L307.2,416.4 L307.6,416.4 L308.1,416.4 L308.6,416.5 L309.1,416.5 L309.5,416.5 L310.0,416.5 L310.5,416.5 L311.0,416.5 L311.4,416.5 L311.9,416.5 L312.4,416.5 L312.9,416.5 L313.3,416.6 L313.8,416.6 L314.3,416.6 L314.8,416.6 L315.2,416.6 L315.7,416.6 L316.2,416.7 L316.7,416.7 L317.1,416.7 L317.6,416.8 L318.1,416.8 L318.6,416.8 L319.0,416.9 L319.5,416.9 L320.0,416.9 L320.5,416.9 L320.9,417.0 L321.4,417.0 L321.9,417.0 L322.4,417.0 L322.8,417.0 L323.3,417.0 L323.8,417.0 L324.3,417.0 L324.7,417.0 L325.2,417.0 L325.7,417.0 L326.2,417.0 L326.6,417.0 L327.1,417.0 L327.6,417.0 L328.1,417.0 L328.5,417.0 L329.0,417.0 L329.5,417.0 L330.0,417.0 L330.4,417.0 L330.9,417.0 L331.4,417.0 L331.9,417.0 L332.3,417.0 L332.8,417.0 L333.3,417.0 L333.8,417.0 L334.2,417.0 L334.7,417.0 L335.2,417.0 L335.7,417.0 L336.1,417.0 L336.6,417.0 L337.1,417.0 L337.6,417.0 L338.0,417.0 L338.5,417.0 L339.0,417.0 L339.5,417.0 L339.9,417.0 L340.4,417.0 L340.9,417.0 L341.4,417.0 L341.8,417.0 L342.3,417.0 L342.8,417.0 L343.3,417.0 L343.7,417.0 L344.2,417.0 L344.7,417.0 L345.2,417.0 L345.6,417.0 L346.1,417.0 L346.6,417.0 L347.1,417.0 L347.5,417.0 L348.0,417.0 L348.5,417.0 L349.0,417.0 L349.4,417.0 L349.9,417.0 L350.4,417.0 L350.9,417.0 L351.3,417.0 L351.8,417.0 L352.3,417.0 L352.8,417.0 L353.2,417.0 L353.7,417.0 L354.2,417.0 L354.7,417.0 L355.1,417.0 L355.6,417.0 L356.1,417.0 L356.6,417.0 L357.0,417.0 L357.5,417.0 L358.0,417.0 L358.5,417.0 L358.9,417.0 L359.4,417.0 L359.9,417.0 L360.4,417.0 L360.8,417.0 L361.3,417.0 L361.8,417.0 L362.3,417.0 L362.7,417.0 L363.2,417.0 L363.7,417.0 L364.2,417.0 L364.6,417.0 L365.1,417.0 L365.6,417.0 L366.1,417.0 L366.5,417.0 L367.0,417.0 L367.0,418.0 L366.5,418.0 L366.1,418.0 L365.6,418.0 L365.1,418.0 L364.6,418.0 L364.2,418.0 L363.7,418.0 L363.2,418.0 L362.7,418.0 L362.3,418.0 L361.8,418.0 L361.3,418.0 L360.8,418.0 L360.4,418.0 L359.9,418.0 L359.4,418.0 L358.9,418.0 L358.5,418.0 L358.0,418.0 L357.5,418.0 L357.0,418.0 L356.6,418.0 L356.1,418.0 L355.6,418.0 L355.1,418.0 L354.7,418.0 L354.2,418.0 L353.7,418.0 L353.2,418.0 L352.8,418.0 L352.3,418.0 L351.8,418.0 L351.3,418.0 L350.9,418.0 L350.4,418.0 L349.9,418.0 L349.4,418.0 L349.0,418.0 L348.5,418.0 L348.0,418.0 L347.5,418.0 L347.1,418.0 L346.6,418.0 L346.1,418.0 L345.6,418.0 L345.2,418.0 L344.7,418.0 L344.2,418.0 L343.7,418.0 L343.3,418.0 L342.8,418.0 L342.3,418.0 L341.8,418.0 L341.4,418.0 L340.9,418.0 L340.4,418.0 L339.9,418.0 L339.5,418.0 L339.0,418.0 L338.5,418.0 L338.0,418.0 L337.6,418.0 L337.1,418.0 L336.6,418.0 L336.1,418.0 L335.7,418.0 L335.2,418.0 L334.7,418.0 L334.2,418.0 L333.8,418.0 L333.3,418.0 L332.8,418.0 L332.3,418.0 L331.9,418.0 L331.4,418.0 L330.9,418.0 L330.4,418.0 L330.0,418.0 L329.5,418.0 L329.0,418.0 L328.5,418.0 L328.1,418.0 L327.6,418.0 L327.1,418.0 L326.6,418.0 L326.2,418.0 L325.7,418.0 L325.2,418.0 L324.7,418.0 L324.3,418.0 L323.8,418.0 L323.3,418.0 L322.8,418.0 L322.4,418.0 L321.9,418.0 L321.4,418.0 L320.9,418.0 L320.5,417.9 L320.0,417.9 L319.5,417.9 L319.0,417.9 L318.6,417.8 L318.1,417.8 L317.6,417.8 L317.1,417.7 L316.7,417.7 L316.2,417.7 L315.7,417.6 L315.2,417.6 L314.8,417.6 L314.3,417.6 L313.8,417.6 L313.3,417.5 L312.9,417.5 L312.4,417.5 L311.9,417.5 L311.4,417.5 L311.0,417.5 L310.5,417.5 L310.0,417.5 L309.5,417.5 L309.1,417.4 L308.6,417.4 L308.1,417.4 L307.6,417.4 L307.2,417.4 L306.7,417.4 L306.2,417.4 L305.7,417.4 L305.3,417.4 L304.8,417.4 L304.3,417.4 L303.8,417.4 L303.4,417.3 L302.9,417.3 L302.4,417.3 L301.9,417.3 L301.5,417.3 L301.0,417.3 L300.5,417.3 L300.0,417.3 L299.6,417.3 L299.1,417.2 L298.6,417.2 L298.1,417.2 L297.7,417.2 L297.2,417.2 L296.7,417.2 L296.2,417.2 L295.8,417.1 L295.3,417.1 L294.8,417.1 L294.3,417.1 L293.9,417.0 L293.4,417.0 L292.9,416.9 L292.4,416.9 L292.0,416.8 L291.5,416.8 L291.0,416.7 L290.5,416.6 L290.1,416.6 L289.6,416.5 L289.1,416.4 L288.6,416.3 L288.2,416.3 L287.7,416.2 L287.2,416.1 L286.7,416.0 L286.3,415.9 L285.8,415.8 L285.3,415.7 L284.8,415.6 L284.4,415.5 L283.9,415.4 L283.4,415.3 L282.9,415.2 L282.5,415.1 L282.0,415.0 L281.5,414.8 L281.0,414.7 L280.6,414.6 L280.1,414.4 L279.6,414.3 L279.1,414.1 L278.7,414.0 L278.2,413.8 L277.7,413.6 L277.2,413.5 L276.8,413.3 L276.3,413.1 L275.8,412.9 L275.3,412.7 L274.9,412.5 L274.4,412.3 L273.9,412.1 L273.4,411.8 L273.0,411.6 L272.5,411.3 L272.0,411.0 L271.5,410.8 L271.1,410.5 L270.6,410.2 L270.1,409.9 L269.6,409.6 L269.2,409.3 L268.7,409.0 L268.2,408.7 L267.7,408.4 L267.3,408.1 L266.8,407.8 L266.3,407.5 L265.8,407.2 L265.4,406.9 L264.9,406.6 L264.4,406.3 L263.9,406.0 L263.5,405.6 L263.0,405.3 L262.5,405.0 L262.0,404.6 L261.6,404.3 L261.1,403.9 L260.6,403.6 L260.1,403.2 L259.7,402.8 L259.2,402.5 L258.7,402.1 L258.2,401.7 L257.8,401.3 L257.3,400.9 L256.8,400.5 L256.3,400.0 L255.9,399.6 L255.4,399.1 L254.9,398.6 L254.4,398.1 L254.0,397.6 L253.5,397.1 L253.0,396.5 L252.5,395.9 L252.1,395.3 L251.6,394.7 L251.1,394.0 L250.6,393.3 L250.2,392.7 L249.7,392.0 L249.2,391.3 L248.7,390.6 L248.3,389.9 L247.8,389.1 L247.3,388.4 L246.8,387.7 L246.4,386.9 L245.9,386.2 L245.4,385.4 L244.9,384.6 L244.5,383.9 L244.0,383.1 L243.5,382.3 L243.0,381.6 L242.6,380.8 L242.1,380.1 L241.6,379.3 L241.1,378.6 L240.7,377.8 L240.2,377.1 L239.7,376.4 L239.2,375.6 L238.8,374.9 L238.3,374.2 L237.8,373.4 L237.3,372.7 L236.9,372.0 L236.4,371.3 L235.9,370.5 L235.4,369.8 L235.0,369.1 L234.5,368.5 L234.0,367.8 L233.5,367.2 L233.1,366.6 L232.6,366.0 L232.1,365.5 L231.6,365.0 L231.2,364.6 L230.7,364.2 L230.2,363.8 L229.7,363.5 L229.3,363.1 L228.8,362.9 L228.3,362.6 L227.8,362.3 L227.4,362.1 L226.9,361.8 L226.4,361.6 L225.9,361.4 L225.5,361.3 L225.0,361.1Z" fill="#7CAE00" fill-opacity="0.5" stroke="none"/>
<path d="M272,409h2v1h-2zM311,417h56v1h-56zM284,415h11v1h-11zM263,405h2v1h-2zM290,416h23v1h-23zM267,406h3v1h-3zM259,402h2v1h-2zM228,362h2v1h-2zM266,407h2v1h-2zM269,407h2v1h-2zM226,355h2v1h-2zM277,413h6v1h-6zM263,403h3v1h-3zM273,411h2v1h-2zM276,411h2v1h-2zM280,414h7v1h-7zM268,408h2v1h-2zM271,408h2v1h-2zM271,410h2v1h-2zM274,410h2v1h-2zM226,361h2v1h-2zM275,412h2v1h-2zM278,412h2v1h-2zM265,404h3v1h-3zM230,358h2v1h-2zM270,409h1v1h-1zM247,379h1v1h-1zM247,382h1v2h-1zM247,387h1v2h-1zM266,405h1v1h-1zM250,384h1v1h-1zM250,388h1v1h-1zM250,392h1v1h-1zM258,395h1v2h-1zM258,398h1v1h-1zM258,401h1v1h-1zM260,398h1v1h-1zM260,400h1v1h-1zM246,377h1v2h-1zM246,381h1v1h-1zM246,385h1v2h-1zM233,356h1v1h-1zM233,360h1v1h-1zM233,366h1v1h-1zM235,359h1v1h-1zM235,362h1v2h-1zM235,368h1v2h-1zM254,390h1v2h-1zM254,394h1v1h-1zM254,397h1v1h-1zM244,373h1v2h-1zM244,377h1v2h-1zM244,382h1v2h-1zM236,360h1v1h-1zM236,364h1v1h-1zM236,370h1v1h-1zM265,406h1v1h-1zM251,385h1v2h-1zM251,389h1v2h-1zM251,393h1v1h-1zM238,363h1v2h-1zM238,367h1v2h-1zM238,373h1v1h-1zM240,366h1v2h-1zM240,370h1v2h-1zM240,376h1v1h-1zM241,368h1v2h-1zM241,372h1v1h-1zM241,377h1v2h-1zM249,382h1v2h-1zM249,386h1v2h-1zM249,390h1v2h-1zM237,361h1v2h-1zM237,365h1v2h-1zM237,371h1v2h-1zM243,371h1v2h-1zM243,375h1v2h-1zM243,381h1v1h-1zM234,357h1v2h-1zM234,361h1v1h-1zM234,367h1v1h-1zM225,347h1v1h-1zM225,354h1v1h-1zM225,360h1v1h-1zM242,370h1v1h-1zM242,373h1v2h-1zM242,379h1v2h-1zM256,393h1v1h-1zM256,396h1v1h-1zM256,399h1v1h-1zM262,400h1v1h-1zM262,402h1v1h-1zM262,404h1v1h-1zM232,355h1v1h-1zM232,359h1v1h-1zM232,365h1v1h-1zM257,394h1v1h-1zM257,397h1v1h-1zM257,400h1v1h-1zM245,375h1v2h-1zM245,379h1v2h-1zM245,384h1v1h-1zM264,402h1v1h-1zM248,380h1v2h-1zM248,384h1v2h-1zM248,389h1v1h-1zM226,348h1v2h-1zM252,387h1v2h-1zM252,391h1v1h-1zM252,394h1v2h-1zM239,365h1v1h-1zM239,369h1v1h-1zM239,374h1v2h-1zM231,354h1v1h-1zM231,364h1v1h-1zM261,399h1v1h-1zM261,401h1v1h-1zM261,403h1v1h-1zM255,392h1v1h-1zM255,395h1v1h-1zM255,398h1v1h-1zM263,401h1v1h-1zM259,397h1v1h-1zM259,399h1v1h-1zM230,353h1v1h-1zM230,363h1v1h-1zM253,389h1v1h-1zM253,392h1v2h-1zM253,396h1v1h-1zM228,351h1v1h-1zM228,356h1v1h-1zM229,352h1v1h-1zM229,357h1v1h-1zM227,350h1v1h-1zM268,405h1v1h-1z" fill="#7CAE00"/>

<path d="M225.0,176.2 L225.5,174.3 L225.9,172.4 L226.4,170.5 L226.9,168.6 L227.4,166.7 L227.8,164.7 L228.3,162.8 L228.8,160.8 L229.3,158.9 L229.7,157.0 L230.2,155.1 L230.7,153.2 L231.2,151.3 L231.6,149.4 L232.1,147.5 L232.6,145.6 L233.1,143.8 L233.5,141.9 L234.0,140.1 L234.5,138.3 L235.0,136.5 L235.4,134.8 L235.9,133.1 L236.4,131.4 L236.9,129.8 L237.3,128.1 L237.8,126.6 L238.3,125.0 L238.8,123.5 L239.2,122.1 L239.7,120.6 L240.2,119.2 L240.7,117.8 L241.1,116.3 L241.6,114.9 L242.1,113.5 L242.6,112.0 L243.0,110.6 L243.5,109.2 L244.0,107.7 L244.5,106.3 L244.9,104.8 L245.4,103.4 L245.9,101.9 L246.4,100.5 L246.8,99.1 L247.3,97.7 L247.8,96.4 L248.3,95.0 L248.7,93.7 L249.2,92.5 L249.7,91.2 L250.2,90.0 L250.6,88.8 L251.1,87.6 L251.6,86.5 L252.1,85.4 L252.5,84.3 L253.0,83.3 L253.5,82.2 L254.0,81.3 L254.4,80.3 L254.9,79.3 L255.4,78.4 L255.9,77.5 L256.3,76.6 L256.8,75.7 L257.3,74.8 L257.8,74.0 L258.2,73.2 L258.7,72.4 L259.2,71.6 L259.7,70.8 L260.1,70.1 L260.6,69.3 L261.1,68.6 L261.6,67.9 L262.0,67.2 L262.5,66.6 L263.0,65.9 L263.5,65.3 L263.9,64.7 L264.4,64.1 L264.9,63.6 L265.4,63.0 L265.8,62.5 L266.3,61.9 L266.8,61.4 L267.3,60.9 L267.7,60.4 L268.2,59.9 L268.7,59.5 L269.2,59.0 L269.6,58.6 L270.1,58.2 L270.6,57.7 L271.1,57.3 L271.5,56.9 L272.0,56.5 L272.5,56.2 L273.0,55.8 L273.4,55.5 L273.9,55.1 L274.4,54.8 L274.9,54.4 L275.3,54.1 L275.8,53.8 L276.3,53.5 L276.8,53.2 L277.2,53.0 L277.7,52.7 L278.2,52.4 L278.7,52.2 L279.1,52.0 L279.6,51.7 L280.1,51.5 L280.6,51.3 L281.0,51.1 L281.5,50.9 L282.0,50.7 L282.5,50.6 L282.9,50.4 L283.4,50.3 L283.9,50.1 L284.4,50.0 L284.8,49.9 L285.3,49.8 L285.8,49.7 L286.3,49.7 L286.7,49.6 L287.2,49.5 L287.7,49.5 L288.2,49.4 L288.6,49.4 L289.1,49.4 L289.6,49.3 L290.1,49.3 L290.5,49.3 L291.0,49.3 L291.5,49.3 L292.0,49.3 L292.4,49.3 L292.9,49.3 L293.4,49.3 L293.9,49.3 L294.3,49.3 L294.8,49.3 L295.3,49.3 L295.8,49.4 L296.2,49.4 L296.7,49.4 L297.2,49.5 L297.7,49.5 L298.1,49.6 L298.6,49.6 L299.1,49.7 L299.6,49.8 L300.0,49.9 L300.5,50.0 L301.0,50.1 L301.5,50.2 L301.9,50.3 L302.4,50.4 L302.9,50.5 L303.4,50.7 L303.8,50.8 L304.3,51.0 L304.8,51.2 L305.3,51.3 L305.7,51.5 L306.2,51.6 L306.7,51.8 L307.2,52.0 L307.6,52.1 L308.1,52.3 L308.6,52.5 L309.1,52.7 L309.5,52.9 L310.0,53.0 L310.5,53.2 L311.0,53.4 L311.4,53.6 L311.9,53.9 L312.4,54.1 L312.9,54.3 L313.3,54.6 L313.8,54.8 L314.3,55.1 L314.8,55.4 L315.2,55.7 L315.7,56.0 L316.2,56.3 L316.7,56.6 L317.1,56.9 L317.6,57.3 L318.1,57.6 L318.6,58.0 L319.0,58.3 L319.5,58.7 L320.0,59.1 L320.5,59.4 L320.9,59.8 L321.4,60.2 L321.9,60.6 L322.4,61.0 L322.8,61.4 L323.3,61.9 L323.8,62.3 L324.3,62.8 L324.7,63.3 L325.2,63.8 L325.7,64.3 L326.2,64.9 L326.6,65.5 L327.1,66.1 L327.6,66.7 L328.1,67.4 L328.5,68.1 L329.0,68.8 L329.5,69.5 L330.0,70.3 L330.4,71.1 L330.9,71.9 L331.4,72.7 L331.9,73.6 L332.3,74.5 L332.8,75.3 L333.3,76.2 L333.8,77.1 L334.2,78.1 L334.7,79.0 L335.2,80.0 L335.7,80.9 L336.1,81.9 L336.6,82.9 L337.1,83.9 L337.6,84.9 L338.0,86.0 L338.5,87.0 L339.0,88.1 L339.5,89.1 L339.9,90.2 L340.4,91.3 L340.9,92.4 L341.4,93.6 L341.8,94.7 L342.3,95.8 L342.8,97.0 L343.3,98.1 L343.7,99.3 L344.2,100.5 L344.7,101.8 L345.2,103.0 L345.6,104.4 L346.1,105.7 L346.6,107.1 L347.1,108.6 L347.5,110.1 L348.0,111.7 L348.5,113.3 L349.0,115.0 L349.4,116.7 L349.9,118.5 L350.4,120.3 L350.9,122.2 L351.3,124.1 L351.8,126.1 L352.3,128.1 L352.8,130.0 L353.2,132.0 L353.7,134.0 L354.2,136.0 L354.7,137.9 L355.1,139.8 L355.6,141.7 L356.1,143.6 L356.6,145.5 L357.0,147.4 L357.5,149.4 L358.0,151.4 L358.5,153.6 L358.9,155.8 L359.4,158.1 L359.9,160.6 L360.4,163.0 L360.8,165.5 L361.3,168.1 L361.8,170.7 L362.3,173.4 L362.7,176.1 L363.2,178.7 L363.7,181.4 L364.2,184.0 L364.6,186.6 L365.1,189.2 L365.6,191.7 L366.1,194.2 L366.5,196.6 L367.0,199.1 L367.0,222.4 L366.5,220.1 L366.1,217.8 L365.6,215.4 L365.1,213.0 L364.6,210.6 L364.2,208.1 L363.7,205.6 L363.2,203.1 L362.7,200.5 L362.3,197.9 L361.8,195.1 L361.3,192.4 L360.8,189.5 L360.4,186.7 L359.9,183.8 L359.4,181.0 L358.9,178.2 L358.5,175.4 L358.0,172.6 L357.5,169.9 L357.0,167.3 L356.6,164.8 L356.1,162.4 L355.6,160.1 L355.1,157.8 L354.7,155.7 L354.2,153.6 L353.7,151.6 L353.2,149.6 L352.8,147.6 L352.3,145.7 L351.8,143.7 L351.3,141.7 L350.9,139.6 L350.4,137.6 L349.9,135.6 L349.4,133.5 L349.0,131.5 L348.5,129.5 L348.0,127.5 L347.5,125.6 L347.1,123.7 L346.6,121.8 L346.1,120.0 L345.6,118.2 L345.2,116.5 L344.7,114.9 L344.2,113.3 L343.7,111.7 L343.3,110.2 L342.8,108.7 L342.3,107.3 L341.8,105.9 L341.4,104.6 L340.9,103.3 L340.4,102.0 L339.9,100.7 L339.5,99.5 L339.0,98.3 L338.5,97.1 L338.0,95.9 L337.6,94.7 L337.1,93.5 L336.6,92.4 L336.1,91.2 L335.7,90.1 L335.2,89.0 L334.7,87.9 L334.2,86.9 L333.8,85.8 L333.3,84.7 L332.8,83.7 L332.3,82.7 L331.9,81.7 L331.4,80.6 L330.9,79.7 L330.4,78.7 L330.0,77.7 L329.5,76.8 L329.0,75.8 L328.5,74.9 L328.1,74.0 L327.6,73.2 L327.1,72.3 L326.6,71.5 L326.2,70.7 L325.7,70.0 L325.2,69.3 L324.7,68.6 L324.3,67.9 L323.8,67.3 L323.3,66.7 L322.8,66.1 L322.4,65.6 L321.9,65.0 L321.4,64.5 L320.9,64.0 L320.5,63.6 L320.0,63.1 L319.5,62.7 L319.0,62.3 L318.6,61.9 L318.1,61.5 L317.6,61.1 L317.1,60.7 L316.7,60.3 L316.2,59.9 L315.7,59.6 L315.2,59.2 L314.8,58.9 L314.3,58.6 L313.8,58.2 L313.3,57.9 L312.9,57.6 L312.4,57.3 L311.9,57.1 L311.4,56.8 L311.0,56.5 L310.5,56.3 L310.0,56.1 L309.5,55.8 L309.1,55.6 L308.6,55.4 L308.1,55.2 L307.6,55.0 L307.2,54.8 L306.7,54.6 L306.2,54.4 L305.7,54.3 L305.3,54.1 L304.8,53.9 L304.3,53.7 L303.8,53.6 L303.4,53.4 L302.9,53.3 L302.4,53.1 L301.9,53.0 L301.5,52.8 L301.0,52.7 L300.5,52.6 L300.0,52.5 L299.6,52.4 L299.1,52.3 L298.6,52.2 L298.1,52.1 L297.7,52.1 L297.2,52.0 L296.7,52.0 L296.2,51.9 L295.8,51.9 L295.3,51.9 L294.8,51.8 L294.3,51.8 L293.9,51.8 L293.4,51.8 L292.9,51.8 L292.4,51.8 L292.0,51.8 L291.5,51.8 L291.0,51.8 L290.5,51.8 L290.1,51.8 L289.6,51.9 L289.1,51.9 L288.6,51.9 L288.2,52.0 L287.7,52.0 L287.2,52.1 L286.7,52.2 L286.3,52.2 L285.8,52.3 L285.3,52.4 L284.8,52.5 L284.4,52.7 L283.9,52.8 L283.4,53.0 L282.9,53.1 L282.5,53.3 L282.0,53.5 L281.5,53.7 L281.0,53.9 L280.6,54.2 L280.1,54.4 L279.6,54.7 L279.1,55.0 L278.7,55.2 L278.2,55.5 L277.7,55.9 L277.2,56.2 L276.8,56.5 L276.3,56.9 L275.8,57.2 L275.3,57.6 L274.9,58.0 L274.4,58.3 L273.9,58.7 L273.4,59.2 L273.0,59.6 L272.5,60.0 L272.0,60.5 L271.5,60.9 L271.1,61.4 L270.6,61.9 L270.1,62.4 L269.6,62.9 L269.2,63.4 L268.7,64.0 L268.2,64.5 L267.7,65.1 L267.3,65.7 L266.8,66.3 L266.3,67.0 L265.8,67.6 L265.4,68.3 L264.9,68.9 L264.4,69.7 L263.9,70.4 L263.5,71.1 L263.0,71.9 L262.5,72.7 L262.0,73.5 L261.6,74.3 L261.1,75.2 L260.6,76.1 L260.1,77.0 L259.7,77.9 L259.2,78.8 L258.7,79.8 L258.2,80.8 L257.8,81.8 L257.3,82.8 L256.8,83.8 L256.3,84.9 L255.9,86.0 L255.4,87.1 L254.9,88.2 L254.4,89.4 L254.0,90.6 L253.5,91.9 L253.0,93.1 L252.5,94.4 L252.1,95.8 L251.6,97.1 L251.1,98.5 L250.6,99.9 L250.2,101.3 L249.7,102.7 L249.2,104.2 L248.7,105.6 L248.3,107.1 L247.8,108.6 L247.3,110.1 L246.8,111.6 L246.4,113.1 L245.9,114.6 L245.4,116.1 L244.9,117.6 L244.5,119.1 L244.0,120.5 L243.5,122.0 L243.0,123.5 L242.6,125.0 L242.1,126.6 L241.6,128.1 L241.1,129.7 L240.7,131.3 L240.2,133.0 L239.7,134.7 L239.2,136.4 L238.8,138.2 L238.3,140.1 L237.8,142.0 L237.3,143.9 L236.9,145.9 L236.4,147.9 L235.9,150.0 L235.4,152.1 L235.0,154.2 L234.5,156.4 L234.0,158.5 L233.5,160.7 L233.1,162.8 L232.6,164.9 L232.1,167.0 L231.6,169.2 L231.2,171.3 L230.7,173.4 L230.2,175.5 L229.7,177.6 L229.3,179.7 L228.8,181.8 L228.3,183.8 L227.8,185.8 L227.4,187.8 L226.9,189.8 L226.4,191.7 L225.9,193.6 L225.5,195.5 L225.0,197.3Z" fill="#00BFC4" fill-opacity="0.5" stroke="none"/>
<path d="M237,130h2v1h-2zM349,130h2v1h-2zM359,167h2v1h-2zM359,176h2v1h-2zM241,122h2v1h-2zM347,122h2v1h-2zM231,161h2v1h-2zM356,161h2v1h-2zM252,90h2v1h-2zM336,90h2v1h-2zM346,118h2v1h-2zM255,83h2v1h-2zM333,83h2v1h-2zM238,127h2v1h-2zM350,127h2v1h-2zM277,54h3v1h-3zM306,54h7v1h-7zM283,50h20v1h-20zM319,60h3v1h-3zM357,166h2v1h-2zM265,65h2v1h-2zM259,75h2v1h-2zM329,75h2v1h-2zM257,78h2v1h-2zM332,78h2v1h-2zM233,145h2v1h-2zM237,136h2v1h-2zM352,136h2v1h-2zM364,195h2v1h-2zM280,51h26v1h-26zM263,66h2v1h-2zM325,66h2v1h-2zM353,146h2v1h-2zM272,56h5v1h-5zM311,56h5v1h-5zM359,168h2v1h-2zM246,107h2v1h-2zM254,84h2v1h-2zM335,84h2v1h-2zM238,133h2v1h-2zM267,61h2v1h-2zM278,52h7v1h-7zM300,52h9v1h-9zM251,88h2v1h-2zM335,88h2v1h-2zM358,170h2v1h-2zM240,125h2v1h-2zM348,125h2v1h-2zM347,121h2v1h-2zM358,162h2v1h-2zM276,53h6v1h-6zM304,53h7v1h-7zM266,64h2v1h-2zM322,64h2v1h-2zM358,171h2v1h-2zM241,117h2v1h-2zM234,147h2v1h-2zM353,147h2v1h-2zM232,156h2v1h-2zM355,156h2v1h-2zM244,113h2v1h-2zM250,94h2v1h-2zM338,94h2v1h-2zM246,106h2v1h-2zM344,106h2v1h-2zM233,152h2v1h-2zM354,152h2v1h-2zM240,126h2v1h-2zM348,126h2v1h-2zM351,131h2v1h-2zM269,59h2v1h-2zM316,59h4v1h-4zM245,105h2v1h-2zM342,105h2v1h-2zM255,82h2v1h-2zM334,82h2v1h-2zM245,110h2v1h-2zM232,149h2v1h-2zM263,68h2v1h-2zM325,68h2v1h-2zM273,57h2v1h-2zM315,57h3v1h-3zM234,141h2v1h-2zM239,128h2v1h-2zM350,128h2v1h-2zM360,182h2v1h-2zM240,120h2v1h-2zM348,120h2v1h-2zM230,165h2v1h-2zM357,165h2v1h-2zM254,85h2v1h-2zM334,85h2v1h-2zM243,116h2v1h-2zM347,116h2v1h-2zM261,71h2v1h-2zM327,71h2v1h-2zM233,153h2v1h-2zM356,153h2v1h-2zM258,76h2v1h-2zM331,76h2v1h-2zM356,160h2v1h-2zM252,89h2v1h-2zM288,49h9v1h-9zM249,98h2v1h-2zM341,98h2v1h-2zM274,55h4v1h-4zM309,55h6v1h-6zM365,210h2v1h-2zM270,58h4v1h-4zM314,58h3v1h-3zM235,144h2v1h-2zM354,144h2v1h-2zM237,135h2v1h-2zM350,135h2v1h-2zM362,185h2v1h-2zM242,114h2v1h-2zM345,114h2v1h-2zM358,172h2v1h-2zM362,194h2v1h-2zM355,155h2v1h-2zM360,181h2v1h-2zM239,123h2v1h-2zM349,123h2v1h-2zM359,177h2v1h-2zM363,190h2v1h-2zM252,86h2v1h-2zM336,86h2v1h-2zM238,132h2v1h-2zM351,132h2v1h-2zM345,115h2v1h-2zM253,87h2v1h-2zM335,87h2v1h-2zM243,111h2v1h-2zM344,111h2v1h-2zM236,139h2v1h-2zM351,139h2v1h-2zM234,148h2v1h-2zM355,148h2v1h-2zM266,62h2v1h-2zM319,62h3v1h-3zM361,179h2v1h-2zM256,80h2v1h-2zM333,80h2v1h-2zM354,151h2v1h-2zM362,184h2v1h-2zM362,193h2v1h-2zM245,109h2v1h-2zM345,109h2v1h-2zM262,67h2v1h-2zM324,67h2v1h-2zM361,189h2v1h-2zM254,81h2v1h-2zM332,81h2v1h-2zM261,69h3v1h-3zM327,69h2v1h-2zM357,164h2v1h-2zM360,173h2v1h-2zM239,129h2v1h-2zM349,129h2v1h-2zM258,74h3v1h-3zM330,74h2v1h-2zM267,63h2v1h-2zM247,104h2v1h-2zM357,158h2v1h-2zM251,92h2v1h-2zM337,92h2v1h-2zM349,124h2v1h-2zM351,138h2v1h-2zM346,112h2v1h-2zM246,102h2v1h-2zM341,102h2v1h-2zM250,91h2v1h-2zM338,91h2v1h-2zM228,174h2v1h-2zM360,174h2v1h-2zM360,183h2v1h-2zM242,119h2v1h-2zM346,119h2v1h-2zM250,95h2v1h-2zM338,95h2v1h-2zM236,134h2v1h-2zM350,134h2v1h-2zM361,187h2v1h-2zM361,178h2v1h-2zM259,72h2v1h-2zM329,72h2v1h-2zM248,100h2v1h-2zM340,100h2v1h-2zM358,163h2v1h-2zM356,159h2v1h-2zM364,205h2v1h-2zM232,157h2v1h-2zM357,157h2v1h-2zM352,142h2v1h-2zM247,99h2v1h-2zM340,99h2v1h-2zM248,101h2v1h-2zM249,93h2v1h-2zM339,93h2v1h-2zM244,108h2v1h-2zM343,108h2v1h-2zM256,77h2v1h-2zM330,77h2v1h-2zM248,96h2v1h-2zM236,140h2v1h-2zM353,140h2v1h-2zM260,70h2v1h-2zM326,70h2v1h-2zM249,97h2v1h-2zM339,97h2v1h-2zM235,137h2v1h-2zM363,199h2v1h-2zM235,143h2v1h-2zM352,143h2v1h-2zM255,79h2v1h-2zM331,79h2v1h-2zM260,73h2v1h-2zM328,73h2v1h-2zM361,188h2v1h-2zM247,103h2v1h-2zM343,103h2v1h-2zM240,118h1v2h-1zM240,124h1v1h-1zM240,130h1v2h-1zM339,89h1v2h-1zM339,98h1v1h-1zM244,106h1v2h-1zM244,112h1v1h-1zM244,117h1v2h-1zM231,150h1v4h-1zM231,158h1v3h-1zM231,166h1v4h-1zM324,63h1v1h-1zM324,65h1v1h-1zM257,75h1v1h-1zM257,81h1v1h-1zM352,129h1v2h-1zM352,137h1v1h-1zM352,144h1v2h-1zM235,135h1v2h-1zM235,142h1v1h-1zM235,149h1v3h-1zM362,175h1v3h-1zM362,186h1v1h-1zM362,195h1v4h-1zM227,166h1v4h-1zM227,175h1v4h-1zM227,183h1v4h-1zM346,107h1v2h-1zM346,113h1v1h-1zM346,120h1v1h-1zM230,154h1v4h-1zM230,162h1v3h-1zM230,170h1v4h-1zM243,109h1v2h-1zM243,115h1v1h-1zM243,120h1v2h-1zM264,64h1v1h-1zM347,110h1v2h-1zM347,117h1v1h-1zM347,123h1v2h-1zM356,145h1v3h-1zM356,154h1v1h-1zM356,162h1v2h-1zM359,159h1v3h-1zM359,169h1v1h-1zM359,178h1v3h-1zM350,121h1v2h-1zM350,136h1v2h-1zM366,196h1v4h-1zM366,206h1v4h-1zM366,215h1v5h-1zM272,59h1v1h-1zM332,75h1v1h-1zM332,82h1v1h-1zM345,104h1v2h-1zM345,110h1v1h-1zM345,116h1v2h-1zM353,133h1v3h-1zM353,141h1v1h-1zM353,148h1v3h-1zM363,180h1v4h-1zM363,191h1v2h-1zM363,200h1v5h-1zM252,84h1v2h-1zM252,93h1v1h-1zM226,170h1v4h-1zM226,179h1v4h-1zM226,187h1v4h-1zM229,158h1v4h-1zM229,166h1v4h-1zM229,175h1v4h-1zM255,78h1v1h-1zM255,86h1v1h-1zM234,138h1v3h-1zM234,146h1v1h-1zM234,154h1v2h-1zM365,191h1v4h-1zM365,200h1v5h-1zM365,211h1v4h-1zM331,73h1v1h-1zM331,80h1v1h-1zM225,174h1v3h-1zM225,183h1v4h-1zM225,191h1v4h-1zM355,141h1v3h-1zM355,149h1v2h-1zM355,157h1v2h-1zM338,87h1v2h-1zM338,96h1v1h-1zM348,113h1v3h-1zM348,127h1v2h-1zM334,79h1v1h-1zM334,86h1v1h-1zM271,57h1v1h-1zM271,60h1v1h-1zM275,54h1v1h-1zM242,112h1v2h-1zM242,118h1v1h-1zM242,123h1v2h-1zM246,100h1v2h-1zM246,111h1v2h-1zM320,61h1v1h-1zM358,154h1v3h-1zM358,173h1v3h-1zM233,142h1v3h-1zM233,150h1v2h-1zM233,158h1v3h-1zM323,62h1v1h-1zM323,66h1v1h-1zM238,124h1v3h-1zM238,131h1v1h-1zM238,137h1v2h-1zM241,115h1v2h-1zM241,121h1v1h-1zM241,127h1v1h-1zM361,169h1v4h-1zM361,180h1v1h-1zM361,190h1v3h-1zM364,186h1v4h-1zM364,196h1v3h-1zM364,206h1v4h-1zM333,77h1v1h-1zM333,84h1v1h-1zM344,101h1v2h-1zM344,107h1v1h-1zM344,112h1v2h-1zM228,162h1v4h-1zM228,170h1v4h-1zM228,179h1v4h-1zM254,80h1v1h-1zM254,88h1v1h-1zM327,67h1v1h-1zM327,72h1v1h-1zM245,103h1v2h-1zM245,114h1v2h-1zM236,131h1v3h-1zM236,138h1v1h-1zM236,145h1v2h-1zM351,125h1v2h-1zM351,133h1v1h-1zM351,140h1v2h-1zM250,89h1v2h-1zM250,99h1v1h-1zM237,128h1v2h-1zM237,141h1v2h-1zM253,82h1v2h-1zM253,91h1v1h-1zM266,66h1v1h-1zM269,62h1v1h-1zM232,146h1v3h-1zM232,154h1v2h-1zM232,162h1v3h-1zM322,61h1v1h-1zM322,63h1v1h-1zM322,65h1v1h-1zM330,71h1v1h-1zM330,78h1v1h-1zM360,164h1v3h-1zM360,175h1v1h-1zM360,184h1v3h-1zM354,137h1v3h-1zM354,145h1v1h-1zM354,153h1v2h-1zM337,85h1v1h-1zM337,89h1v1h-1zM337,93h1v1h-1zM357,149h1v4h-1zM357,167h1v3h-1zM343,99h1v2h-1zM343,104h1v1h-1zM343,109h1v2h-1zM249,92h1v1h-1zM249,102h1v1h-1zM318,58h1v1h-1zM318,61h1v1h-1zM329,70h1v1h-1zM329,76h1v1h-1zM248,94h1v2h-1zM248,105h1v1h-1zM336,83h1v1h-1zM336,91h1v1h-1zM268,60h1v1h-1zM325,64h1v1h-1zM325,69h1v1h-1zM317,60h1v1h-1zM239,121h1v2h-1zM239,134h1v1h-1zM328,68h1v1h-1zM328,74h1v1h-1zM256,76h1v1h-1zM349,117h1v3h-1zM349,131h1v3h-1zM335,81h1v1h-1zM335,89h1v1h-1zM247,97h1v2h-1zM247,108h1v1h-1zM251,87h1v1h-1zM251,96h1v1h-1zM342,96h1v2h-1zM342,101h1v1h-1zM342,106h1v2h-1zM263,65h1v1h-1zM263,70h1v1h-1zM259,71h1v1h-1zM259,77h1v1h-1zM313,57h1v1h-1zM262,72h1v1h-1zM258,73h1v1h-1zM258,79h1v1h-1zM341,94h1v2h-1zM341,103h1v2h-1zM326,65h1v1h-1zM265,63h1v1h-1zM265,67h1v1h-1zM270,61h1v1h-1zM340,92h1v1h-1zM340,96h1v1h-1zM340,101h1v1h-1zM261,68h1v1h-1z" fill="#00BFC4"/>

<path d="M225.0,324.5 L225.5,326.6 L225.9,328.7 L226.4,330.8 L226.9,332.7 L227.4,334.6 L227.8,336.5 L228.3,338.2 L228.8,339.9 L229.3,341.5 L229.7,343.1 L230.2,344.6 L230.7,346.1 L231.2,347.6 L231.6,349.0 L232.1,350.4 L232.6,351.8 L233.1,353.1 L233.5,354.5 L234.0,355.8 L234.5,357.0 L235.0,358.2 L235.4,359.4 L235.9,360.5 L236.4,361.5 L236.9,362.5 L237.3,363.5 L237.8,364.4 L238.3,365.4 L238.8,366.3 L239.2,367.3 L239.7,368.2 L240.2,369.2 L240.7,370.1 L241.1,371.0 L241.6,371.9 L242.1,372.8 L242.6,373.6 L243.0,374.5 L243.5,375.3 L244.0,376.2 L244.5,377.0 L244.9,377.8 L245.4,378.6 L245.9,379.4 L246.4,380.2 L246.8,381.0 L247.3,381.8 L247.8,382.5 L248.3,383.3 L248.7,384.0 L249.2,384.8 L249.7,385.5 L250.2,386.2 L250.6,386.9 L251.1,387.6 L251.6,388.3 L252.1,388.9 L252.5,389.6 L253.0,390.2 L253.5,390.9 L254.0,391.5 L254.4,392.1 L254.9,392.7 L255.4,393.3 L255.9,393.8 L256.3,394.3 L256.8,394.9 L257.3,395.4 L257.8,395.9 L258.2,396.3 L258.7,396.8 L259.2,397.3 L259.7,397.7 L260.1,398.2 L260.6,398.6 L261.1,399.0 L261.6,399.4 L262.0,399.8 L262.5,400.2 L263.0,400.6 L263.5,400.9 L263.9,401.3 L264.4,401.7 L264.9,402.0 L265.4,402.4 L265.8,402.7 L266.3,403.0 L266.8,403.3 L267.3,403.6 L267.7,403.8 L268.2,404.1 L268.7,404.3 L269.2,404.6 L269.6,404.8 L270.1,405.0 L270.6,405.2 L271.1,405.4 L271.5,405.6 L272.0,405.8 L272.5,405.9 L273.0,406.1 L273.4,406.3 L273.9,406.5 L274.4,406.6 L274.9,406.8 L275.3,406.9 L275.8,407.1 L276.3,407.2 L276.8,407.4 L277.2,407.5 L277.7,407.7 L278.2,407.8 L278.7,408.0 L279.1,408.1 L279.6,408.2 L280.1,408.4 L280.6,408.5 L281.0,408.6 L281.5,408.7 L282.0,408.9 L282.5,409.0 L282.9,409.1 L283.4,409.2 L283.9,409.3 L284.4,409.4 L284.8,409.5 L285.3,409.7 L285.8,409.8 L286.3,409.9 L286.7,410.0 L287.2,410.1 L287.7,410.2 L288.2,410.3 L288.6,410.4 L289.1,410.5 L289.6,410.6 L290.1,410.7 L290.5,410.8 L291.0,410.8 L291.5,410.9 L292.0,411.0 L292.4,411.1 L292.9,411.2 L293.4,411.3 L293.9,411.3 L294.3,411.4 L294.8,411.5 L295.3,411.6 L295.8,411.6 L296.2,411.7 L296.7,411.8 L297.2,411.8 L297.7,411.9 L298.1,412.0 L298.6,412.0 L299.1,412.1 L299.6,412.2 L300.0,412.2 L300.5,412.3 L301.0,412.3 L301.5,412.4 L301.9,412.5 L302.4,412.5 L302.9,412.6 L303.4,412.6 L303.8,412.7 L304.3,412.7 L304.8,412.7 L305.3,412.8 L305.7,412.8 L306.2,412.8 L306.7,412.9 L307.2,412.9 L307.6,412.9 L308.1,412.9 L308.6,412.9 L309.1,412.9 L309.5,413.0 L310.0,413.0 L310.5,413.0 L311.0,413.0 L311.4,413.0 L311.9,413.0 L312.4,413.0 L312.9,413.0 L313.3,413.0 L313.8,413.1 L314.3,413.1 L314.8,413.1 L315.2,413.1 L315.7,413.1 L316.2,413.1 L316.7,413.1 L317.1,413.1 L317.6,413.1 L318.1,413.1 L318.6,413.1 L319.0,413.1 L319.5,413.1 L320.0,413.2 L320.5,413.2 L320.9,413.2 L321.4,413.2 L321.9,413.2 L322.4,413.2 L322.8,413.2 L323.3,413.2 L323.8,413.2 L324.3,413.2 L324.7,413.2 L325.2,413.2 L325.7,413.2 L326.2,413.3 L326.6,413.3 L327.1,413.3 L327.6,413.3 L328.1,413.3 L328.5,413.3 L329.0,413.3 L329.5,413.3 L330.0,413.3 L330.4,413.3 L330.9,413.3 L331.4,413.4 L331.9,413.4 L332.3,413.4 L332.8,413.4 L333.3,413.5 L333.8,413.5 L334.2,413.6 L334.7,413.7 L335.2,413.7 L335.7,413.8 L336.1,413.9 L336.6,413.9 L337.1,414.0 L337.6,414.0 L338.0,414.0 L338.5,414.0 L339.0,414.0 L339.5,414.0 L339.9,414.0 L340.4,414.0 L340.9,414.0 L341.4,414.0 L341.8,414.0 L342.3,414.0 L342.8,414.0 L343.3,414.0 L343.7,414.0 L344.2,414.0 L344.7,414.0 L345.2,414.0 L345.6,414.0 L346.1,414.0 L346.6,414.0 L347.1,414.0 L347.5,414.0 L348.0,414.0 L348.5,414.0 L349.0,414.0 L349.4,414.0 L349.9,414.0 L350.4,414.0 L350.9,414.0 L351.3,414.0 L351.8,414.0 L352.3,414.0 L352.8,414.0 L353.2,414.0 L353.7,414.0 L354.2,414.0 L354.7,414.0 L355.1,414.0 L355.6,414.0 L356.1,414.0 L356.6,414.0 L357.0,414.0 L357.5,414.0 L358.0,414.0 L358.5,414.0 L358.9,414.0 L359.4,414.0 L359.9,414.0 L360.4,414.0 L360.8,414.0 L361.3,414.0 L361.8,414.0 L362.3,414.0 L362.7,414.0 L363.2,414.0 L363.7,414.0 L364.2,414.0 L364.6,414.0 L365.1,414.0 L365.6,414.0 L366.1,414.0 L366.5,414.0 L367.0,414.0 L367.0,416.0 L366.5,416.0 L366.1,416.0 L365.6,416.0 L365.1,416.0 L364.6,416.0 L364.2,416.0 L363.7,416.0 L363.2,416.0 L362.7,416.0 L362.3,416.0 L361.8,416.0 L361.3,416.0 L360.8,416.0 L360.4,416.0 L359.9,416.0 L359.4,416.0 L358.9,416.0 L358.5,416.0 L358.0,416.0 L357.5,416.0 L357.0,416.0 L356.6,416.0 L356.1,416.0 L355.6,416.0 L355.1,416.0 L354.7,416.0 L354.2,416.0 L353.7,416.0 L353.2,416.0 L352.8,416.0 L352.3,416.0 L351.8,416.0 L351.3,416.0 L350.9,416.0 L350.4,416.0 L349.9,416.0 L349.4,416.0 L349.0,416.0 L348.5,416.0 L348.0,416.0 L347.5,416.0 L347.1,416.0 L346.6,416.0 L346.1,416.0 L345.6,416.0 L345.2,416.0 L344.7,416.0 L344.2,416.0 L343.7,416.0 L343.3,416.0 L342.8,416.0 L342.3,416.0 L341.8,416.0 L341.4,416.0 L340.9,416.0 L340.4,416.0 L339.9,416.0 L339.5,416.0 L339.0,416.0 L338.5,416.0 L338.0,416.0 L337.6,416.0 L337.1,416.0 L336.6,415.9 L336.1,415.9 L335.7,415.9 L335.2,415.8 L334.7,415.7 L334.2,415.7 L333.8,415.6 L333.3,415.6 L332.8,415.5 L332.3,415.5 L331.9,415.5 L331.4,415.5 L330.9,415.4 L330.4,415.4 L330.0,415.4 L329.5,415.4 L329.0,415.4 L328.5,415.4 L328.1,415.4 L327.6,415.4 L327.1,415.4 L326.6,415.4 L326.2,415.4 L325.7,415.4 L325.2,415.3 L324.7,415.3 L324.3,415.3 L323.8,415.3 L323.3,415.3 L322.8,415.3 L322.4,415.3 L321.9,415.3 L321.4,415.3 L320.9,415.3 L320.5,415.3 L320.0,415.2 L319.5,415.2 L319.0,415.2 L318.6,415.2 L318.1,415.2 L317.6,415.2 L317.1,415.2 L316.7,415.2 L316.2,415.2 L315.7,415.2 L315.2,415.1 L314.8,415.1 L314.3,415.1 L313.8,415.1 L313.3,415.1 L312.9,415.1 L312.4,415.1 L311.9,415.1 L311.4,415.0 L311.0,415.0 L310.5,415.0 L310.0,415.0 L309.5,415.0 L309.1,415.0 L308.6,414.9 L308.1,414.9 L307.6,414.9 L307.2,414.9 L306.7,414.9 L306.2,414.8 L305.7,414.8 L305.3,414.8 L304.8,414.7 L304.3,414.7 L303.8,414.7 L303.4,414.6 L302.9,414.6 L302.4,414.6 L301.9,414.5 L301.5,414.5 L301.0,414.4 L300.5,414.4 L300.0,414.4 L299.6,414.3 L299.1,414.3 L298.6,414.2 L298.1,414.2 L297.7,414.1 L297.2,414.1 L296.7,414.0 L296.2,414.0 L295.8,413.9 L295.3,413.9 L294.8,413.8 L294.3,413.8 L293.9,413.7 L293.4,413.7 L292.9,413.6 L292.4,413.5 L292.0,413.5 L291.5,413.4 L291.0,413.3 L290.5,413.3 L290.1,413.2 L289.6,413.1 L289.1,413.1 L288.6,413.0 L288.2,412.9 L287.7,412.8 L287.2,412.8 L286.7,412.7 L286.3,412.6 L285.8,412.5 L285.3,412.5 L284.8,412.4 L284.4,412.3 L283.9,412.2 L283.4,412.2 L282.9,412.1 L282.5,412.0 L282.0,411.9 L281.5,411.8 L281.0,411.8 L280.6,411.7 L280.1,411.6 L279.6,411.5 L279.1,411.4 L278.7,411.3 L278.2,411.2 L277.7,411.1 L277.2,411.0 L276.8,410.9 L276.3,410.9 L275.8,410.8 L275.3,410.7 L274.9,410.6 L274.4,410.5 L273.9,410.4 L273.4,410.3 L273.0,410.2 L272.5,410.1 L272.0,410.0 L271.5,409.9 L271.1,409.8 L270.6,409.7 L270.1,409.6 L269.6,409.5 L269.2,409.4 L268.7,409.2 L268.2,409.1 L267.7,409.0 L267.3,408.9 L266.8,408.7 L266.3,408.6 L265.8,408.4 L265.4,408.3 L264.9,408.1 L264.4,407.9 L263.9,407.7 L263.5,407.5 L263.0,407.3 L262.5,407.1 L262.0,406.9 L261.6,406.6 L261.1,406.4 L260.6,406.2 L260.1,405.9 L259.7,405.6 L259.2,405.4 L258.7,405.1 L258.2,404.8 L257.8,404.5 L257.3,404.2 L256.8,403.9 L256.3,403.6 L255.9,403.2 L255.4,402.9 L254.9,402.5 L254.4,402.1 L254.0,401.8 L253.5,401.3 L253.0,400.9 L252.5,400.5 L252.1,400.0 L251.6,399.5 L251.1,399.0 L250.6,398.4 L250.2,397.9 L249.7,397.2 L249.2,396.6 L248.7,396.0 L248.3,395.3 L247.8,394.6 L247.3,393.9 L246.8,393.2 L246.4,392.5 L245.9,391.8 L245.4,391.1 L244.9,390.4 L244.5,389.7 L244.0,388.9 L243.5,388.1 L243.0,387.3 L242.6,386.4 L242.1,385.5 L241.6,384.5 L241.1,383.4 L240.7,382.3 L240.2,381.2 L239.7,380.0 L239.2,378.9 L238.8,377.9 L238.3,376.8 L237.8,375.8 L237.3,374.8 L236.9,373.9 L236.4,372.9 L235.9,371.8 L235.4,370.8 L235.0,369.7 L234.5,368.7 L234.0,367.6 L233.5,366.4 L233.1,365.3 L232.6,364.2 L232.1,363.0 L231.6,361.9 L231.2,360.7 L230.7,359.5 L230.2,358.4 L229.7,357.2 L229.3,356.0 L228.8,354.8 L228.3,353.6 L227.8,352.3 L227.4,351.1 L226.9,349.9 L226.4,348.6 L225.9,347.4 L225.5,346.1 L225.0,344.9Z" fill="#C77CFF" fill-opacity="0.5" stroke="none"/>
<path d="M270,409h5v1h-5zM276,409h9v1h-9zM239,377h2v1h-2zM280,411h15v1h-15zM265,405h2v1h-2zM269,405h2v1h-2zM258,401h2v1h-2zM292,413h42v1h-42zM230,356h2v1h-2zM286,412h16v1h-16zM302,414h65v1h-65zM238,375h2v1h-2zM228,345h2v1h-2zM333,415h34v1h-34zM275,410h5v1h-5zM281,410h8v1h-8zM261,400h2v1h-2zM231,359h2v1h-2zM228,351h2v1h-2zM232,361h2v1h-2zM261,406h2v1h-2zM267,406h3v1h-3zM271,406h3v1h-3zM232,362h2v1h-2zM256,403h2v1h-2zM261,403h2v1h-2zM265,403h2v1h-2zM266,408h4v1h-4zM273,408h3v1h-3zM277,408h4v1h-4zM263,407h3v1h-3zM270,407h3v1h-3zM274,407h3v1h-3zM234,366h2v1h-2zM235,369h2v1h-2zM258,404h2v1h-2zM263,404h2v1h-2zM267,404h2v1h-2zM233,364h2v1h-2zM237,373h2v1h-2zM236,371h2v1h-2zM229,354h2v1h-2zM228,339h1v3h-1zM228,346h1v3h-1zM228,352h1v2h-1zM247,382h1v2h-1zM247,388h1v2h-1zM247,393h1v1h-1zM243,375h1v2h-1zM243,381h1v2h-1zM243,386h1v2h-1zM246,381h1v1h-1zM246,387h1v1h-1zM246,391h1v2h-1zM250,387h1v1h-1zM250,393h1v1h-1zM250,397h1v1h-1zM233,354h1v3h-1zM233,360h1v1h-1zM233,365h1v1h-1zM227,335h1v4h-1zM227,342h1v3h-1zM227,349h1v2h-1zM230,346h1v3h-1zM230,352h1v2h-1zM230,357h1v2h-1zM245,379h1v2h-1zM245,385h1v2h-1zM245,390h1v1h-1zM254,392h1v2h-1zM254,397h1v1h-1zM254,401h1v1h-1zM239,368h1v2h-1zM239,374h1v1h-1zM239,378h1v1h-1zM248,384h1v1h-1zM248,390h1v1h-1zM248,394h1v1h-1zM251,388h1v2h-1zM251,394h1v1h-1zM251,398h1v1h-1zM244,377h1v2h-1zM244,383h1v2h-1zM244,388h1v2h-1zM231,349h1v3h-1zM231,355h1v1h-1zM231,360h1v1h-1zM232,352h1v2h-1zM232,357h1v2h-1zM232,363h1v1h-1zM240,370h1v2h-1zM240,376h1v1h-1zM240,379h1v3h-1zM229,342h1v3h-1zM229,349h1v2h-1zM229,355h1v1h-1zM252,390h1v1h-1zM252,395h1v1h-1zM252,399h1v1h-1zM241,372h1v2h-1zM241,378h1v1h-1zM241,382h1v2h-1zM249,385h1v2h-1zM249,391h1v2h-1zM249,395h1v2h-1zM225,327h1v4h-1zM225,335h1v4h-1zM225,344h1v2h-1zM234,357h1v3h-1zM234,363h1v1h-1zM234,367h1v2h-1zM236,362h1v2h-1zM236,367h1v2h-1zM236,372h1v1h-1zM242,374h1v1h-1zM242,379h1v2h-1zM242,384h1v2h-1zM238,366h1v2h-1zM238,372h1v1h-1zM238,376h1v1h-1zM226,331h1v4h-1zM226,339h1v3h-1zM226,346h1v3h-1zM260,399h1v1h-1zM260,402h1v1h-1zM260,405h1v1h-1zM264,402h1v1h-1zM255,394h1v1h-1zM255,398h1v1h-1zM255,402h1v1h-1zM237,364h1v2h-1zM237,370h1v1h-1zM237,374h1v1h-1zM263,401h1v1h-1zM256,395h1v1h-1zM256,399h1v1h-1zM235,360h1v2h-1zM235,365h1v1h-1zM235,370h1v1h-1zM253,391h1v1h-1zM253,396h1v1h-1zM253,400h1v1h-1zM257,396h1v1h-1zM257,400h1v1h-1zM258,397h1v1h-1zM259,398h1v1h-1z" fill="#C77CFF"/>

</g>
</g>
<text class="st" x="294.80" y="24.6" text-anchor="middle">Retired</text>
<rect x="225" y="435.0" width="1" height="4" fill="#333"/>
<text class="tk" x="225.50" y="453.2" text-anchor="middle">50</text>
<rect x="254" y="435.0" width="1" height="4" fill="#333"/>
<text class="tk" x="254.50" y="453.2" text-anchor="middle">60</text>
<rect x="284" y="435.0" width="1" height="4" fill="#333"/>
<text class="tk" x="284.50" y="453.2" text-anchor="middle">70</text>
<rect x="313" y="435.0" width="1" height="4" fill="#333"/>
<text class="tk" x="313.50" y="453.2" text-anchor="middle">80</text>
<rect x="342" y="435.0" width="1" height="4" fill="#333"/>
<text class="tk" x="342.50" y="453.2" text-anchor="middle">90</text>
<rect x="372" y="435.0" width="1" height="4" fill="#333"/>
<text class="tk" x="372.50" y="453.2" text-anchor="middle">100</text>
<rect x="380.0" y="7.0" width="155.0" height="23.0" fill="#D9D9D9"/>
<rect x="380.0" y="30.0" width="155.0" height="405.0" fill="#EBEBEB"/>
<g clip-path="url(#cp2)" shape-rendering="crispEdges">
<rect x="380.0" y="368" width="155.0" height="1" fill="#fff"/>
<rect x="380.0" y="272" width="155.0" height="1" fill="#fff"/>
<rect x="380.0" y="175" width="155.0" height="1" fill="#fff"/>
<rect x="380.0" y="79" width="155.0" height="1" fill="#fff"/>
<rect x="380.0" y="417" width="155.0" height="1" fill="#fff"/>
<rect x="380.0" y="320" width="155.0" height="1" fill="#fff"/>
<rect x="380.0" y="223" width="155.0" height="1" fill="#fff"/>
<rect x="380.0" y="127" width="155.0" height="1" fill="#fff"/>
<rect x="402" y="30.0" width="1" height="405.0" fill="#fff"/>
<rect x="431" y="30.0" width="1" height="405.0" fill="#fff"/>
<rect x="460" y="30.0" width="1" height="405.0" fill="#fff"/>
<rect x="490" y="30.0" width="1" height="405.0" fill="#fff"/>
<rect x="519" y="30.0" width="1" height="405.0" fill="#fff"/>
<rect x="387" y="30.0" width="1" height="405.0" fill="#fff"/>
<rect x="416" y="30.0" width="1" height="405.0" fill="#fff"/>
<rect x="446" y="30.0" width="1" height="405.0" fill="#fff"/>
<rect x="475" y="30.0" width="1" height="405.0" fill="#fff"/>
<rect x="504" y="30.0" width="1" height="405.0" fill="#fff"/>
<rect x="534" y="30.0" width="1" height="405.0" fill="#fff"/>
<g clip-path="url(#cc2)">
<path d="M387.0,416.0 L387.5,416.0 L387.9,416.0 L388.4,416.0 L388.9,416.0 L389.4,416.0 L389.8,416.0 L390.3,416.0 L390.8,416.0 L391.3,416.0 L391.7,416.0 L392.2,416.0 L392.7,416.0 L393.2,416.0 L393.6,416.0 L394.1,416.0 L394.6,416.0 L395.1,416.0 L395.5,416.0 L396.0,416.0 L396.5,416.0 L397.0,416.0 L397.4,416.0 L397.9,416.0 L398.4,416.0 L398.9,415.9 L399.3,415.9 L399.8,415.9 L400.3,415.8 L400.8,415.7 L401.2,415.6 L401.7,415.5 L402.2,415.4 L402.7,415.3 L403.1,415.2 L403.6,415.1 L404.1,415.1 L404.6,415.0 L405.0,415.0 L405.5,415.0 L406.0,414.9 L406.5,414.9 L406.9,414.9 L407.4,414.8 L407.9,414.8 L408.4,414.8 L408.8,414.8 L409.3,414.8 L409.8,414.8 L410.3,414.7 L410.7,414.7 L411.2,414.7 L411.7,414.7 L412.2,414.7 L412.6,414.7 L413.1,414.6 L413.6,414.6 L414.1,414.6 L414.5,414.6 L415.0,414.5 L415.5,414.5 L416.0,414.5 L416.4,414.5 L416.9,414.4 L417.4,414.4 L417.9,414.4 L418.3,414.3 L418.8,414.3 L419.3,414.2 L419.8,414.2 L420.2,414.1 L420.7,414.1 L421.2,414.0 L421.7,413.9 L422.1,413.9 L422.6,413.8 L423.1,413.7 L423.6,413.7 L424.0,413.6 L424.5,413.5 L425.0,413.5 L425.5,413.4 L425.9,413.3 L426.4,413.2 L426.9,413.1 L427.4,413.1 L427.8,413.0 L428.3,412.9 L428.8,412.8 L429.3,412.7 L429.7,412.6 L430.2,412.6 L430.7,412.5 L431.2,412.4 L431.6,412.3 L432.1,412.2 L432.6,412.1 L433.1,412.0 L433.5,411.9 L434.0,411.7 L434.5,411.6 L435.0,411.5 L435.4,411.4 L435.9,411.3 L436.4,411.2 L436.9,411.0 L437.3,410.9 L437.8,410.8 L438.3,410.7 L438.8,410.5 L439.2,410.4 L439.7,410.3 L440.2,410.1 L440.7,410.0 L441.1,409.8 L441.6,409.7 L442.1,409.5 L442.6,409.3 L443.0,409.2 L443.5,409.0 L444.0,408.8 L444.5,408.7 L444.9,408.5 L445.4,408.3 L445.9,408.2 L446.4,408.1 L446.8,407.9 L447.3,407.8 L447.8,407.7 L448.3,407.6 L448.7,407.5 L449.2,407.4 L449.7,407.3 L450.2,407.2 L450.6,407.1 L451.1,407.0 L451.6,406.9 L452.1,406.8 L452.5,406.7 L453.0,406.5 L453.5,406.3 L454.0,406.2 L454.4,406.0 L454.9,405.7 L455.4,405.5 L455.9,405.3 L456.3,405.0 L456.8,404.8 L457.3,404.5 L457.8,404.2 L458.2,404.0 L458.7,403.7 L459.2,403.4 L459.7,403.1 L460.1,402.9 L460.6,402.6 L461.1,402.3 L461.6,402.0 L462.0,401.7 L462.5,401.4 L463.0,401.1 L463.5,400.9 L463.9,400.5 L464.4,400.2 L464.9,399.9 L465.4,399.6 L465.8,399.3 L466.3,398.9 L466.8,398.6 L467.3,398.2 L467.7,397.8 L468.2,397.5 L468.7,397.1 L469.2,396.6 L469.6,396.2 L470.1,395.8 L470.6,395.3 L471.1,394.8 L471.5,394.4 L472.0,393.9 L472.5,393.4 L473.0,392.9 L473.4,392.4 L473.9,391.9 L474.4,391.4 L474.9,390.9 L475.3,390.4 L475.8,389.9 L476.3,389.3 L476.8,388.8 L477.2,388.3 L477.7,387.8 L478.2,387.2 L478.7,386.7 L479.1,386.1 L479.6,385.5 L480.1,384.9 L480.6,384.3 L481.0,383.7 L481.5,383.0 L482.0,382.3 L482.5,381.6 L482.9,380.9 L483.4,380.2 L483.9,379.4 L484.4,378.6 L484.8,377.8 L485.3,377.0 L485.8,376.1 L486.3,375.3 L486.7,374.3 L487.2,373.4 L487.7,372.4 L488.2,371.5 L488.6,370.4 L489.1,369.4 L489.6,368.3 L490.1,367.2 L490.5,366.0 L491.0,364.9 L491.5,363.7 L492.0,362.4 L492.4,361.2 L492.9,360.0 L493.4,358.8 L493.9,357.5 L494.3,356.3 L494.8,355.0 L495.3,353.6 L495.8,352.2 L496.2,350.8 L496.7,349.3 L497.2,347.9 L497.7,346.5 L498.1,345.1 L498.6,343.7 L499.1,342.3 L499.6,340.9 L500.0,339.4 L500.5,337.9 L501.0,336.4 L501.5,334.9 L501.9,333.3 L502.4,331.6 L502.9,329.9 L503.4,328.1 L503.8,326.3 L504.3,324.5 L504.8,322.6 L505.3,320.7 L505.7,318.8 L506.2,316.9 L506.7,315.0 L507.2,313.2 L507.6,311.3 L508.1,309.5 L508.6,307.7 L509.1,306.0 L509.5,304.2 L510.0,302.4 L510.5,300.6 L511.0,298.8 L511.4,296.9 L511.9,294.9 L512.4,292.9 L512.9,290.8 L513.3,288.8 L513.8,286.6 L514.3,284.5 L514.8,282.3 L515.2,280.0 L515.7,277.7 L516.2,275.4 L516.7,273.0 L517.1,270.5 L517.6,267.9 L518.1,265.3 L518.6,262.7 L519.0,260.1 L519.5,257.6 L520.0,255.1 L520.5,252.7 L520.9,250.3 L521.4,247.9 L521.9,245.5 L522.4,243.1 L522.8,240.7 L523.3,238.2 L523.8,235.7 L524.3,233.1 L524.7,230.4 L525.2,227.7 L525.7,224.8 L526.2,221.8 L526.6,218.8 L527.1,215.8 L527.6,212.8 L528.1,209.8 L528.5,206.9 L529.0,204.0 L529.0,260.7 L528.5,262.5 L528.1,264.4 L527.6,266.3 L527.1,268.2 L526.6,270.2 L526.2,272.2 L525.7,274.2 L525.2,276.3 L524.7,278.3 L524.3,280.3 L523.8,282.3 L523.3,284.3 L522.8,286.3 L522.4,288.2 L521.9,290.2 L521.4,292.2 L520.9,294.1 L520.5,296.0 L520.0,297.9 L519.5,299.7 L519.0,301.4 L518.6,303.2 L518.1,304.9 L517.6,306.6 L517.1,308.3 L516.7,310.0 L516.2,311.7 L515.7,313.4 L515.2,315.1 L514.8,316.8 L514.3,318.6 L513.8,320.3 L513.3,322.0 L512.9,323.7 L512.4,325.4 L511.9,327.1 L511.4,328.7 L511.0,330.4 L510.5,332.0 L510.0,333.5 L509.5,335.1 L509.1,336.6 L508.6,338.1 L508.1,339.6 L507.6,341.0 L507.2,342.4 L506.7,343.7 L506.2,345.1 L505.7,346.4 L505.3,347.6 L504.8,348.8 L504.3,350.0 L503.8,351.1 L503.4,352.2 L502.9,353.3 L502.4,354.4 L501.9,355.6 L501.5,356.7 L501.0,357.8 L500.5,358.9 L500.0,360.0 L499.6,361.0 L499.1,362.0 L498.6,363.0 L498.1,364.0 L497.7,364.9 L497.2,365.9 L496.7,366.8 L496.2,367.8 L495.8,368.7 L495.3,369.7 L494.8,370.6 L494.3,371.6 L493.9,372.5 L493.4,373.5 L492.9,374.4 L492.4,375.3 L492.0,376.3 L491.5,377.2 L491.0,378.1 L490.5,378.9 L490.1,379.8 L489.6,380.6 L489.1,381.4 L488.6,382.1 L488.2,382.8 L487.7,383.5 L487.2,384.1 L486.7,384.7 L486.3,385.3 L485.8,385.9 L485.3,386.5 L484.8,387.0 L484.4,387.5 L483.9,388.1 L483.4,388.6 L482.9,389.1 L482.5,389.6 L482.0,390.1 L481.5,390.6 L481.0,391.1 L480.6,391.6 L480.1,392.0 L479.6,392.5 L479.1,392.9 L478.7,393.4 L478.2,393.8 L477.7,394.3 L477.2,394.7 L476.8,395.1 L476.3,395.5 L475.8,395.9 L475.3,396.3 L474.9,396.7 L474.4,397.1 L473.9,397.5 L473.4,397.9 L473.0,398.3 L472.5,398.7 L472.0,399.0 L471.5,399.4 L471.1,399.7 L470.6,400.1 L470.1,400.5 L469.6,400.8 L469.2,401.1 L468.7,401.5 L468.2,401.8 L467.7,402.1 L467.3,402.5 L466.8,402.8 L466.3,403.1 L465.8,403.4 L465.4,403.7 L464.9,404.0 L464.4,404.3 L463.9,404.6 L463.5,404.8 L463.0,405.1 L462.5,405.4 L462.0,405.6 L461.6,405.9 L461.1,406.1 L460.6,406.4 L460.1,406.6 L459.7,406.8 L459.2,407.1 L458.7,407.3 L458.2,407.5 L457.8,407.7 L457.3,407.9 L456.8,408.1 L456.3,408.3 L455.9,408.5 L455.4,408.7 L454.9,408.9 L454.4,409.1 L454.0,409.3 L453.5,409.5 L453.0,409.6 L452.5,409.8 L452.1,409.9 L451.6,410.1 L451.1,410.2 L450.6,410.4 L450.2,410.5 L449.7,410.6 L449.2,410.8 L448.7,410.9 L448.3,411.0 L447.8,411.1 L447.3,411.2 L446.8,411.4 L446.4,411.5 L445.9,411.6 L445.4,411.7 L444.9,411.8 L444.5,412.0 L444.0,412.1 L443.5,412.2 L443.0,412.3 L442.6,412.4 L442.1,412.5 L441.6,412.6 L441.1,412.7 L440.7,412.8 L440.2,413.0 L439.7,413.1 L439.2,413.2 L438.8,413.3 L438.3,413.4 L437.8,413.5 L437.3,413.6 L436.9,413.7 L436.4,413.8 L435.9,413.9 L435.4,414.0 L435.0,414.1 L434.5,414.2 L434.0,414.3 L433.5,414.4 L433.1,414.5 L432.6,414.5 L432.1,414.6 L431.6,414.7 L431.2,414.8 L430.7,414.9 L430.2,415.0 L429.7,415.0 L429.3,415.1 L428.8,415.2 L428.3,415.3 L427.8,415.3 L427.4,415.4 L426.9,415.5 L426.4,415.6 L425.9,415.6 L425.5,415.7 L425.0,415.8 L424.5,415.8 L424.0,415.9 L423.6,416.0 L423.1,416.0 L422.6,416.1 L422.1,416.2 L421.7,416.2 L421.2,416.3 L420.7,416.3 L420.2,416.4 L419.8,416.4 L419.3,416.5 L418.8,416.5 L418.3,416.5 L417.9,416.6 L417.4,416.6 L416.9,416.6 L416.4,416.6 L416.0,416.7 L415.5,416.7 L415.0,416.7 L414.5,416.7 L414.1,416.8 L413.6,416.8 L413.1,416.8 L412.6,416.8 L412.2,416.8 L411.7,416.9 L411.2,416.9 L410.7,416.9 L410.3,416.9 L409.8,416.9 L409.3,416.9 L408.8,416.9 L408.4,417.0 L407.9,417.0 L407.4,417.0 L406.9,417.0 L406.5,417.0 L406.0,417.0 L405.5,417.0 L405.0,417.0 L404.6,417.0 L404.1,417.0 L403.6,417.0 L403.1,417.0 L402.7,417.0 L402.2,417.0 L401.7,417.0 L401.2,417.0 L400.8,417.0 L400.3,417.0 L399.8,417.0 L399.3,417.0 L398.9,417.0 L398.4,417.0 L397.9,417.0 L397.4,417.0 L397.0,417.0 L396.5,417.0 L396.0,417.0 L395.5,417.0 L395.1,417.0 L394.6,417.0 L394.1,417.0 L393.6,417.0 L393.2,417.0 L392.7,417.0 L392.2,417.0 L391.7,417.0 L391.3,417.0 L390.8,417.0 L390.3,417.0 L389.8,417.0 L389.4,417.0 L388.9,417.0 L388.4,417.0 L387.9,417.0 L387.5,417.0 L387.0,417.0Z" fill="#F8766D" fill-opacity="0.5" stroke="none"/>
<path d="M402,415h25v1h-25zM435,411h11v1h-11zM431,412h11v1h-11zM439,410h6v1h-6zM446,410h4v1h-4zM416,414h17v1h-17zM456,405h3v1h-3zM460,405h2v1h-2zM459,403h4v1h-4zM464,403h2v1h-2zM457,404h4v1h-4zM462,404h2v1h-2zM464,400h4v1h-4zM467,401h2v1h-2zM453,406h4v1h-4zM458,406h2v1h-2zM425,413h13v1h-13zM387,416h32v1h-32zM471,398h2v1h-2zM449,407h6v1h-6zM456,407h2v1h-2zM442,409h11v1h-11zM468,397h4v1h-4zM461,402h4v1h-4zM445,408h4v1h-4zM450,408h6v1h-6zM494,356h1v3h-1zM494,362h1v3h-1zM494,369h1v2h-1zM520,253h1v5h-1zM520,271h1v5h-1zM520,292h1v4h-1zM503,328h1v3h-1zM503,337h1v3h-1zM503,349h1v3h-1zM507,312h1v4h-1zM507,323h1v4h-1zM507,338h1v3h-1zM525,226h1v6h-1zM525,247h1v4h-1zM525,271h1v4h-1zM511,297h1v4h-1zM511,308h1v4h-1zM511,325h1v3h-1zM508,308h1v4h-1zM508,319h1v4h-1zM508,335h1v3h-1zM512,292h1v5h-1zM512,304h1v4h-1zM512,321h1v4h-1zM524,232h1v5h-1zM524,251h1v5h-1zM524,275h1v4h-1zM528,207h1v6h-1zM528,233h1v4h-1zM528,260h1v3h-1zM516,274h1v5h-1zM516,288h1v4h-1zM516,307h1v4h-1zM479,386h1v1h-1zM479,389h1v1h-1zM479,391h1v1h-1zM517,269h1v5h-1zM517,284h1v4h-1zM517,303h1v4h-1zM515,279h1v5h-1zM515,292h1v4h-1zM515,311h1v3h-1zM506,316h1v4h-1zM506,327h1v3h-1zM506,341h1v3h-1zM521,248h1v5h-1zM521,266h1v5h-1zM521,288h1v4h-1zM495,353h1v3h-1zM495,360h1v2h-1zM495,367h1v2h-1zM519,258h1v5h-1zM519,276h1v4h-1zM519,296h1v4h-1zM498,344h1v3h-1zM498,352h1v3h-1zM498,361h1v2h-1zM478,387h1v1h-1zM478,390h1v1h-1zM478,392h1v1h-1zM490,366h1v3h-1zM490,372h1v2h-1zM490,377h1v2h-1zM502,331h1v4h-1zM502,340h1v3h-1zM502,352h1v2h-1zM482,382h1v1h-1zM482,385h1v1h-1zM482,388h1v1h-1zM510,301h1v3h-1zM510,312h1v4h-1zM510,328h1v4h-1zM523,237h1v5h-1zM523,256h1v5h-1zM523,279h1v4h-1zM527,213h1v7h-1zM527,237h1v5h-1zM527,263h1v4h-1zM473,393h1v1h-1zM473,395h1v1h-1zM473,397h1v1h-1zM474,391h1v2h-1zM474,394h1v1h-1zM474,396h1v1h-1zM466,399h1v1h-1zM466,402h1v1h-1zM514,284h1v4h-1zM514,296h1v4h-1zM514,314h1v4h-1zM518,263h1v6h-1zM518,280h1v4h-1zM518,300h1v3h-1zM481,383h1v2h-1zM481,386h1v1h-1zM481,389h1v1h-1zM485,377h1v2h-1zM485,381h1v1h-1zM485,385h1v1h-1zM497,347h1v3h-1zM497,355h1v2h-1zM497,363h1v2h-1zM522,242h1v6h-1zM522,261h1v5h-1zM522,283h1v5h-1zM493,359h1v2h-1zM493,365h1v2h-1zM493,371h1v2h-1zM505,320h1v4h-1zM505,330h1v4h-1zM505,344h1v3h-1zM470,396h1v1h-1zM470,399h1v1h-1zM509,304h1v4h-1zM509,316h1v3h-1zM509,332h1v3h-1zM513,288h1v4h-1zM513,300h1v4h-1zM513,318h1v3h-1zM526,220h1v6h-1zM526,242h1v5h-1zM526,267h1v4h-1zM489,369h1v2h-1zM489,374h1v2h-1zM489,379h1v2h-1zM492,361h1v3h-1zM492,367h1v3h-1zM492,373h1v2h-1zM488,371h1v2h-1zM488,376h1v2h-1zM488,381h1v1h-1zM501,335h1v3h-1zM501,343h1v3h-1zM501,354h1v3h-1zM480,385h1v1h-1zM480,387h1v2h-1zM480,390h1v1h-1zM465,401h1v1h-1zM504,324h1v4h-1zM504,334h1v3h-1zM504,347h1v2h-1zM477,388h1v1h-1zM477,391h1v1h-1zM477,393h1v1h-1zM469,398h1v1h-1zM469,400h1v1h-1zM484,379h1v1h-1zM484,382h1v2h-1zM484,386h1v1h-1zM496,350h1v3h-1zM496,357h1v3h-1zM496,365h1v2h-1zM487,373h1v2h-1zM487,378h1v1h-1zM487,382h1v2h-1zM476,389h1v1h-1zM476,392h1v1h-1zM476,394h1v1h-1zM500,338h1v3h-1zM500,346h1v3h-1zM500,357h1v2h-1zM491,364h1v2h-1zM491,370h1v2h-1zM491,375h1v2h-1zM483,380h1v2h-1zM483,384h1v1h-1zM483,387h1v1h-1zM475,390h1v1h-1zM475,393h1v1h-1zM475,395h1v1h-1zM499,341h1v3h-1zM499,349h1v3h-1zM499,359h1v2h-1zM472,394h1v1h-1zM472,396h1v1h-1zM486,375h1v2h-1zM486,379h1v2h-1zM486,384h1v1h-1zM463,401h1v1h-1zM467,398h1v1h-1zM468,399h1v1h-1z" fill="#F8766D"/>

<path d="M387.0,397.4 L387.5,397.1 L387.9,396.8 L388.4,396.5 L388.9,396.1 L389.4,395.8 L389.8,395.5 L390.3,395.2 L390.8,394.9 L391.3,394.6 L391.7,394.2 L392.2,393.9 L392.7,393.6 L393.2,393.3 L393.6,393.0 L394.1,392.7 L394.6,392.4 L395.1,392.1 L395.5,391.8 L396.0,391.5 L396.5,391.2 L397.0,390.9 L397.4,390.7 L397.9,390.4 L398.4,390.2 L398.9,390.0 L399.3,389.8 L399.8,389.6 L400.3,389.4 L400.8,389.2 L401.2,389.0 L401.7,388.9 L402.2,388.7 L402.7,388.6 L403.1,388.4 L403.6,388.3 L404.1,388.2 L404.6,388.2 L405.0,388.1 L405.5,388.1 L406.0,388.1 L406.5,388.0 L406.9,388.0 L407.4,388.0 L407.9,388.0 L408.4,388.0 L408.8,387.9 L409.3,387.9 L409.8,387.9 L410.3,387.9 L410.7,387.9 L411.2,387.9 L411.7,388.0 L412.2,388.0 L412.6,388.1 L413.1,388.1 L413.6,388.2 L414.1,388.3 L414.5,388.5 L415.0,388.6 L415.5,388.7 L416.0,388.9 L416.4,389.1 L416.9,389.2 L417.4,389.4 L417.9,389.5 L418.3,389.7 L418.8,389.9 L419.3,390.1 L419.8,390.3 L420.2,390.6 L420.7,390.8 L421.2,391.1 L421.7,391.3 L422.1,391.6 L422.6,391.8 L423.1,392.1 L423.6,392.4 L424.0,392.7 L424.5,393.0 L425.0,393.3 L425.5,393.6 L425.9,393.9 L426.4,394.3 L426.9,394.6 L427.4,394.9 L427.8,395.3 L428.3,395.6 L428.8,396.0 L429.3,396.3 L429.7,396.7 L430.2,397.1 L430.7,397.4 L431.2,397.8 L431.6,398.2 L432.1,398.6 L432.6,399.0 L433.1,399.4 L433.5,399.8 L434.0,400.2 L434.5,400.6 L435.0,400.9 L435.4,401.3 L435.9,401.6 L436.4,402.0 L436.9,402.3 L437.3,402.6 L437.8,402.9 L438.3,403.2 L438.8,403.5 L439.2,403.8 L439.7,404.0 L440.2,404.3 L440.7,404.6 L441.1,404.8 L441.6,405.1 L442.1,405.4 L442.6,405.6 L443.0,405.9 L443.5,406.1 L444.0,406.4 L444.5,406.6 L444.9,406.9 L445.4,407.1 L445.9,407.4 L446.4,407.6 L446.8,407.8 L447.3,408.1 L447.8,408.3 L448.3,408.5 L448.7,408.7 L449.2,408.9 L449.7,409.2 L450.2,409.4 L450.6,409.6 L451.1,409.8 L451.6,410.0 L452.1,410.2 L452.5,410.3 L453.0,410.5 L453.5,410.7 L454.0,410.9 L454.4,411.0 L454.9,411.2 L455.4,411.4 L455.9,411.5 L456.3,411.7 L456.8,411.8 L457.3,412.0 L457.8,412.1 L458.2,412.3 L458.7,412.4 L459.2,412.6 L459.7,412.7 L460.1,412.8 L460.6,412.9 L461.1,413.1 L461.6,413.2 L462.0,413.3 L462.5,413.4 L463.0,413.6 L463.5,413.7 L463.9,413.8 L464.4,413.9 L464.9,414.0 L465.4,414.1 L465.8,414.2 L466.3,414.4 L466.8,414.5 L467.3,414.6 L467.7,414.7 L468.2,414.8 L468.7,414.9 L469.2,415.0 L469.6,415.1 L470.1,415.2 L470.6,415.3 L471.1,415.4 L471.5,415.4 L472.0,415.5 L472.5,415.6 L473.0,415.7 L473.4,415.7 L473.9,415.8 L474.4,415.8 L474.9,415.9 L475.3,415.9 L475.8,416.0 L476.3,416.0 L476.8,416.1 L477.2,416.1 L477.7,416.1 L478.2,416.2 L478.7,416.2 L479.1,416.2 L479.6,416.3 L480.1,416.3 L480.6,416.3 L481.0,416.4 L481.5,416.4 L482.0,416.4 L482.5,416.4 L482.9,416.5 L483.4,416.5 L483.9,416.5 L484.4,416.6 L484.8,416.6 L485.3,416.6 L485.8,416.7 L486.3,416.7 L486.7,416.7 L487.2,416.8 L487.7,416.8 L488.2,416.8 L488.6,416.9 L489.1,416.9 L489.6,416.9 L490.1,416.9 L490.5,417.0 L491.0,417.0 L491.5,417.0 L492.0,417.0 L492.4,417.0 L492.9,417.0 L493.4,417.0 L493.9,417.0 L494.3,417.0 L494.8,417.0 L495.3,417.0 L495.8,417.0 L496.2,417.0 L496.7,417.0 L497.2,417.0 L497.7,417.0 L498.1,417.0 L498.6,417.0 L499.1,417.0 L499.6,417.0 L500.0,417.0 L500.5,417.0 L501.0,417.0 L501.5,417.0 L501.9,417.0 L502.4,417.0 L502.9,417.0 L503.4,417.0 L503.8,417.0 L504.3,417.0 L504.8,417.0 L505.3,417.0 L505.7,417.0 L506.2,417.0 L506.7,417.0 L507.2,417.0 L507.6,417.0 L508.1,417.0 L508.6,417.0 L509.1,417.0 L509.5,417.0 L510.0,417.0 L510.5,417.0 L511.0,417.0 L511.4,417.0 L511.9,417.0 L512.4,417.0 L512.9,417.0 L513.3,417.0 L513.8,417.0 L514.3,417.0 L514.8,417.0 L515.2,417.0 L515.7,417.0 L516.2,417.0 L516.7,417.0 L517.1,417.0 L517.6,417.0 L518.1,417.0 L518.6,417.0 L519.0,417.0 L519.5,417.0 L520.0,417.0 L520.5,417.0 L520.9,417.0 L521.4,417.0 L521.9,417.0 L522.4,417.0 L522.8,417.0 L523.3,417.0 L523.8,417.0 L524.3,417.0 L524.7,417.0 L525.2,417.0 L525.7,417.0 L526.2,417.0 L526.6,417.0 L527.1,417.0 L527.6,417.0 L528.1,417.0 L528.5,417.0 L529.0,417.0 L529.0,418.0 L528.5,418.0 L528.1,418.0 L527.6,418.0 L527.1,418.0 L526.6,418.0 L526.2,418.0 L525.7,418.0 L525.2,418.0 L524.7,418.0 L524.3,418.0 L523.8,418.0 L523.3,418.0 L522.8,418.0 L522.4,418.0 L521.9,418.0 L521.4,418.0 L520.9,418.0 L520.5,418.0 L520.0,418.0 L519.5,418.0 L519.0,418.0 L518.6,418.0 L518.1,418.0 L517.6,418.0 L517.1,418.0 L516.7,418.0 L516.2,418.0 L515.7,418.0 L515.2,418.0 L514.8,418.0 L514.3,418.0 L513.8,418.0 L513.3,418.0 L512.9,418.0 L512.4,418.0 L511.9,418.0 L511.4,418.0 L511.0,418.0 L510.5,418.0 L510.0,418.0 L509.5,418.0 L509.1,418.0 L508.6,418.0 L508.1,418.0 L507.6,418.0 L507.2,418.0 L506.7,418.0 L506.2,418.0 L505.7,418.0 L505.3,418.0 L504.8,418.0 L504.3,418.0 L503.8,418.0 L503.4,418.0 L502.9,418.0 L502.4,418.0 L501.9,418.0 L501.5,418.0 L501.0,418.0 L500.5,418.0 L500.0,418.0 L499.6,418.0 L499.1,418.0 L498.6,418.0 L498.1,418.0 L497.7,418.0 L497.2,418.0 L496.7,418.0 L496.2,418.0 L495.8,418.0 L495.3,418.0 L494.8,418.0 L494.3,418.0 L493.9,418.0 L493.4,418.0 L492.9,418.0 L492.4,418.0 L492.0,418.0 L491.5,418.0 L491.0,418.0 L490.5,418.0 L490.1,417.9 L489.6,417.9 L489.1,417.9 L488.6,417.9 L488.2,417.8 L487.7,417.8 L487.2,417.8 L486.7,417.7 L486.3,417.7 L485.8,417.7 L485.3,417.6 L484.8,417.6 L484.4,417.6 L483.9,417.5 L483.4,417.5 L482.9,417.5 L482.5,417.5 L482.0,417.4 L481.5,417.4 L481.0,417.4 L480.6,417.4 L480.1,417.4 L479.6,417.3 L479.1,417.3 L478.7,417.3 L478.2,417.3 L477.7,417.2 L477.2,417.2 L476.8,417.2 L476.3,417.2 L475.8,417.1 L475.3,417.1 L474.9,417.1 L474.4,417.0 L473.9,417.0 L473.4,416.9 L473.0,416.9 L472.5,416.9 L472.0,416.8 L471.5,416.8 L471.1,416.7 L470.6,416.7 L470.1,416.6 L469.6,416.5 L469.2,416.5 L468.7,416.4 L468.2,416.3 L467.7,416.3 L467.3,416.2 L466.8,416.1 L466.3,416.0 L465.8,416.0 L465.4,415.9 L464.9,415.8 L464.4,415.7 L463.9,415.6 L463.5,415.5 L463.0,415.4 L462.5,415.3 L462.0,415.2 L461.6,415.1 L461.1,415.0 L460.6,414.8 L460.1,414.7 L459.7,414.6 L459.2,414.4 L458.7,414.3 L458.2,414.1 L457.8,414.0 L457.3,413.8 L456.8,413.7 L456.3,413.5 L455.9,413.4 L455.4,413.2 L454.9,413.1 L454.4,412.9 L454.0,412.8 L453.5,412.6 L453.0,412.5 L452.5,412.3 L452.1,412.2 L451.6,412.0 L451.1,411.8 L450.6,411.7 L450.2,411.5 L449.7,411.3 L449.2,411.2 L448.7,411.0 L448.3,410.8 L447.8,410.6 L447.3,410.4 L446.8,410.2 L446.4,410.0 L445.9,409.8 L445.4,409.5 L444.9,409.3 L444.5,409.1 L444.0,408.8 L443.5,408.6 L443.0,408.4 L442.6,408.1 L442.1,407.9 L441.6,407.6 L441.1,407.4 L440.7,407.1 L440.2,406.8 L439.7,406.5 L439.2,406.3 L438.8,406.0 L438.3,405.7 L437.8,405.4 L437.3,405.1 L436.9,404.8 L436.4,404.5 L435.9,404.2 L435.4,403.8 L435.0,403.5 L434.5,403.2 L434.0,402.9 L433.5,402.5 L433.1,402.2 L432.6,401.9 L432.1,401.5 L431.6,401.2 L431.2,400.8 L430.7,400.5 L430.2,400.1 L429.7,399.8 L429.3,399.5 L428.8,399.1 L428.3,398.8 L427.8,398.4 L427.4,398.1 L426.9,397.7 L426.4,397.4 L425.9,397.0 L425.5,396.7 L425.0,396.4 L424.5,396.1 L424.0,395.8 L423.6,395.5 L423.1,395.2 L422.6,395.0 L422.1,394.7 L421.7,394.5 L421.2,394.2 L420.7,394.0 L420.2,393.8 L419.8,393.6 L419.3,393.4 L418.8,393.2 L418.3,393.0 L417.9,392.9 L417.4,392.7 L416.9,392.6 L416.4,392.5 L416.0,392.4 L415.5,392.2 L415.0,392.1 L414.5,392.0 L414.1,391.9 L413.6,391.8 L413.1,391.8 L412.6,391.7 L412.2,391.7 L411.7,391.6 L411.2,391.6 L410.7,391.6 L410.3,391.6 L409.8,391.6 L409.3,391.6 L408.8,391.7 L408.4,391.7 L407.9,391.7 L407.4,391.7 L406.9,391.8 L406.5,391.8 L406.0,391.8 L405.5,391.9 L405.0,391.9 L404.6,392.0 L404.1,392.1 L403.6,392.2 L403.1,392.3 L402.7,392.4 L402.2,392.6 L401.7,392.8 L401.2,392.9 L400.8,393.1 L400.3,393.3 L399.8,393.5 L399.3,393.8 L398.9,394.0 L398.4,394.2 L397.9,394.5 L397.4,394.7 L397.0,395.0 L396.5,395.3 L396.0,395.6 L395.5,395.9 L395.1,396.3 L394.6,396.6 L394.1,397.0 L393.6,397.3 L393.2,397.6 L392.7,398.0 L392.2,398.3 L391.7,398.6 L391.3,399.0 L390.8,399.3 L390.3,399.7 L389.8,400.0 L389.4,400.3 L388.9,400.7 L388.4,401.0 L387.9,401.4 L387.5,401.7 L387.0,402.1Z" fill="#7CAE00" fill-opacity="0.5" stroke="none"/>
<path d="M469,416h14v1h-14zM453,412h6v1h-6zM391,394h2v1h-2zM396,394h2v1h-2zM422,394h5v1h-5zM483,417h46v1h-46zM403,388h12v1h-12zM400,389h3v1h-3zM405,389h8v1h-8zM415,389h3v1h-3zM460,414h7v1h-7zM396,391h2v1h-2zM399,391h2v1h-2zM402,391h20v1h-20zM463,415h9v1h-9zM398,390h2v1h-2zM401,390h4v1h-4zM413,390h4v1h-4zM418,390h2v1h-2zM397,392h2v1h-2zM400,392h2v1h-2zM417,392h7v1h-7zM432,401h4v1h-4zM389,397h2v1h-2zM427,397h4v1h-4zM393,393h4v1h-4zM398,393h2v1h-2zM420,393h5v1h-5zM448,410h5v1h-5zM440,406h4v1h-4zM434,402h3v1h-3zM390,398h2v1h-2zM428,398h4v1h-4zM456,413h7v1h-7zM435,403h4v1h-4zM429,399h4v1h-4zM392,395h2v1h-2zM424,395h4v1h-4zM443,408h5v1h-5zM431,400h3v1h-3zM450,411h6v1h-6zM445,409h5v1h-5zM442,407h4v1h-4zM438,405h4v1h-4zM388,396h2v1h-2zM393,396h2v1h-2zM425,396h4v1h-4zM437,404h3v1h-3zM389,399h1v1h-1zM395,392h1v1h-1zM395,395h1v1h-1zM394,394h1v1h-1zM387,397h1v1h-1zM387,399h1v1h-1zM387,401h1v1h-1zM391,396h1v1h-1zM388,398h1v1h-1zM388,400h1v1h-1zM390,395h1v1h-1zM392,397h1v1h-1z" fill="#7CAE00"/>

<path d="M387.0,413.0 L387.5,413.0 L387.9,412.9 L388.4,412.8 L388.9,412.7 L389.4,412.6 L389.8,412.5 L390.3,412.5 L390.8,412.4 L391.3,412.3 L391.7,412.2 L392.2,412.0 L392.7,411.9 L393.2,411.8 L393.6,411.7 L394.1,411.6 L394.6,411.5 L395.1,411.3 L395.5,411.2 L396.0,411.1 L396.5,410.9 L397.0,410.8 L397.4,410.6 L397.9,410.5 L398.4,410.3 L398.9,410.1 L399.3,410.0 L399.8,409.8 L400.3,409.6 L400.8,409.4 L401.2,409.2 L401.7,409.0 L402.2,408.8 L402.7,408.6 L403.1,408.4 L403.6,408.2 L404.1,407.9 L404.6,407.7 L405.0,407.4 L405.5,407.2 L406.0,406.9 L406.5,406.7 L406.9,406.4 L407.4,406.1 L407.9,405.8 L408.4,405.5 L408.8,405.2 L409.3,404.9 L409.8,404.6 L410.3,404.3 L410.7,403.9 L411.2,403.6 L411.7,403.3 L412.2,403.0 L412.6,402.6 L413.1,402.3 L413.6,402.0 L414.1,401.6 L414.5,401.3 L415.0,400.9 L415.5,400.6 L416.0,400.2 L416.4,399.8 L416.9,399.4 L417.4,399.1 L417.9,398.7 L418.3,398.3 L418.8,397.9 L419.3,397.5 L419.8,397.0 L420.2,396.6 L420.7,396.2 L421.2,395.7 L421.7,395.3 L422.1,394.8 L422.6,394.3 L423.1,393.8 L423.6,393.3 L424.0,392.8 L424.5,392.3 L425.0,391.7 L425.5,391.2 L425.9,390.6 L426.4,390.0 L426.9,389.4 L427.4,388.8 L427.8,388.2 L428.3,387.6 L428.8,387.0 L429.3,386.5 L429.7,385.9 L430.2,385.3 L430.7,384.8 L431.2,384.2 L431.6,383.7 L432.1,383.1 L432.6,382.6 L433.1,382.0 L433.5,381.4 L434.0,380.8 L434.5,380.2 L435.0,379.6 L435.4,378.9 L435.9,378.3 L436.4,377.6 L436.9,376.9 L437.3,376.3 L437.8,375.6 L438.3,374.9 L438.8,374.2 L439.2,373.5 L439.7,372.8 L440.2,372.0 L440.7,371.3 L441.1,370.6 L441.6,369.8 L442.1,369.1 L442.6,368.3 L443.0,367.6 L443.5,366.8 L444.0,366.0 L444.5,365.2 L444.9,364.4 L445.4,363.6 L445.9,362.8 L446.4,361.9 L446.8,361.1 L447.3,360.2 L447.8,359.3 L448.3,358.4 L448.7,357.5 L449.2,356.6 L449.7,355.7 L450.2,354.8 L450.6,354.0 L451.1,353.1 L451.6,352.3 L452.1,351.4 L452.5,350.6 L453.0,349.8 L453.5,349.1 L454.0,348.3 L454.4,347.6 L454.9,346.8 L455.4,346.1 L455.9,345.4 L456.3,344.7 L456.8,344.0 L457.3,343.3 L457.8,342.7 L458.2,342.0 L458.7,341.4 L459.2,340.7 L459.7,340.1 L460.1,339.5 L460.6,338.9 L461.1,338.3 L461.6,337.7 L462.0,337.2 L462.5,336.6 L463.0,336.0 L463.5,335.5 L463.9,335.0 L464.4,334.4 L464.9,333.9 L465.4,333.4 L465.8,332.9 L466.3,332.4 L466.8,331.9 L467.3,331.5 L467.7,331.0 L468.2,330.5 L468.7,330.0 L469.2,329.6 L469.6,329.1 L470.1,328.6 L470.6,328.1 L471.1,327.6 L471.5,327.1 L472.0,326.6 L472.5,326.1 L473.0,325.6 L473.4,325.0 L473.9,324.5 L474.4,324.0 L474.9,323.5 L475.3,323.0 L475.8,322.5 L476.3,322.0 L476.8,321.6 L477.2,321.1 L477.7,320.7 L478.2,320.3 L478.7,319.9 L479.1,319.5 L479.6,319.2 L480.1,318.8 L480.6,318.5 L481.0,318.2 L481.5,317.9 L482.0,317.6 L482.5,317.4 L482.9,317.1 L483.4,316.9 L483.9,316.7 L484.4,316.5 L484.8,316.3 L485.3,316.1 L485.8,315.9 L486.3,315.7 L486.7,315.5 L487.2,315.4 L487.7,315.2 L488.2,315.1 L488.6,315.0 L489.1,314.8 L489.6,314.7 L490.1,314.7 L490.5,314.6 L491.0,314.6 L491.5,314.5 L492.0,314.5 L492.4,314.5 L492.9,314.6 L493.4,314.7 L493.9,314.7 L494.3,314.9 L494.8,315.0 L495.3,315.1 L495.8,315.3 L496.2,315.5 L496.7,315.6 L497.2,315.8 L497.7,316.0 L498.1,316.3 L498.6,316.5 L499.1,316.7 L499.6,317.0 L500.0,317.3 L500.5,317.6 L501.0,317.9 L501.5,318.2 L501.9,318.6 L502.4,318.9 L502.9,319.3 L503.4,319.7 L503.8,320.1 L504.3,320.5 L504.8,321.0 L505.3,321.4 L505.7,321.9 L506.2,322.4 L506.7,323.0 L507.2,323.5 L507.6,324.1 L508.1,324.7 L508.6,325.3 L509.1,325.9 L509.5,326.5 L510.0,327.1 L510.5,327.8 L511.0,328.4 L511.4,329.1 L511.9,329.7 L512.4,330.4 L512.9,331.1 L513.3,331.8 L513.8,332.5 L514.3,333.2 L514.8,333.9 L515.2,334.7 L515.7,335.5 L516.2,336.2 L516.7,337.1 L517.1,337.9 L517.6,338.8 L518.1,339.6 L518.6,340.6 L519.0,341.5 L519.5,342.4 L520.0,343.4 L520.5,344.4 L520.9,345.3 L521.4,346.3 L521.9,347.3 L522.4,348.2 L522.8,349.1 L523.3,350.0 L523.8,350.9 L524.3,351.8 L524.7,352.6 L525.2,353.5 L525.7,354.3 L526.2,355.1 L526.6,355.9 L527.1,356.7 L527.6,357.5 L528.1,358.2 L528.5,359.0 L529.0,359.8 L529.0,376.7 L528.5,375.9 L528.1,375.1 L527.6,374.3 L527.1,373.5 L526.6,372.7 L526.2,371.9 L525.7,371.0 L525.2,370.1 L524.7,369.2 L524.3,368.3 L523.8,367.3 L523.3,366.4 L522.8,365.5 L522.4,364.6 L521.9,363.7 L521.4,362.8 L520.9,361.9 L520.5,361.1 L520.0,360.2 L519.5,359.4 L519.0,358.7 L518.6,357.9 L518.1,357.2 L517.6,356.5 L517.1,355.9 L516.7,355.3 L516.2,354.8 L515.7,354.2 L515.2,353.7 L514.8,353.3 L514.3,352.8 L513.8,352.3 L513.3,351.9 L512.9,351.4 L512.4,350.9 L511.9,350.4 L511.4,349.8 L511.0,349.3 L510.5,348.7 L510.0,348.1 L509.5,347.5 L509.1,346.9 L508.6,346.3 L508.1,345.6 L507.6,345.0 L507.2,344.4 L506.7,343.7 L506.2,343.1 L505.7,342.5 L505.3,341.8 L504.8,341.2 L504.3,340.5 L503.8,339.9 L503.4,339.2 L502.9,338.6 L502.4,337.9 L501.9,337.3 L501.5,336.7 L501.0,336.2 L500.5,335.6 L500.0,335.1 L499.6,334.6 L499.1,334.2 L498.6,333.8 L498.1,333.4 L497.7,333.1 L497.2,332.8 L496.7,332.5 L496.2,332.2 L495.8,332.0 L495.3,331.7 L494.8,331.5 L494.3,331.3 L493.9,331.1 L493.4,330.9 L492.9,330.8 L492.4,330.6 L492.0,330.5 L491.5,330.4 L491.0,330.3 L490.5,330.2 L490.1,330.1 L489.6,330.0 L489.1,329.9 L488.6,329.9 L488.2,329.9 L487.7,329.9 L487.2,329.9 L486.7,329.9 L486.3,329.9 L485.8,330.0 L485.3,330.1 L484.8,330.2 L484.4,330.3 L483.9,330.4 L483.4,330.6 L482.9,330.7 L482.5,330.9 L482.0,331.0 L481.5,331.2 L481.0,331.4 L480.6,331.6 L480.1,331.7 L479.6,332.0 L479.1,332.2 L478.7,332.4 L478.2,332.6 L477.7,332.9 L477.2,333.1 L476.8,333.4 L476.3,333.7 L475.8,333.9 L475.3,334.2 L474.9,334.5 L474.4,334.8 L473.9,335.1 L473.4,335.4 L473.0,335.7 L472.5,336.0 L472.0,336.3 L471.5,336.7 L471.1,337.0 L470.6,337.4 L470.1,337.7 L469.6,338.1 L469.2,338.5 L468.7,338.9 L468.2,339.3 L467.7,339.7 L467.3,340.1 L466.8,340.6 L466.3,341.0 L465.8,341.5 L465.4,341.9 L464.9,342.4 L464.4,342.9 L463.9,343.4 L463.5,344.0 L463.0,344.5 L462.5,345.0 L462.0,345.6 L461.6,346.2 L461.1,346.7 L460.6,347.3 L460.1,347.9 L459.7,348.5 L459.2,349.1 L458.7,349.8 L458.2,350.4 L457.8,351.1 L457.3,351.7 L456.8,352.4 L456.3,353.1 L455.9,353.8 L455.4,354.5 L454.9,355.2 L454.4,355.9 L454.0,356.7 L453.5,357.5 L453.0,358.2 L452.5,359.0 L452.1,359.8 L451.6,360.6 L451.1,361.4 L450.6,362.2 L450.2,363.1 L449.7,363.9 L449.2,364.7 L448.7,365.4 L448.3,366.2 L447.8,367.0 L447.3,367.8 L446.8,368.5 L446.4,369.3 L445.9,370.0 L445.4,370.7 L444.9,371.5 L444.5,372.2 L444.0,372.9 L443.5,373.7 L443.0,374.4 L442.6,375.1 L442.1,375.8 L441.6,376.5 L441.1,377.2 L440.7,377.9 L440.2,378.6 L439.7,379.2 L439.2,379.9 L438.8,380.5 L438.3,381.1 L437.8,381.7 L437.3,382.3 L436.9,382.9 L436.4,383.4 L435.9,384.0 L435.4,384.5 L435.0,384.9 L434.5,385.4 L434.0,385.9 L433.5,386.3 L433.1,386.7 L432.6,387.2 L432.1,387.6 L431.6,388.0 L431.2,388.5 L430.7,388.9 L430.2,389.4 L429.7,389.9 L429.3,390.4 L428.8,390.9 L428.3,391.5 L427.8,392.0 L427.4,392.6 L426.9,393.2 L426.4,393.7 L425.9,394.3 L425.5,394.8 L425.0,395.4 L424.5,395.9 L424.0,396.4 L423.6,396.9 L423.1,397.4 L422.6,397.8 L422.1,398.3 L421.7,398.7 L421.2,399.2 L420.7,399.6 L420.2,400.0 L419.8,400.4 L419.3,400.8 L418.8,401.1 L418.3,401.5 L417.9,401.9 L417.4,402.3 L416.9,402.6 L416.4,403.0 L416.0,403.3 L415.5,403.6 L415.0,404.0 L414.5,404.3 L414.1,404.6 L413.6,404.9 L413.1,405.2 L412.6,405.5 L412.2,405.8 L411.7,406.1 L411.2,406.4 L410.7,406.7 L410.3,407.0 L409.8,407.3 L409.3,407.6 L408.8,407.9 L408.4,408.2 L407.9,408.4 L407.4,408.7 L406.9,409.0 L406.5,409.2 L406.0,409.5 L405.5,409.7 L405.0,409.9 L404.6,410.2 L404.1,410.4 L403.6,410.6 L403.1,410.8 L402.7,411.0 L402.2,411.2 L401.7,411.4 L401.2,411.5 L400.8,411.7 L400.3,411.9 L399.8,412.0 L399.3,412.2 L398.9,412.3 L398.4,412.5 L397.9,412.6 L397.4,412.8 L397.0,412.9 L396.5,413.0 L396.0,413.2 L395.5,413.3 L395.1,413.4 L394.6,413.5 L394.1,413.6 L393.6,413.7 L393.2,413.8 L392.7,413.9 L392.2,414.1 L391.7,414.2 L391.3,414.3 L390.8,414.3 L390.3,414.4 L389.8,414.5 L389.4,414.6 L388.9,414.7 L388.4,414.8 L387.9,414.9 L387.5,415.0 L387.0,415.0Z" fill="#00BFC4" fill-opacity="0.5" stroke="none"/>
<path d="M443,370h2v1h-2zM401,409h5v1h-5zM476,332h2v1h-2zM446,363h2v1h-2zM418,398h4v1h-4zM481,330h3v1h-3zM492,330h3v1h-3zM437,376h2v1h-2zM409,405h4v1h-4zM448,362h2v1h-2zM482,317h2v1h-2zM387,414h3v1h-3zM437,377h2v1h-2zM498,333h2v1h-2zM453,354h2v1h-2zM447,364h2v1h-2zM434,381h2v1h-2zM470,331h2v1h-2zM478,331h3v1h-3zM495,331h2v1h-2zM498,325h2v1h-2zM407,406h4v1h-4zM431,386h2v1h-2zM500,318h2v1h-2zM473,334h2v1h-2zM433,382h2v1h-2zM470,336h2v1h-2zM432,383h2v1h-2zM487,315h9v1h-9zM390,412h8v1h-8zM479,324h2v1h-2zM496,324h2v1h-2zM428,388h3v1h-3zM431,384h2v1h-2zM387,413h8v1h-8zM484,329h8v1h-8zM447,361h2v1h-2zM441,371h2v1h-2zM484,316h3v1h-3zM496,316h3v1h-3zM424,393h2v1h-2zM432,385h2v1h-2zM438,375h2v1h-2zM398,410h6v1h-6zM484,322h10v1h-10zM417,399h4v1h-4zM403,408h5v1h-5zM395,411h6v1h-6zM450,359h2v1h-2zM479,319h2v1h-2zM416,400h3v1h-3zM421,396h3v1h-3zM436,378h2v1h-2zM439,374h2v1h-2zM451,357h2v1h-2zM419,397h4v1h-4zM476,326h2v1h-2zM481,323h3v1h-3zM494,323h2v1h-2zM429,387h3v1h-3zM443,368h2v1h-2zM424,392h3v1h-3zM427,389h3v1h-3zM413,402h4v1h-4zM405,407h4v1h-4zM440,372h2v1h-2zM423,394h3v1h-3zM426,390h3v1h-3zM412,403h4v1h-4zM423,395h2v1h-2zM410,404h4v1h-4zM414,401h4v1h-4zM435,379h2v1h-2zM446,366h2v1h-2zM445,367h2v1h-2zM425,391h3v1h-3zM442,369h2v1h-2zM525,354h1v2h-1zM525,361h1v1h-1zM525,369h1v2h-1zM434,380h1v1h-1zM434,384h1v1h-1zM509,327h1v1h-1zM509,336h1v2h-1zM509,346h1v1h-1zM520,345h1v2h-1zM520,353h1v2h-1zM520,359h1v2h-1zM441,370h1v1h-1zM441,373h1v1h-1zM441,375h1v2h-1zM526,356h1v1h-1zM526,362h1v1h-1zM526,371h1v1h-1zM469,329h1v1h-1zM469,332h1v1h-1zM469,337h1v1h-1zM475,323h1v1h-1zM475,327h1v1h-1zM475,333h1v1h-1zM453,349h1v2h-1zM453,353h1v1h-1zM453,356h1v1h-1zM499,317h1v1h-1zM458,342h1v1h-1zM458,346h1v1h-1zM458,349h1v1h-1zM522,349h1v1h-1zM522,357h1v1h-1zM522,363h1v2h-1zM459,340h1v2h-1zM459,344h1v2h-1zM459,347h1v2h-1zM461,338h1v1h-1zM461,342h1v1h-1zM461,345h1v1h-1zM527,357h1v2h-1zM527,363h1v1h-1zM527,372h1v2h-1zM463,336h1v1h-1zM463,339h1v1h-1zM463,343h1v1h-1zM465,333h1v2h-1zM465,337h1v1h-1zM465,341h1v1h-1zM445,364h1v1h-1zM445,369h1v1h-1zM437,381h1v1h-1zM444,365h1v2h-1zM444,371h1v1h-1zM473,325h1v1h-1zM473,329h1v1h-1zM443,367h1v1h-1zM443,372h1v2h-1zM429,386h1v1h-1zM456,345h1v1h-1zM456,348h1v2h-1zM456,351h1v2h-1zM455,346h1v2h-1zM455,350h1v1h-1zM455,353h1v1h-1zM457,343h1v2h-1zM457,347h1v1h-1zM457,350h1v1h-1zM460,339h1v1h-1zM460,343h1v1h-1zM460,346h1v1h-1zM518,341h1v2h-1zM518,350h1v2h-1zM518,356h1v2h-1zM446,362h1v1h-1zM446,365h1v1h-1zM446,368h1v1h-1zM523,350h1v2h-1zM523,358h1v2h-1zM523,365h1v2h-1zM515,335h1v2h-1zM515,345h1v2h-1zM515,353h1v1h-1zM519,343h1v2h-1zM519,352h1v1h-1zM519,358h1v1h-1zM528,359h1v2h-1zM528,364h1v1h-1zM528,374h1v2h-1zM512,331h1v1h-1zM512,341h1v1h-1zM512,350h1v1h-1zM506,323h1v1h-1zM506,333h1v1h-1zM506,342h1v1h-1zM511,329h1v2h-1zM511,339h1v2h-1zM511,349h1v1h-1zM521,347h1v2h-1zM521,355h1v2h-1zM521,361h1v2h-1zM449,356h1v2h-1zM449,360h1v1h-1zM449,363h1v1h-1zM508,325h1v2h-1zM508,335h1v1h-1zM508,345h1v1h-1zM516,337h1v2h-1zM516,347h1v1h-1zM516,354h1v1h-1zM507,324h1v1h-1zM507,334h1v1h-1zM507,343h1v2h-1zM466,332h1v1h-1zM466,335h1v2h-1zM466,340h1v1h-1zM452,351h1v2h-1zM452,355h1v1h-1zM452,358h1v1h-1zM476,322h1v1h-1zM462,337h1v1h-1zM462,340h1v2h-1zM462,344h1v1h-1zM474,324h1v1h-1zM474,328h1v1h-1zM454,348h1v1h-1zM454,351h1v2h-1zM454,355h1v1h-1zM450,354h1v2h-1zM450,358h1v1h-1zM450,361h1v1h-1zM510,328h1v1h-1zM510,338h1v1h-1zM510,347h1v2h-1zM501,327h1v1h-1zM501,335h1v2h-1zM513,332h1v2h-1zM513,342h1v2h-1zM513,351h1v1h-1zM504,321h1v1h-1zM504,330h1v1h-1zM504,339h1v2h-1zM439,373h1v1h-1zM439,378h1v1h-1zM442,374h1v1h-1zM467,334h1v1h-1zM467,339h1v1h-1zM468,330h1v1h-1zM468,338h1v1h-1zM505,322h1v1h-1zM505,331h1v2h-1zM505,341h1v1h-1zM514,334h1v1h-1zM514,344h1v1h-1zM514,352h1v1h-1zM471,327h1v1h-1zM438,379h1v2h-1zM524,352h1v2h-1zM524,360h1v1h-1zM524,367h1v2h-1zM478,320h1v1h-1zM478,325h1v1h-1zM502,319h1v1h-1zM502,337h1v1h-1zM451,353h1v1h-1zM451,356h1v1h-1zM451,360h1v1h-1zM497,332h1v1h-1zM503,320h1v1h-1zM503,329h1v1h-1zM503,338h1v1h-1zM464,335h1v1h-1zM464,338h1v1h-1zM464,342h1v1h-1zM517,339h1v2h-1zM517,348h1v2h-1zM517,355h1v1h-1zM448,358h1v2h-1zM448,365h1v1h-1zM472,326h1v1h-1zM472,330h1v1h-1zM472,335h1v1h-1zM470,328h1v1h-1zM500,326h1v1h-1zM436,380h1v1h-1zM436,382h1v1h-1zM440,377h1v1h-1zM430,385h1v1h-1zM435,383h1v1h-1zM477,321h1v1h-1zM447,360h1v1h-1zM481,318h1v1h-1z" fill="#00BFC4"/>

<path d="M387.0,49.7 L387.5,50.1 L387.9,50.4 L388.4,50.8 L388.9,51.2 L389.4,51.6 L389.8,52.0 L390.3,52.4 L390.8,52.8 L391.3,53.2 L391.7,53.6 L392.2,54.0 L392.7,54.4 L393.2,54.8 L393.6,55.2 L394.1,55.6 L394.6,56.1 L395.1,56.5 L395.5,56.9 L396.0,57.3 L396.5,57.8 L397.0,58.2 L397.4,58.6 L397.9,59.0 L398.4,59.5 L398.9,59.9 L399.3,60.3 L399.8,60.7 L400.3,61.1 L400.8,61.4 L401.2,61.8 L401.7,62.2 L402.2,62.6 L402.7,63.0 L403.1,63.3 L403.6,63.7 L404.1,64.1 L404.6,64.5 L405.0,64.8 L405.5,65.2 L406.0,65.5 L406.5,65.9 L406.9,66.2 L407.4,66.6 L407.9,66.9 L408.4,67.3 L408.8,67.6 L409.3,67.9 L409.8,68.2 L410.3,68.5 L410.7,68.8 L411.2,69.1 L411.7,69.4 L412.2,69.7 L412.6,70.0 L413.1,70.3 L413.6,70.6 L414.1,70.8 L414.5,71.1 L415.0,71.4 L415.5,71.6 L416.0,71.9 L416.4,72.1 L416.9,72.4 L417.4,72.6 L417.9,72.9 L418.3,73.1 L418.8,73.3 L419.3,73.6 L419.8,73.8 L420.2,74.0 L420.7,74.2 L421.2,74.5 L421.7,74.7 L422.1,74.9 L422.6,75.2 L423.1,75.4 L423.6,75.6 L424.0,75.9 L424.5,76.1 L425.0,76.4 L425.5,76.7 L425.9,76.9 L426.4,77.2 L426.9,77.5 L427.4,77.7 L427.8,78.0 L428.3,78.3 L428.8,78.6 L429.3,78.9 L429.7,79.1 L430.2,79.4 L430.7,79.7 L431.2,80.0 L431.6,80.3 L432.1,80.6 L432.6,80.8 L433.1,81.1 L433.5,81.4 L434.0,81.7 L434.5,82.0 L435.0,82.3 L435.4,82.7 L435.9,83.0 L436.4,83.4 L436.9,83.7 L437.3,84.1 L437.8,84.4 L438.3,84.8 L438.8,85.2 L439.2,85.6 L439.7,86.0 L440.2,86.5 L440.7,86.9 L441.1,87.4 L441.6,87.8 L442.1,88.3 L442.6,88.8 L443.0,89.3 L443.5,89.8 L444.0,90.4 L444.5,91.0 L444.9,91.6 L445.4,92.2 L445.9,92.8 L446.4,93.5 L446.8,94.2 L447.3,94.8 L447.8,95.5 L448.3,96.2 L448.7,96.8 L449.2,97.5 L449.7,98.2 L450.2,98.8 L450.6,99.5 L451.1,100.2 L451.6,100.8 L452.1,101.5 L452.5,102.1 L453.0,102.8 L453.5,103.5 L454.0,104.1 L454.4,104.8 L454.9,105.5 L455.4,106.2 L455.9,106.9 L456.3,107.6 L456.8,108.3 L457.3,109.0 L457.8,109.7 L458.2,110.4 L458.7,111.2 L459.2,111.9 L459.7,112.6 L460.1,113.3 L460.6,114.0 L461.1,114.7 L461.6,115.5 L462.0,116.2 L462.5,116.9 L463.0,117.6 L463.5,118.3 L463.9,119.0 L464.4,119.7 L464.9,120.4 L465.4,121.1 L465.8,121.7 L466.3,122.4 L466.8,123.0 L467.3,123.7 L467.7,124.4 L468.2,125.0 L468.7,125.7 L469.2,126.4 L469.6,127.1 L470.1,127.8 L470.6,128.5 L471.1,129.2 L471.5,130.0 L472.0,130.7 L472.5,131.5 L473.0,132.3 L473.4,133.0 L473.9,133.8 L474.4,134.6 L474.9,135.3 L475.3,136.1 L475.8,136.8 L476.3,137.6 L476.8,138.3 L477.2,139.1 L477.7,139.8 L478.2,140.5 L478.7,141.3 L479.1,142.0 L479.6,142.7 L480.1,143.4 L480.6,144.2 L481.0,144.9 L481.5,145.6 L482.0,146.3 L482.5,147.1 L482.9,147.8 L483.4,148.5 L483.9,149.2 L484.4,149.9 L484.8,150.6 L485.3,151.2 L485.8,151.9 L486.3,152.6 L486.7,153.3 L487.2,154.0 L487.7,154.7 L488.2,155.4 L488.6,156.1 L489.1,156.9 L489.6,157.6 L490.1,158.4 L490.5,159.1 L491.0,159.9 L491.5,160.6 L492.0,161.4 L492.4,162.2 L492.9,162.9 L493.4,163.7 L493.9,164.4 L494.3,165.2 L494.8,165.9 L495.3,166.6 L495.8,167.3 L496.2,168.0 L496.7,168.7 L497.2,169.3 L497.7,170.0 L498.1,170.7 L498.6,171.3 L499.1,172.0 L499.6,172.7 L500.0,173.3 L500.5,174.0 L501.0,174.7 L501.5,175.3 L501.9,176.0 L502.4,176.7 L502.9,177.4 L503.4,178.1 L503.8,178.8 L504.3,179.5 L504.8,180.3 L505.3,181.0 L505.7,181.8 L506.2,182.6 L506.7,183.5 L507.2,184.4 L507.6,185.3 L508.1,186.2 L508.6,187.2 L509.1,188.1 L509.5,189.1 L510.0,190.0 L510.5,190.9 L511.0,191.8 L511.4,192.7 L511.9,193.5 L512.4,194.4 L512.9,195.3 L513.3,196.2 L513.8,197.1 L514.3,198.0 L514.8,199.0 L515.2,200.0 L515.7,201.1 L516.2,202.1 L516.7,203.2 L517.1,204.2 L517.6,205.3 L518.1,206.4 L518.6,207.5 L519.0,208.6 L519.5,209.7 L520.0,210.8 L520.5,211.9 L520.9,213.0 L521.4,214.0 L521.9,215.1 L522.4,216.1 L522.8,217.2 L523.3,218.2 L523.8,219.3 L524.3,220.4 L524.7,221.6 L525.2,222.9 L525.7,224.1 L526.2,225.5 L526.6,226.9 L527.1,228.3 L527.6,229.7 L528.1,231.2 L528.5,232.7 L529.0,234.1 L529.0,293.3 L528.5,291.5 L528.1,289.6 L527.6,287.7 L527.1,285.9 L526.6,284.1 L526.2,282.3 L525.7,280.5 L525.2,278.7 L524.7,276.9 L524.3,275.2 L523.8,273.4 L523.3,271.7 L522.8,270.0 L522.4,268.2 L521.9,266.5 L521.4,264.8 L520.9,263.1 L520.5,261.5 L520.0,259.9 L519.5,258.3 L519.0,256.9 L518.6,255.4 L518.1,254.0 L517.6,252.6 L517.1,251.2 L516.7,249.7 L516.2,248.1 L515.7,246.4 L515.2,244.7 L514.8,243.0 L514.3,241.3 L513.8,239.7 L513.3,238.1 L512.9,236.6 L512.4,235.2 L511.9,233.8 L511.4,232.5 L511.0,231.2 L510.5,230.0 L510.0,228.7 L509.5,227.5 L509.1,226.2 L508.6,225.0 L508.1,223.7 L507.6,222.5 L507.2,221.2 L506.7,220.0 L506.2,218.7 L505.7,217.5 L505.3,216.3 L504.8,215.1 L504.3,213.9 L503.8,212.7 L503.4,211.5 L502.9,210.3 L502.4,209.1 L501.9,208.0 L501.5,206.8 L501.0,205.6 L500.5,204.5 L500.0,203.4 L499.6,202.2 L499.1,201.1 L498.6,200.1 L498.1,199.0 L497.7,197.9 L497.2,196.9 L496.7,195.8 L496.2,194.8 L495.8,193.7 L495.3,192.5 L494.8,191.4 L494.3,190.2 L493.9,188.9 L493.4,187.7 L492.9,186.5 L492.4,185.2 L492.0,183.9 L491.5,182.7 L491.0,181.5 L490.5,180.3 L490.1,179.2 L489.6,178.1 L489.1,177.0 L488.6,176.0 L488.2,175.0 L487.7,174.0 L487.2,173.1 L486.7,172.1 L486.3,171.2 L485.8,170.3 L485.3,169.3 L484.8,168.4 L484.4,167.5 L483.9,166.5 L483.4,165.6 L482.9,164.6 L482.5,163.7 L482.0,162.7 L481.5,161.8 L481.0,160.8 L480.6,159.9 L480.1,158.9 L479.6,158.0 L479.1,157.1 L478.7,156.1 L478.2,155.2 L477.7,154.3 L477.2,153.4 L476.8,152.4 L476.3,151.5 L475.8,150.6 L475.3,149.7 L474.9,148.7 L474.4,147.8 L473.9,146.9 L473.4,146.0 L473.0,145.0 L472.5,144.1 L472.0,143.2 L471.5,142.2 L471.1,141.3 L470.6,140.3 L470.1,139.3 L469.6,138.3 L469.2,137.3 L468.7,136.3 L468.2,135.4 L467.7,134.5 L467.3,133.6 L466.8,132.8 L466.3,132.0 L465.8,131.2 L465.4,130.5 L464.9,129.7 L464.4,129.0 L463.9,128.3 L463.5,127.6 L463.0,126.9 L462.5,126.2 L462.0,125.4 L461.6,124.7 L461.1,123.9 L460.6,123.2 L460.1,122.4 L459.7,121.6 L459.2,120.9 L458.7,120.1 L458.2,119.3 L457.8,118.6 L457.3,117.8 L456.8,117.1 L456.3,116.4 L455.9,115.6 L455.4,114.9 L454.9,114.2 L454.4,113.5 L454.0,112.8 L453.5,112.1 L453.0,111.3 L452.5,110.6 L452.1,109.8 L451.6,109.1 L451.1,108.3 L450.6,107.5 L450.2,106.8 L449.7,106.0 L449.2,105.2 L448.7,104.5 L448.3,103.8 L447.8,103.0 L447.3,102.4 L446.8,101.7 L446.4,101.0 L445.9,100.4 L445.4,99.8 L444.9,99.2 L444.5,98.6 L444.0,98.0 L443.5,97.5 L443.0,96.9 L442.6,96.3 L442.1,95.8 L441.6,95.2 L441.1,94.6 L440.7,94.1 L440.2,93.5 L439.7,93.0 L439.2,92.5 L438.8,92.0 L438.3,91.5 L437.8,91.0 L437.3,90.5 L436.9,90.1 L436.4,89.6 L435.9,89.2 L435.4,88.8 L435.0,88.4 L434.5,88.0 L434.0,87.6 L433.5,87.2 L433.1,86.9 L432.6,86.5 L432.1,86.2 L431.6,85.8 L431.2,85.5 L430.7,85.1 L430.2,84.8 L429.7,84.4 L429.3,84.1 L428.8,83.8 L428.3,83.5 L427.8,83.1 L427.4,82.8 L426.9,82.5 L426.4,82.2 L425.9,81.9 L425.5,81.6 L425.0,81.3 L424.5,81.1 L424.0,80.8 L423.6,80.5 L423.1,80.3 L422.6,80.0 L422.1,79.8 L421.7,79.5 L421.2,79.3 L420.7,79.0 L420.2,78.8 L419.8,78.6 L419.3,78.3 L418.8,78.1 L418.3,77.8 L417.9,77.6 L417.4,77.3 L416.9,77.1 L416.4,76.8 L416.0,76.5 L415.5,76.3 L415.0,76.0 L414.5,75.7 L414.1,75.4 L413.6,75.1 L413.1,74.9 L412.6,74.6 L412.2,74.3 L411.7,74.0 L411.2,73.7 L410.7,73.4 L410.3,73.0 L409.8,72.7 L409.3,72.4 L408.8,72.0 L408.4,71.7 L407.9,71.3 L407.4,71.0 L406.9,70.6 L406.5,70.2 L406.0,69.9 L405.5,69.5 L405.0,69.1 L404.6,68.8 L404.1,68.4 L403.6,68.0 L403.1,67.6 L402.7,67.3 L402.2,66.9 L401.7,66.5 L401.2,66.1 L400.8,65.7 L400.3,65.4 L399.8,65.0 L399.3,64.6 L398.9,64.2 L398.4,63.7 L397.9,63.3 L397.4,62.9 L397.0,62.5 L396.5,62.0 L396.0,61.6 L395.5,61.2 L395.1,60.7 L394.6,60.3 L394.1,59.9 L393.6,59.4 L393.2,59.0 L392.7,58.6 L392.2,58.2 L391.7,57.8 L391.3,57.3 L390.8,56.9 L390.3,56.5 L389.8,56.1 L389.4,55.7 L388.9,55.3 L388.4,54.9 L387.9,54.6 L387.5,54.2 L387.0,53.8Z" fill="#C77CFF" fill-opacity="0.5" stroke="none"/>
<path d="M396,59h2v1h-2zM412,72h2v1h-2zM415,72h2v1h-2zM455,113h2v1h-2zM416,74h2v1h-2zM419,74h2v1h-2zM392,57h2v1h-2zM409,70h2v1h-2zM422,79h2v1h-2zM425,79h2v1h-2zM425,81h2v1h-2zM432,81h2v1h-2zM407,67h2v1h-2zM399,64h5v1h-5zM418,77h2v1h-2zM422,77h2v1h-2zM425,77h2v1h-2zM403,65h3v1h-3zM414,75h2v1h-2zM418,75h2v1h-2zM421,75h2v1h-2zM427,82h2v1h-2zM430,82h2v1h-2zM411,73h2v1h-2zM414,73h2v1h-2zM417,73h2v1h-2zM433,84h2v1h-2zM436,84h2v1h-2zM462,124h2v1h-2zM398,61h3v1h-3zM436,89h2v1h-2zM439,89h2v1h-2zM387,52h3v1h-3zM416,76h2v1h-2zM420,76h2v1h-2zM423,76h2v1h-2zM389,53h2v1h-2zM448,102h2v1h-2zM390,54h3v1h-3zM457,116h2v1h-2zM431,85h2v1h-2zM420,78h2v1h-2zM427,78h2v1h-2zM404,68h4v1h-4zM393,58h4v1h-4zM390,56h3v1h-3zM410,69h2v1h-2zM408,71h2v1h-2zM413,71h2v1h-2zM427,80h2v1h-2zM430,80h2v1h-2zM460,121h2v1h-2zM397,60h2v1h-2zM510,191h1v2h-1zM510,210h1v2h-1zM510,227h1v3h-1zM445,92h1v2h-1zM445,95h1v2h-1zM445,98h1v2h-1zM493,164h1v2h-1zM493,174h1v1h-1zM493,185h1v3h-1zM482,147h1v2h-1zM482,153h1v2h-1zM482,162h1v2h-1zM525,224h1v3h-1zM525,251h1v3h-1zM525,276h1v4h-1zM446,94h1v1h-1zM446,97h1v1h-1zM446,100h1v1h-1zM467,124h1v2h-1zM467,129h1v1h-1zM467,132h1v2h-1zM457,109h1v2h-1zM457,114h1v1h-1zM457,117h1v1h-1zM478,141h1v2h-1zM478,147h1v1h-1zM478,154h1v2h-1zM526,227h1v3h-1zM526,254h1v3h-1zM526,280h1v3h-1zM486,153h1v2h-1zM486,160h1v2h-1zM486,170h1v2h-1zM449,98h1v1h-1zM449,101h1v1h-1zM449,104h1v2h-1zM507,185h1v2h-1zM507,203h1v2h-1zM507,219h1v3h-1zM524,221h1v3h-1zM524,248h1v3h-1zM524,272h1v4h-1zM499,173h1v1h-1zM499,185h1v2h-1zM499,200h1v2h-1zM500,174h1v2h-1zM500,187h1v2h-1zM500,202h1v2h-1zM508,187h1v2h-1zM508,205h1v2h-1zM508,222h1v3h-1zM521,214h1v3h-1zM521,239h1v3h-1zM521,261h1v4h-1zM412,70h1v1h-1zM452,102h1v2h-1zM452,106h1v1h-1zM452,109h1v1h-1zM528,233h1v2h-1zM528,261h1v4h-1zM528,287h1v4h-1zM520,212h1v2h-1zM520,236h1v3h-1zM520,258h1v3h-1zM404,66h1v1h-1zM481,146h1v1h-1zM481,152h1v1h-1zM481,160h1v2h-1zM485,152h1v1h-1zM485,158h1v2h-1zM485,168h1v2h-1zM513,197h1v2h-1zM513,217h1v3h-1zM513,235h1v4h-1zM527,230h1v3h-1zM527,257h1v4h-1zM527,283h1v4h-1zM504,180h1v2h-1zM504,196h1v2h-1zM504,212h1v2h-1zM453,104h1v1h-1zM453,107h1v2h-1zM453,110h1v2h-1zM405,67h1v1h-1zM514,199h1v2h-1zM514,220h1v2h-1zM514,239h1v3h-1zM523,219h1v2h-1zM523,245h1v3h-1zM523,269h1v3h-1zM503,178h1v2h-1zM503,194h1v2h-1zM503,209h1v3h-1zM518,207h1v3h-1zM518,231h1v2h-1zM518,252h1v3h-1zM456,108h1v1h-1zM456,112h1v1h-1zM456,115h1v1h-1zM389,55h1v1h-1zM516,203h1v2h-1zM516,225h1v3h-1zM516,246h1v3h-1zM460,114h1v2h-1zM460,118h1v2h-1zM460,122h1v1h-1zM517,205h1v2h-1zM517,228h1v3h-1zM517,249h1v3h-1zM401,62h1v1h-1zM401,65h1v1h-1zM492,162h1v2h-1zM492,172h1v2h-1zM492,183h1v2h-1zM506,183h1v2h-1zM506,200h1v3h-1zM506,217h1v2h-1zM496,169h1v1h-1zM496,179h1v2h-1zM496,193h1v2h-1zM477,140h1v1h-1zM477,145h1v2h-1zM477,152h1v2h-1zM474,135h1v1h-1zM474,140h1v2h-1zM474,146h1v2h-1zM459,112h1v2h-1zM459,117h1v1h-1zM459,120h1v1h-1zM440,87h1v1h-1zM440,90h1v1h-1zM440,93h1v1h-1zM448,97h1v1h-1zM448,100h1v1h-1zM448,103h1v1h-1zM509,189h1v2h-1zM509,207h1v3h-1zM509,225h1v2h-1zM400,63h1v1h-1zM498,171h1v2h-1zM498,183h1v2h-1zM498,197h1v3h-1zM441,88h1v1h-1zM441,91h1v1h-1zM441,94h1v1h-1zM502,177h1v1h-1zM502,192h1v2h-1zM502,207h1v2h-1zM519,210h1v2h-1zM519,233h1v3h-1zM519,255h1v3h-1zM455,107h1v1h-1zM455,110h1v2h-1zM455,114h1v1h-1zM396,61h1v1h-1zM505,182h1v1h-1zM505,198h1v2h-1zM505,214h1v3h-1zM407,70h1v1h-1zM495,167h1v2h-1zM495,177h1v2h-1zM495,190h1v3h-1zM480,144h1v2h-1zM480,150h1v2h-1zM480,158h1v2h-1zM462,117h1v2h-1zM462,122h1v1h-1zM462,125h1v1h-1zM473,133h1v2h-1zM473,139h1v1h-1zM473,144h1v2h-1zM491,161h1v1h-1zM491,170h1v2h-1zM491,180h1v3h-1zM463,119h1v1h-1zM463,123h1v1h-1zM463,126h1v2h-1zM484,150h1v2h-1zM484,157h1v1h-1zM484,166h1v2h-1zM488,156h1v2h-1zM488,164h1v2h-1zM488,174h1v2h-1zM451,101h1v1h-1zM451,104h1v2h-1zM451,107h1v2h-1zM454,105h1v2h-1zM454,109h1v1h-1zM454,112h1v1h-1zM433,86h1v1h-1zM476,138h1v2h-1zM476,144h1v1h-1zM476,150h1v2h-1zM466,123h1v1h-1zM466,127h1v2h-1zM466,131h1v1h-1zM444,91h1v1h-1zM444,94h1v1h-1zM444,97h1v1h-1zM522,217h1v2h-1zM522,242h1v3h-1zM522,265h1v4h-1zM458,111h1v1h-1zM458,115h1v1h-1zM458,118h1v2h-1zM461,116h1v1h-1zM461,120h1v1h-1zM461,123h1v1h-1zM515,201h1v2h-1zM515,222h1v3h-1zM515,242h1v4h-1zM490,159h1v2h-1zM490,168h1v2h-1zM490,178h1v2h-1zM402,63h1v1h-1zM402,66h1v1h-1zM483,149h1v1h-1zM483,155h1v2h-1zM483,164h1v2h-1zM494,166h1v1h-1zM494,175h1v2h-1zM494,188h1v2h-1zM403,67h1v1h-1zM447,95h1v2h-1zM447,98h1v2h-1zM447,101h1v1h-1zM487,155h1v1h-1zM487,162h1v2h-1zM487,172h1v2h-1zM497,170h1v1h-1zM497,181h1v2h-1zM497,195h1v2h-1zM388,51h1v1h-1zM388,54h1v1h-1zM429,79h1v1h-1zM429,81h1v1h-1zM429,83h1v1h-1zM479,143h1v1h-1zM479,148h1v2h-1zM479,156h1v2h-1zM469,127h1v2h-1zM469,132h1v2h-1zM469,136h1v2h-1zM443,90h1v1h-1zM443,93h1v1h-1zM443,96h1v1h-1zM501,176h1v1h-1zM501,189h1v3h-1zM501,204h1v3h-1zM475,136h1v2h-1zM475,142h1v2h-1zM475,148h1v2h-1zM435,83h1v1h-1zM435,85h1v1h-1zM435,88h1v1h-1zM512,195h1v2h-1zM512,215h1v2h-1zM512,233h1v2h-1zM465,121h1v2h-1zM465,126h1v1h-1zM465,129h1v2h-1zM436,86h1v1h-1zM387,50h1v1h-1zM387,53h1v1h-1zM450,99h1v2h-1zM450,103h1v1h-1zM450,106h1v1h-1zM424,78h1v1h-1zM424,80h1v1h-1zM439,86h1v1h-1zM439,91h1v2h-1zM398,63h1v1h-1zM511,193h1v2h-1zM511,212h1v3h-1zM511,230h1v3h-1zM472,132h1v1h-1zM472,137h1v2h-1zM472,142h1v2h-1zM409,68h1v1h-1zM442,89h1v1h-1zM442,92h1v1h-1zM442,95h1v1h-1zM391,55h1v1h-1zM464,120h1v1h-1zM464,125h1v1h-1zM464,128h1v1h-1zM432,83h1v1h-1zM397,62h1v1h-1zM468,126h1v1h-1zM468,130h1v2h-1zM468,134h1v2h-1zM394,56h1v1h-1zM394,59h1v1h-1zM471,130h1v2h-1zM471,135h1v2h-1zM471,140h1v2h-1zM489,158h1v1h-1zM489,166h1v2h-1zM489,176h1v2h-1zM413,74h1v1h-1zM438,85h1v1h-1zM438,88h1v1h-1zM393,55h1v1h-1zM434,82h1v1h-1zM434,87h1v1h-1zM470,129h1v1h-1zM470,134h1v1h-1zM470,138h1v2h-1zM411,71h1v1h-1zM430,84h1v1h-1zM437,87h1v1h-1zM395,57h1v1h-1zM395,60h1v1h-1zM406,66h1v1h-1zM406,69h1v1h-1zM410,72h1v1h-1zM399,62h1v1h-1zM408,69h1v1h-1z" fill="#C77CFF"/>

</g>
</g>
<text class="st" x="456.10" y="24.6" text-anchor="middle">Working</text>
<rect x="387" y="435.0" width="1" height="4" fill="#333"/>
<text class="tk" x="387.50" y="453.2" text-anchor="middle">50</text>
<rect x="416" y="435.0" width="1" height="4" fill="#333"/>
<text class="tk" x="416.50" y="453.2" text-anchor="middle">60</text>
<rect x="446" y="435.0" width="1" height="4" fill="#333"/>
<text class="tk" x="446.50" y="453.2" text-anchor="middle">70</text>
<rect x="475" y="435.0" width="1" height="4" fill="#333"/>
<text class="tk" x="475.50" y="453.2" text-anchor="middle">80</text>
<rect x="504" y="435.0" width="1" height="4" fill="#333"/>
<text class="tk" x="504.50" y="453.2" text-anchor="middle">90</text>
<rect x="534" y="435.0" width="1" height="4" fill="#333"/>
<text class="tk" x="534.50" y="453.2" text-anchor="middle">100</text>
<rect x="52.0" y="417" width="4" height="1" fill="#333"/>
<text class="tk" x="48.6" y="422.50" text-anchor="end">0.00</text>
<rect x="52.0" y="320" width="4" height="1" fill="#333"/>
<text class="tk" x="48.6" y="325.50" text-anchor="end">0.25</text>
<rect x="52.0" y="223" width="4" height="1" fill="#333"/>
<text class="tk" x="48.6" y="228.50" text-anchor="end">0.50</text>
<rect x="52.0" y="127" width="4" height="1" fill="#333"/>
<text class="tk" x="48.6" y="132.50" text-anchor="end">0.75</text>
<text class="ti" x="295.3" y="470.3" text-anchor="middle">time</text>
<text class="ti" style="font-size:15.1px" transform="translate(19.6,233.1) rotate(-90)" text-anchor="middle">P</text>
<text class="ti" x="557.1" y="189.8">to</text>
<rect x="557" y="198" width="23" height="93" fill="#F2F2F2" shape-rendering="crispEdges"/>
<g shape-rendering="crispEdges"><rect x="557" y="199" width="23" height="22" fill="#F8766D" fill-opacity="0.5"/>
<rect x="557.5" y="199.5" width="22" height="21" fill="none" stroke="#F8766D" stroke-width="1"/>
<rect x="559" y="209" width="18" height="1" fill="#F8766D"/></g>
<text class="lg" x="587.0" y="214.50">Dead</text>
<g shape-rendering="crispEdges"><rect x="557" y="222" width="23" height="22" fill="#7CAE00" fill-opacity="0.5"/>
<rect x="557.5" y="222.5" width="22" height="21" fill="none" stroke="#7CAE00" stroke-width="1"/>
<rect x="559" y="232" width="18" height="1" fill="#7CAE00"/></g>
<text class="lg" x="587.0" y="237.50">Non-working</text>
<g shape-rendering="crispEdges"><rect x="557" y="245" width="23" height="22" fill="#00BFC4" fill-opacity="0.5"/>
<rect x="557.5" y="245.5" width="22" height="21" fill="none" stroke="#00BFC4" stroke-width="1"/>
<rect x="559" y="255" width="18" height="1" fill="#00BFC4"/></g>
<text class="lg" x="587.0" y="260.50">Retired</text>
<g shape-rendering="crispEdges"><rect x="557" y="268" width="23" height="22" fill="#C77CFF" fill-opacity="0.5"/>
<rect x="557.5" y="268.5" width="22" height="21" fill="none" stroke="#C77CFF" stroke-width="1"/>
<rect x="559" y="278" width="18" height="1" fill="#C77CFF"/></g>
<text class="lg" x="587.0" y="283.50">Working</text>
</svg></body></html>
